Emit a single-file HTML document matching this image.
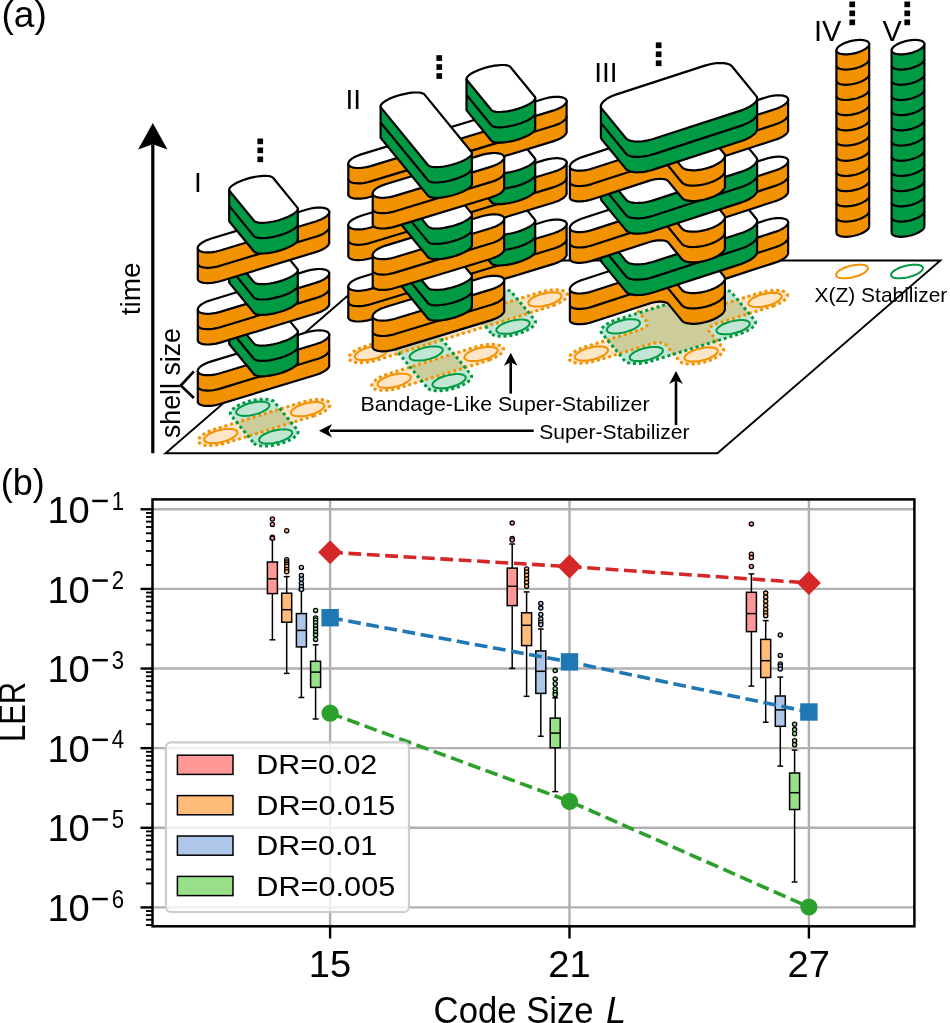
<!DOCTYPE html>
<html><head><meta charset="utf-8"><style>
html,body{margin:0;padding:0;background:#fff;overflow:hidden}
svg{display:block;will-change:transform}
</style></head><body>
<svg width="950" height="1023" viewBox="0 0 950 1023">
<rect width="950" height="1023" fill="#fff"/>
<path d="M165.5 453.3 L717.4 453.3 L940.4 260.5 L388.5 260.5Z" fill="#fff" stroke="#000" stroke-width="1.9" stroke-linejoin="miter"/><path d="M313.3 416.1 L315.7 415.3 L318.0 414.5 L320.2 413.5 L322.2 412.5 L324.0 411.5 L325.6 410.4 L327.0 409.4 L328.1 408.3 L329.0 407.2 L329.6 406.2 L330.0 405.2 L330.0 404.2 L329.8 403.3 L329.3 402.5 L328.5 401.8 L327.5 401.1 L326.2 400.6 L324.7 400.2 L322.9 399.8 L321.0 399.6 L318.9 399.6 L316.7 399.6 L314.3 399.8 L311.9 400.1 L309.4 400.5 L306.8 401.0 L304.3 401.6 L301.9 402.3 L215.1 429.1 L212.7 429.9 L210.4 430.7 L208.2 431.7 L206.2 432.7 L204.4 433.7 L202.8 434.8 L201.4 435.8 L200.3 436.9 L199.4 438.0 L198.8 439.0 L198.4 440.0 L198.4 441.0 L198.6 441.9 L199.1 442.7 L199.9 443.4 L200.9 444.1 L202.2 444.6 L203.7 445.0 L205.5 445.4 L207.4 445.6 L209.5 445.6 L211.7 445.6 L214.1 445.4 L216.5 445.1 L219.0 444.7 L221.6 444.2 L224.1 443.6 L226.5 442.9Z" fill="#fde5c8"/><path d="M253.9 443.2 L254.7 443.9 L255.8 444.5 L257.1 445.1 L258.6 445.5 L260.3 445.8 L262.3 446.0 L264.4 446.1 L266.6 446.0 L269.0 445.9 L271.4 445.6 L273.9 445.2 L276.4 444.7 L278.9 444.1 L281.4 443.4 L283.8 442.6 L286.1 441.7 L288.2 440.8 L290.2 439.8 L292.0 438.7 L293.7 437.7 L295.0 436.6 L296.2 435.5 L297.1 434.5 L297.7 433.4 L298.0 432.4 L298.1 431.5 L297.9 430.6 L297.3 429.8 L274.4 402.1 L273.7 401.3 L272.6 400.7 L271.3 400.1 L269.8 399.7 L268.1 399.4 L266.1 399.2 L264.0 399.1 L261.8 399.2 L259.4 399.3 L257.0 399.6 L254.5 400.0 L252.0 400.5 L249.5 401.1 L247.0 401.8 L244.6 402.6 L242.3 403.5 L240.2 404.4 L238.2 405.4 L236.4 406.5 L234.7 407.5 L233.4 408.6 L232.2 409.7 L231.3 410.7 L230.7 411.8 L230.4 412.8 L230.3 413.7 L230.5 414.6 L231.1 415.4Z" fill="#c2e6d4"/><path d="M236.8 422.4 L248.2 436.2 L291.6 422.8 L280.2 409.0Z" fill="#cdcd9c"/><path d="M313.3 416.1 L315.7 415.3 L318.0 414.5 L320.2 413.5 L322.2 412.5 L324.0 411.5 L325.6 410.4 L327.0 409.4 L328.1 408.3 L329.0 407.2 L329.6 406.2 L330.0 405.2 L330.0 404.2 L329.8 403.3 L329.3 402.5 L328.5 401.8 L327.5 401.1 L326.2 400.6 L324.7 400.2 L322.9 399.8 L321.0 399.6 L318.9 399.6 L316.7 399.6 L314.3 399.8 L311.9 400.1 L309.4 400.5 L306.8 401.0 L304.3 401.6 L301.9 402.3 L215.1 429.1 L212.7 429.9 L210.4 430.7 L208.2 431.7 L206.2 432.7 L204.4 433.7 L202.8 434.8 L201.4 435.8 L200.3 436.9 L199.4 438.0 L198.8 439.0 L198.4 440.0 L198.4 441.0 L198.6 441.9 L199.1 442.7 L199.9 443.4 L200.9 444.1 L202.2 444.6 L203.7 445.0 L205.5 445.4 L207.4 445.6 L209.5 445.6 L211.7 445.6 L214.1 445.4 L216.5 445.1 L219.0 444.7 L221.6 444.2 L224.1 443.6 L226.5 442.9Z" fill="none" stroke="#f39200" stroke-width="3" stroke-dasharray="3 2.9"/><path d="M253.9 443.2 L254.7 443.9 L255.8 444.5 L257.1 445.1 L258.6 445.5 L260.3 445.8 L262.3 446.0 L264.4 446.1 L266.6 446.0 L269.0 445.9 L271.4 445.6 L273.9 445.2 L276.4 444.7 L278.9 444.1 L281.4 443.4 L283.8 442.6 L286.1 441.7 L288.2 440.8 L290.2 439.8 L292.0 438.7 L293.7 437.7 L295.0 436.6 L296.2 435.5 L297.1 434.5 L297.7 433.4 L298.0 432.4 L298.1 431.5 L297.9 430.6 L297.3 429.8 L274.4 402.1 L273.7 401.3 L272.6 400.7 L271.3 400.1 L269.8 399.7 L268.1 399.4 L266.1 399.2 L264.0 399.1 L261.8 399.2 L259.4 399.3 L257.0 399.6 L254.5 400.0 L252.0 400.5 L249.5 401.1 L247.0 401.8 L244.6 402.6 L242.3 403.5 L240.2 404.4 L238.2 405.4 L236.4 406.5 L234.7 407.5 L233.4 408.6 L232.2 409.7 L231.3 410.7 L230.7 411.8 L230.4 412.8 L230.3 413.7 L230.5 414.6 L231.1 415.4Z" fill="none" stroke="#009a44" stroke-width="3" stroke-dasharray="3 2.9"/><path d="M236.9 431.0 L236.3 430.5 L235.5 430.0 L234.6 429.6 L233.4 429.3 L232.1 429.1 L230.7 428.9 L229.2 428.9 L227.5 428.9 L225.8 429.0 L224.0 429.2 L222.1 429.5 L220.2 429.9 L218.4 430.4 L216.6 430.9 L214.8 431.5 L213.1 432.1 L211.5 432.8 L210.0 433.5 L208.7 434.3 L207.5 435.1 L206.4 435.9 L205.6 436.7 L204.9 437.5 L204.5 438.2 L204.2 439.0 L204.2 439.7 L204.4 440.4 L204.7 441.0 L205.3 441.5 L206.1 442.0 L207.0 442.4 L208.2 442.7 L209.5 442.9 L210.9 443.1 L212.4 443.1 L214.1 443.1 L215.8 443.0 L217.6 442.8 L219.5 442.5 L221.4 442.1 L223.2 441.6 L225.0 441.1 L226.8 440.5 L228.5 439.9 L230.1 439.2 L231.6 438.5 L232.9 437.7 L234.1 436.9 L235.2 436.1 L236.0 435.3 L236.7 434.5 L237.1 433.8 L237.4 433.0 L237.4 432.3 L237.2 431.6Z" fill="#fde5c8" stroke="#f39200" stroke-width="2"/><path d="M323.7 404.2 L323.1 403.7 L322.3 403.2 L321.4 402.8 L320.2 402.5 L318.9 402.3 L317.5 402.1 L316.0 402.1 L314.3 402.1 L312.6 402.2 L310.8 402.4 L308.9 402.7 L307.0 403.1 L305.2 403.6 L303.4 404.1 L301.6 404.7 L299.9 405.3 L298.3 406.0 L296.8 406.7 L295.5 407.5 L294.3 408.3 L293.2 409.1 L292.4 409.9 L291.7 410.7 L291.3 411.4 L291.0 412.2 L291.0 412.9 L291.2 413.6 L291.5 414.2 L292.1 414.7 L292.9 415.2 L293.8 415.6 L295.0 415.9 L296.3 416.1 L297.7 416.3 L299.2 416.3 L300.9 416.3 L302.6 416.2 L304.4 416.0 L306.3 415.7 L308.2 415.3 L310.0 414.8 L311.8 414.3 L313.6 413.7 L315.3 413.1 L316.9 412.4 L318.4 411.7 L319.7 410.9 L320.9 410.1 L322.0 409.3 L322.8 408.5 L323.5 407.7 L323.9 407.0 L324.2 406.2 L324.2 405.5 L324.0 404.8Z" fill="#fde5c8" stroke="#f39200" stroke-width="2"/><path d="M268.8 403.8 L268.2 403.2 L267.5 402.8 L266.5 402.4 L265.4 402.1 L264.1 401.8 L262.7 401.7 L261.1 401.6 L259.4 401.7 L257.7 401.8 L255.9 402.0 L254.1 402.3 L252.2 402.7 L250.3 403.1 L248.5 403.6 L246.7 404.2 L245.0 404.9 L243.4 405.6 L242.0 406.3 L240.6 407.0 L239.4 407.8 L238.4 408.6 L237.6 409.4 L236.9 410.2 L236.4 411.0 L236.2 411.7 L236.2 412.4 L236.3 413.1 L236.7 413.7 L237.3 414.3 L238.0 414.7 L239.0 415.1 L240.1 415.4 L241.4 415.7 L242.8 415.8 L244.4 415.9 L246.1 415.8 L247.8 415.7 L249.6 415.5 L251.4 415.2 L253.3 414.8 L255.2 414.4 L257.0 413.9 L258.8 413.3 L260.5 412.6 L262.1 411.9 L263.5 411.2 L264.9 410.5 L266.1 409.7 L267.1 408.9 L267.9 408.1 L268.6 407.3 L269.1 406.5 L269.3 405.8 L269.3 405.1 L269.2 404.4Z" fill="#c2e6d4" stroke="#009a44" stroke-width="2"/><path d="M291.7 431.5 L291.1 430.9 L290.4 430.5 L289.4 430.1 L288.3 429.8 L287.0 429.5 L285.6 429.4 L284.0 429.3 L282.3 429.4 L280.6 429.5 L278.8 429.7 L277.0 430.0 L275.1 430.4 L273.2 430.8 L271.4 431.3 L269.6 431.9 L267.9 432.6 L266.3 433.3 L264.9 434.0 L263.5 434.7 L262.3 435.5 L261.3 436.3 L260.5 437.1 L259.8 437.9 L259.3 438.7 L259.1 439.4 L259.1 440.1 L259.2 440.8 L259.6 441.4 L260.2 442.0 L260.9 442.4 L261.9 442.8 L263.0 443.1 L264.3 443.4 L265.7 443.5 L267.3 443.6 L269.0 443.5 L270.7 443.4 L272.5 443.2 L274.3 442.9 L276.2 442.5 L278.1 442.1 L279.9 441.6 L281.7 441.0 L283.4 440.3 L285.0 439.6 L286.4 438.9 L287.8 438.2 L289.0 437.4 L290.0 436.6 L290.8 435.8 L291.5 435.0 L292.0 434.2 L292.2 433.5 L292.2 432.8 L292.1 432.1Z" fill="#c2e6d4" stroke="#009a44" stroke-width="2"/><path d="M553.1 305.6 L555.4 304.7 L557.5 303.8 L559.5 302.8 L561.3 301.7 L563.0 300.7 L564.3 299.6 L565.5 298.5 L566.4 297.5 L567.0 296.4 L567.3 295.4 L567.4 294.5 L567.2 293.6 L566.6 292.8 L565.9 292.0 L564.8 291.4 L563.5 290.8 L562.0 290.4 L560.3 290.1 L558.3 289.9 L556.2 289.8 L554.0 289.9 L551.6 290.0 L549.2 290.3 L546.7 290.7 L544.2 291.2 L541.7 291.8 L539.2 292.5 L365.6 346.1 L363.2 346.9 L360.9 347.8 L358.8 348.7 L356.8 349.7 L355.0 350.8 L353.3 351.8 L352.0 352.9 L350.8 354.0 L349.9 355.0 L349.3 356.1 L349.0 357.1 L348.9 358.0 L349.1 358.9 L349.7 359.8 L350.4 360.5 L351.5 361.1 L352.8 361.7 L354.3 362.1 L356.0 362.4 L358.0 362.6 L360.1 362.7 L362.3 362.6 L364.7 362.5 L367.1 362.2 L369.6 361.8 L372.1 361.3 L374.6 360.7 L377.1 360.0 L550.7 306.4Z" fill="#fde5c8"/><path d="M489.2 360.1 L491.5 359.2 L493.6 358.3 L495.6 357.3 L497.4 356.2 L499.1 355.2 L500.4 354.1 L501.6 353.0 L502.5 352.0 L503.1 350.9 L503.4 349.9 L503.5 349.0 L503.3 348.1 L502.7 347.2 L502.0 346.5 L500.9 345.9 L499.6 345.3 L498.1 344.9 L496.4 344.6 L494.4 344.4 L492.3 344.3 L490.1 344.4 L487.7 344.5 L485.3 344.8 L482.8 345.2 L480.3 345.7 L477.8 346.3 L475.3 347.0 L388.5 373.8 L386.1 374.6 L383.8 375.5 L381.7 376.4 L379.7 377.4 L377.9 378.5 L376.2 379.5 L374.9 380.6 L373.7 381.7 L372.8 382.7 L372.2 383.8 L371.9 384.8 L371.8 385.7 L372.0 386.6 L372.6 387.5 L373.3 388.2 L374.4 388.8 L375.7 389.4 L377.2 389.8 L378.9 390.1 L380.9 390.3 L383.0 390.4 L385.2 390.3 L387.6 390.2 L390.0 389.9 L392.5 389.5 L395.0 389.0 L397.5 388.4 L400.0 387.7 L486.8 360.9Z" fill="#fde5c8"/><path d="M492.1 334.1 L493.1 334.8 L494.4 335.3 L495.9 335.7 L497.7 336.1 L499.6 336.3 L501.7 336.3 L503.9 336.3 L506.3 336.1 L508.7 335.8 L511.2 335.4 L513.8 334.9 L516.3 334.3 L518.7 333.6 L521.1 332.8 L523.4 332.0 L525.6 331.0 L527.6 330.0 L529.4 329.0 L531.0 327.9 L532.4 326.9 L533.5 325.8 L534.4 324.7 L535.0 323.7 L535.4 322.7 L535.4 321.7 L535.2 320.8 L534.7 320.0 L511.8 292.3 L511.0 291.6 L510.0 290.9 L508.7 290.4 L507.2 290.0 L505.4 289.6 L503.5 289.4 L501.4 289.4 L499.2 289.4 L496.8 289.6 L494.4 289.9 L491.9 290.3 L489.3 290.8 L486.8 291.4 L484.4 292.1 L482.0 292.9 L479.7 293.7 L477.5 294.7 L475.5 295.7 L473.7 296.7 L472.1 297.8 L470.7 298.8 L469.6 299.9 L468.7 301.0 L468.1 302.0 L467.7 303.0 L467.7 304.0 L467.9 304.9 L468.4 305.7 L491.3 333.4Z" fill="#c2e6d4"/><path d="M428.2 388.6 L429.2 389.3 L430.5 389.8 L432.0 390.2 L433.8 390.6 L435.7 390.8 L437.8 390.8 L440.0 390.8 L442.4 390.6 L444.8 390.3 L447.3 389.9 L449.9 389.4 L452.4 388.8 L454.8 388.1 L457.2 387.3 L459.5 386.5 L461.7 385.5 L463.7 384.5 L465.5 383.5 L467.1 382.4 L468.5 381.4 L469.6 380.3 L470.5 379.2 L471.1 378.2 L471.5 377.2 L471.5 376.2 L471.3 375.3 L470.8 374.5 L425.0 319.1 L424.2 318.4 L423.2 317.7 L421.9 317.2 L420.4 316.8 L418.6 316.4 L416.7 316.2 L414.6 316.2 L412.4 316.2 L410.0 316.4 L407.6 316.7 L405.1 317.1 L402.5 317.6 L400.0 318.2 L397.6 318.9 L395.2 319.7 L392.9 320.5 L390.7 321.5 L388.7 322.5 L386.9 323.5 L385.3 324.6 L383.9 325.6 L382.8 326.7 L381.9 327.8 L381.3 328.8 L380.9 329.8 L380.9 330.8 L381.1 331.7 L381.6 332.5 L427.4 387.9Z" fill="#c2e6d4"/><path d="M474.1 312.6 L485.6 326.5 L529.0 313.1 L517.5 299.2Z" fill="#cdcd9c"/><path d="M387.3 339.4 L398.8 353.3 L442.2 339.9 L430.7 326.0Z" fill="#cdcd9c"/><path d="M410.2 367.1 L421.7 381.0 L465.1 367.6 L453.6 353.7Z" fill="#cdcd9c"/><path d="M553.1 305.6 L555.4 304.7 L557.5 303.8 L559.5 302.8 L561.3 301.7 L563.0 300.7 L564.3 299.6 L565.5 298.5 L566.4 297.5 L567.0 296.4 L567.3 295.4 L567.4 294.5 L567.2 293.6 L566.6 292.8 L565.9 292.0 L564.8 291.4 L563.5 290.8 L562.0 290.4 L560.3 290.1 L558.3 289.9 L556.2 289.8 L554.0 289.9 L551.6 290.0 L549.2 290.3 L546.7 290.7 L544.2 291.2 L541.7 291.8 L539.2 292.5 L365.6 346.1 L363.2 346.9 L360.9 347.8 L358.8 348.7 L356.8 349.7 L355.0 350.8 L353.3 351.8 L352.0 352.9 L350.8 354.0 L349.9 355.0 L349.3 356.1 L349.0 357.1 L348.9 358.0 L349.1 358.9 L349.7 359.8 L350.4 360.5 L351.5 361.1 L352.8 361.7 L354.3 362.1 L356.0 362.4 L358.0 362.6 L360.1 362.7 L362.3 362.6 L364.7 362.5 L367.1 362.2 L369.6 361.8 L372.1 361.3 L374.6 360.7 L377.1 360.0 L550.7 306.4Z" fill="none" stroke="#f39200" stroke-width="3" stroke-dasharray="3 2.9"/><path d="M489.2 360.1 L491.5 359.2 L493.6 358.3 L495.6 357.3 L497.4 356.2 L499.1 355.2 L500.4 354.1 L501.6 353.0 L502.5 352.0 L503.1 350.9 L503.4 349.9 L503.5 349.0 L503.3 348.1 L502.7 347.2 L502.0 346.5 L500.9 345.9 L499.6 345.3 L498.1 344.9 L496.4 344.6 L494.4 344.4 L492.3 344.3 L490.1 344.4 L487.7 344.5 L485.3 344.8 L482.8 345.2 L480.3 345.7 L477.8 346.3 L475.3 347.0 L388.5 373.8 L386.1 374.6 L383.8 375.5 L381.7 376.4 L379.7 377.4 L377.9 378.5 L376.2 379.5 L374.9 380.6 L373.7 381.7 L372.8 382.7 L372.2 383.8 L371.9 384.8 L371.8 385.7 L372.0 386.6 L372.6 387.5 L373.3 388.2 L374.4 388.8 L375.7 389.4 L377.2 389.8 L378.9 390.1 L380.9 390.3 L383.0 390.4 L385.2 390.3 L387.6 390.2 L390.0 389.9 L392.5 389.5 L395.0 389.0 L397.5 388.4 L400.0 387.7 L486.8 360.9Z" fill="none" stroke="#f39200" stroke-width="3" stroke-dasharray="3 2.9"/><path d="M492.1 334.1 L493.1 334.8 L494.4 335.3 L495.9 335.7 L497.7 336.1 L499.6 336.3 L501.7 336.3 L503.9 336.3 L506.3 336.1 L508.7 335.8 L511.2 335.4 L513.8 334.9 L516.3 334.3 L518.7 333.6 L521.1 332.8 L523.4 332.0 L525.6 331.0 L527.6 330.0 L529.4 329.0 L531.0 327.9 L532.4 326.9 L533.5 325.8 L534.4 324.7 L535.0 323.7 L535.4 322.7 L535.4 321.7 L535.2 320.8 L534.7 320.0 L511.8 292.3 L511.0 291.6 L510.0 290.9 L508.7 290.4 L507.2 290.0 L505.4 289.6 L503.5 289.4 L501.4 289.4 L499.2 289.4 L496.8 289.6 L494.4 289.9 L491.9 290.3 L489.3 290.8 L486.8 291.4 L484.4 292.1 L482.0 292.9 L479.7 293.7 L477.5 294.7 L475.5 295.7 L473.7 296.7 L472.1 297.8 L470.7 298.8 L469.6 299.9 L468.7 301.0 L468.1 302.0 L467.7 303.0 L467.7 304.0 L467.9 304.9 L468.4 305.7 L491.3 333.4Z" fill="none" stroke="#009a44" stroke-width="3" stroke-dasharray="3 2.9"/><path d="M428.2 388.6 L429.2 389.3 L430.5 389.8 L432.0 390.2 L433.8 390.6 L435.7 390.8 L437.8 390.8 L440.0 390.8 L442.4 390.6 L444.8 390.3 L447.3 389.9 L449.9 389.4 L452.4 388.8 L454.8 388.1 L457.2 387.3 L459.5 386.5 L461.7 385.5 L463.7 384.5 L465.5 383.5 L467.1 382.4 L468.5 381.4 L469.6 380.3 L470.5 379.2 L471.1 378.2 L471.5 377.2 L471.5 376.2 L471.3 375.3 L470.8 374.5 L425.0 319.1 L424.2 318.4 L423.2 317.7 L421.9 317.2 L420.4 316.8 L418.6 316.4 L416.7 316.2 L414.6 316.2 L412.4 316.2 L410.0 316.4 L407.6 316.7 L405.1 317.1 L402.5 317.6 L400.0 318.2 L397.6 318.9 L395.2 319.7 L392.9 320.5 L390.7 321.5 L388.7 322.5 L386.9 323.5 L385.3 324.6 L383.9 325.6 L382.8 326.7 L381.9 327.8 L381.3 328.8 L380.9 329.8 L380.9 330.8 L381.1 331.7 L381.6 332.5 L427.4 387.9Z" fill="none" stroke="#009a44" stroke-width="3" stroke-dasharray="3 2.9"/><path d="M410.3 375.8 L409.7 375.2 L409.0 374.8 L408.0 374.4 L406.9 374.1 L405.6 373.8 L404.2 373.7 L402.6 373.6 L400.9 373.7 L399.2 373.8 L397.4 374.0 L395.6 374.3 L393.7 374.7 L391.8 375.1 L390.0 375.6 L388.2 376.2 L386.5 376.9 L384.9 377.6 L383.5 378.3 L382.1 379.0 L380.9 379.8 L379.9 380.6 L379.1 381.4 L378.4 382.2 L377.9 383.0 L377.7 383.7 L377.7 384.4 L377.8 385.1 L378.2 385.7 L378.8 386.3 L379.5 386.7 L380.5 387.1 L381.6 387.4 L382.9 387.7 L384.3 387.8 L385.9 387.9 L387.6 387.8 L389.3 387.7 L391.1 387.5 L392.9 387.2 L394.8 386.8 L396.7 386.4 L398.5 385.9 L400.3 385.3 L402.0 384.6 L403.6 383.9 L405.0 383.2 L406.4 382.5 L407.6 381.7 L408.6 380.9 L409.4 380.1 L410.1 379.3 L410.6 378.5 L410.8 377.8 L410.8 377.1 L410.7 376.4Z" fill="#fde5c8" stroke="#f39200" stroke-width="2"/><path d="M497.1 349.0 L496.5 348.4 L495.8 348.0 L494.8 347.6 L493.7 347.3 L492.4 347.0 L491.0 346.9 L489.4 346.8 L487.7 346.9 L486.0 347.0 L484.2 347.2 L482.4 347.5 L480.5 347.9 L478.6 348.3 L476.8 348.8 L475.0 349.4 L473.3 350.1 L471.7 350.8 L470.3 351.5 L468.9 352.2 L467.7 353.0 L466.7 353.8 L465.9 354.6 L465.2 355.4 L464.7 356.2 L464.5 356.9 L464.5 357.6 L464.6 358.3 L465.0 358.9 L465.6 359.5 L466.3 359.9 L467.3 360.3 L468.4 360.6 L469.7 360.9 L471.1 361.0 L472.7 361.1 L474.4 361.0 L476.1 360.9 L477.9 360.7 L479.7 360.4 L481.6 360.0 L483.5 359.6 L485.3 359.1 L487.1 358.5 L488.8 357.8 L490.4 357.1 L491.8 356.4 L493.2 355.7 L494.4 354.9 L495.4 354.1 L496.2 353.3 L496.9 352.5 L497.4 351.7 L497.6 351.0 L497.6 350.3 L497.5 349.6Z" fill="#fde5c8" stroke="#f39200" stroke-width="2"/><path d="M387.4 348.1 L386.8 347.5 L386.1 347.1 L385.1 346.7 L384.0 346.4 L382.7 346.1 L381.3 346.0 L379.7 345.9 L378.0 346.0 L376.3 346.1 L374.5 346.3 L372.7 346.6 L370.8 347.0 L368.9 347.4 L367.1 347.9 L365.3 348.5 L363.6 349.2 L362.0 349.9 L360.6 350.6 L359.2 351.3 L358.0 352.1 L357.0 352.9 L356.2 353.7 L355.5 354.5 L355.0 355.3 L354.8 356.0 L354.8 356.7 L354.9 357.4 L355.3 358.0 L355.9 358.6 L356.6 359.0 L357.6 359.4 L358.7 359.7 L360.0 360.0 L361.4 360.1 L363.0 360.2 L364.7 360.1 L366.4 360.0 L368.2 359.8 L370.0 359.5 L371.9 359.1 L373.8 358.7 L375.6 358.2 L377.4 357.6 L379.1 356.9 L380.7 356.2 L382.1 355.5 L383.5 354.8 L384.7 354.0 L385.7 353.2 L386.5 352.4 L387.2 351.6 L387.7 350.8 L387.9 350.1 L387.9 349.4 L387.8 348.7Z" fill="#fde5c8" stroke="#f39200" stroke-width="2"/><path d="M561.0 294.5 L560.4 293.9 L559.7 293.5 L558.7 293.1 L557.6 292.8 L556.3 292.5 L554.9 292.4 L553.3 292.3 L551.6 292.4 L549.9 292.5 L548.1 292.7 L546.3 293.0 L544.4 293.4 L542.5 293.8 L540.7 294.3 L538.9 294.9 L537.2 295.6 L535.6 296.3 L534.2 297.0 L532.8 297.7 L531.6 298.5 L530.6 299.3 L529.8 300.1 L529.1 300.9 L528.6 301.7 L528.4 302.4 L528.4 303.1 L528.5 303.8 L528.9 304.4 L529.5 305.0 L530.2 305.4 L531.2 305.8 L532.3 306.1 L533.6 306.4 L535.0 306.5 L536.6 306.6 L538.3 306.5 L540.0 306.4 L541.8 306.2 L543.6 305.9 L545.5 305.5 L547.4 305.1 L549.2 304.6 L551.0 304.0 L552.7 303.3 L554.3 302.6 L555.7 301.9 L557.1 301.2 L558.3 300.4 L559.3 299.6 L560.1 298.8 L560.8 298.0 L561.3 297.2 L561.5 296.5 L561.5 295.8 L561.4 295.1Z" fill="#fde5c8" stroke="#f39200" stroke-width="2"/><path d="M442.3 348.5 L441.7 348.0 L440.9 347.5 L440.0 347.1 L438.8 346.8 L437.5 346.6 L436.1 346.4 L434.6 346.4 L432.9 346.4 L431.2 346.5 L429.4 346.7 L427.5 347.0 L425.6 347.4 L423.8 347.9 L422.0 348.4 L420.2 349.0 L418.5 349.6 L416.9 350.3 L415.4 351.0 L414.1 351.8 L412.9 352.6 L411.8 353.4 L411.0 354.2 L410.3 355.0 L409.9 355.7 L409.6 356.5 L409.6 357.2 L409.8 357.9 L410.1 358.5 L410.7 359.0 L411.5 359.5 L412.4 359.9 L413.6 360.2 L414.9 360.4 L416.3 360.6 L417.8 360.6 L419.5 360.6 L421.2 360.5 L423.0 360.3 L424.9 360.0 L426.8 359.6 L428.6 359.1 L430.4 358.6 L432.2 358.0 L433.9 357.4 L435.5 356.7 L437.0 356.0 L438.3 355.2 L439.5 354.4 L440.6 353.6 L441.4 352.8 L442.1 352.0 L442.5 351.3 L442.8 350.5 L442.8 349.8 L442.6 349.1Z" fill="#c2e6d4" stroke="#009a44" stroke-width="2"/><path d="M465.2 376.2 L464.6 375.7 L463.8 375.2 L462.9 374.8 L461.7 374.5 L460.4 374.3 L459.0 374.1 L457.5 374.1 L455.8 374.1 L454.1 374.2 L452.3 374.4 L450.4 374.7 L448.5 375.1 L446.7 375.6 L444.9 376.1 L443.1 376.7 L441.4 377.3 L439.8 378.0 L438.3 378.7 L437.0 379.5 L435.8 380.3 L434.7 381.1 L433.9 381.9 L433.2 382.7 L432.8 383.4 L432.5 384.2 L432.5 384.9 L432.7 385.6 L433.0 386.2 L433.6 386.7 L434.4 387.2 L435.3 387.6 L436.5 387.9 L437.8 388.1 L439.2 388.3 L440.7 388.3 L442.4 388.3 L444.1 388.2 L445.9 388.0 L447.8 387.7 L449.7 387.3 L451.5 386.8 L453.3 386.3 L455.1 385.7 L456.8 385.1 L458.4 384.4 L459.9 383.7 L461.2 382.9 L462.4 382.1 L463.5 381.3 L464.3 380.5 L465.0 379.7 L465.4 379.0 L465.7 378.2 L465.7 377.5 L465.5 376.8Z" fill="#c2e6d4" stroke="#009a44" stroke-width="2"/><path d="M529.1 321.7 L528.5 321.2 L527.7 320.7 L526.8 320.3 L525.6 320.0 L524.3 319.8 L522.9 319.6 L521.4 319.6 L519.7 319.6 L518.0 319.7 L516.2 319.9 L514.3 320.2 L512.4 320.6 L510.6 321.1 L508.8 321.6 L507.0 322.2 L505.3 322.8 L503.7 323.5 L502.2 324.2 L500.9 325.0 L499.7 325.8 L498.6 326.6 L497.8 327.4 L497.1 328.2 L496.7 328.9 L496.4 329.7 L496.4 330.4 L496.6 331.1 L496.9 331.7 L497.5 332.2 L498.3 332.7 L499.2 333.1 L500.4 333.4 L501.7 333.6 L503.1 333.8 L504.6 333.8 L506.3 333.8 L508.0 333.7 L509.8 333.5 L511.7 333.2 L513.6 332.8 L515.4 332.3 L517.2 331.8 L519.0 331.2 L520.7 330.6 L522.3 329.9 L523.8 329.2 L525.1 328.4 L526.3 327.6 L527.4 326.8 L528.2 326.0 L528.9 325.2 L529.3 324.5 L529.6 323.7 L529.6 323.0 L529.4 322.3Z" fill="#c2e6d4" stroke="#009a44" stroke-width="2"/><path d="M772.8 306.2 L773.5 306.0 L775.1 305.3 L775.8 305.1 L777.3 304.4 L777.9 304.1 L779.3 303.4 L779.9 303.1 L781.2 302.4 L781.7 302.1 L782.8 301.3 L783.3 301.0 L784.2 300.3 L784.6 299.9 L785.4 299.2 L785.7 298.9 L786.3 298.1 L786.6 297.8 L787.0 297.1 L787.1 296.8 L787.4 296.1 L787.4 295.8 L787.5 295.1 L787.4 294.8 L787.3 294.2 L787.2 293.9 L786.8 293.4 L786.6 293.1 L786.1 292.6 L785.8 292.4 L785.1 292.0 L784.7 291.8 L783.8 291.4 L783.4 291.3 L782.3 291.0 L781.9 290.9 L780.6 290.6 L780.1 290.6 L778.7 290.4 L778.1 290.4 L776.7 290.3 L776.0 290.3 L774.4 290.4 L773.8 290.4 L772.1 290.5 L771.4 290.6 L769.7 290.8 L768.9 290.9 L767.2 291.1 L766.4 291.3 L764.7 291.6 L763.9 291.8 L762.2 292.2 L761.4 292.4 L759.5 293.0 L759.1 293.1 L707.2 309.1 L705.8 309.5 L704.3 309.9 L702.8 310.2 L701.3 310.4 L699.8 310.6 L698.4 310.7 L697.0 310.7 L695.8 310.7 L694.6 310.6 L693.6 310.4 L692.7 310.1 L691.9 309.8 L691.3 309.4 L690.8 309.0 L677.1 292.4 L677.0 292.3 L676.4 291.7 L676.1 291.5 L675.4 291.1 L675.0 290.9 L674.1 290.5 L673.7 290.4 L672.6 290.1 L672.2 290.0 L670.9 289.7 L670.4 289.7 L669.0 289.5 L668.4 289.5 L667.0 289.4 L666.3 289.4 L664.7 289.5 L664.1 289.5 L662.4 289.6 L661.7 289.7 L660.0 289.9 L659.2 290.0 L657.5 290.2 L656.7 290.4 L655.0 290.7 L654.2 290.9 L652.5 291.3 L651.7 291.5 L650.0 292.0 L649.3 292.2 L647.6 292.8 L646.9 293.0 L645.3 293.7 L644.6 293.9 L643.1 294.6 L642.5 294.9 L641.1 295.6 L640.5 295.9 L639.2 296.6 L638.7 296.9 L637.6 297.7 L637.1 298.0 L636.2 298.7 L635.8 299.1 L635.0 299.8 L634.7 300.1 L634.1 300.9 L633.8 301.2 L633.4 301.9 L633.3 302.2 L633.0 302.9 L633.0 303.2 L632.9 303.9 L633.0 304.2 L633.1 304.8 L633.2 305.1 L633.6 305.7 L633.7 305.8 L647.4 322.4 L647.7 322.9 L647.8 323.4 L647.8 324.0 L647.6 324.6 L647.2 325.2 L646.7 325.8 L646.0 326.5 L645.2 327.1 L644.2 327.8 L643.1 328.4 L641.9 329.0 L640.6 329.5 L639.2 330.1 L637.8 330.5 L585.9 346.6 L585.5 346.7 L583.7 347.3 L583.0 347.5 L581.4 348.2 L580.7 348.4 L579.2 349.1 L578.6 349.4 L577.2 350.1 L576.6 350.4 L575.3 351.1 L574.8 351.4 L573.7 352.2 L573.2 352.5 L572.3 353.2 L571.9 353.6 L571.1 354.3 L570.8 354.6 L570.2 355.4 L569.9 355.7 L569.5 356.4 L569.4 356.7 L569.1 357.4 L569.1 357.7 L569.0 358.4 L569.1 358.7 L569.2 359.3 L569.3 359.6 L569.7 360.1 L569.9 360.4 L570.4 360.9 L570.7 361.1 L571.4 361.5 L571.8 361.7 L572.7 362.1 L573.1 362.2 L574.2 362.5 L574.6 362.6 L575.9 362.9 L576.4 362.9 L577.8 363.1 L578.4 363.1 L579.8 363.2 L580.5 363.2 L582.1 363.1 L582.7 363.1 L584.4 363.0 L585.1 362.9 L586.8 362.7 L587.6 362.6 L589.3 362.4 L590.1 362.2 L591.8 361.9 L592.6 361.7 L594.3 361.3 L595.1 361.1 L597.0 360.5 L597.4 360.4 L649.3 344.4 L650.7 344.0 L652.2 343.6 L653.7 343.3 L655.2 343.1 L656.7 342.9 L658.1 342.8 L659.5 342.8 L660.7 342.8 L661.9 342.9 L662.9 343.1 L663.8 343.4 L664.6 343.7 L665.2 344.1 L665.7 344.5 L679.4 361.1 L679.5 361.2 L680.1 361.8 L680.4 362.0 L681.1 362.4 L681.5 362.6 L682.4 363.0 L682.8 363.1 L683.9 363.4 L684.3 363.5 L685.6 363.8 L686.1 363.8 L687.5 364.0 L688.1 364.0 L689.5 364.1 L690.2 364.1 L691.8 364.0 L692.4 364.0 L694.1 363.9 L694.8 363.8 L696.5 363.6 L697.3 363.5 L699.0 363.3 L699.8 363.1 L701.5 362.8 L702.3 362.6 L704.0 362.2 L704.8 362.0 L706.5 361.5 L707.2 361.3 L708.9 360.7 L709.6 360.5 L711.2 359.8 L711.9 359.6 L713.4 358.9 L714.0 358.6 L715.4 357.9 L716.0 357.6 L717.3 356.9 L717.8 356.6 L718.9 355.8 L719.4 355.5 L720.3 354.8 L720.7 354.4 L721.5 353.7 L721.8 353.4 L722.4 352.6 L722.7 352.3 L723.1 351.6 L723.2 351.3 L723.5 350.6 L723.5 350.3 L723.6 349.6 L723.5 349.3 L723.4 348.7 L723.3 348.4 L722.9 347.8 L722.8 347.7 L709.1 331.1 L708.8 330.6 L708.7 330.1 L708.7 329.5 L708.9 328.9 L709.3 328.3 L709.8 327.7 L710.5 327.0 L711.3 326.4 L712.3 325.7 L713.4 325.1 L714.6 324.5 L715.9 324.0 L717.3 323.4 L718.7 323.0 L770.6 306.9 L771.0 306.8Z" fill="#fde5c8"/><path d="M704.5 292.6 L617.7 319.4 L615.3 320.2 L613.0 321.0 L610.8 322.0 L608.8 323.0 L607.0 324.0 L605.4 325.1 L604.0 326.1 L602.9 327.2 L602.0 328.3 L601.4 329.3 L601.0 330.3 L601.0 331.3 L601.2 332.2 L601.7 333.0 L624.6 360.7 L625.4 361.4 L626.4 362.1 L627.7 362.6 L629.2 363.0 L631.0 363.4 L632.9 363.6 L635.0 363.6 L637.2 363.6 L639.6 363.4 L642.0 363.1 L644.5 362.7 L647.1 362.2 L649.6 361.6 L652.0 360.9 L738.8 334.1 L741.2 333.3 L743.5 332.5 L745.7 331.5 L747.7 330.5 L749.5 329.5 L751.1 328.4 L752.5 327.4 L753.6 326.3 L754.5 325.2 L755.1 324.2 L755.5 323.2 L755.5 322.2 L755.3 321.3 L754.8 320.5 L731.9 292.8 L731.1 292.1 L730.1 291.4 L728.8 290.9 L727.3 290.5 L725.5 290.1 L723.6 289.9 L721.5 289.9 L719.3 289.9 L716.9 290.1 L714.5 290.4 L712.0 290.8 L709.4 291.3 L706.9 291.9Z" fill="#c2e6d4"/><path d="M707.2 309.1 L705.8 309.5 L704.3 309.9 L702.8 310.2 L701.3 310.4 L699.8 310.6 L698.4 310.7 L697.0 310.7 L695.8 310.7 L694.6 310.6 L693.6 310.4 L692.7 310.1 L691.9 309.8 L691.3 309.4 L690.8 309.0 L682.8 299.3 L639.4 312.7 L647.4 322.4 L647.7 322.9 L647.8 323.4 L647.8 324.0 L647.6 324.6 L647.2 325.2 L646.7 325.8 L646.0 326.5 L645.2 327.1 L644.2 327.8 L643.1 328.4 L641.9 329.0 L640.6 329.5 L639.2 330.1 L637.8 330.5 L607.4 339.9 L618.9 353.8 L649.3 344.4 L650.7 344.0 L652.2 343.6 L653.7 343.3 L655.2 343.1 L656.7 342.9 L658.1 342.8 L659.5 342.8 L660.7 342.8 L661.9 342.9 L662.9 343.1 L663.8 343.4 L664.6 343.7 L665.2 344.1 L665.7 344.5 L673.7 354.2 L717.1 340.8 L709.1 331.1 L708.8 330.6 L708.7 330.1 L708.7 329.5 L708.9 328.9 L709.3 328.3 L709.8 327.7 L710.5 327.0 L711.3 326.4 L712.3 325.7 L713.4 325.1 L714.6 324.5 L715.9 324.0 L717.3 323.4 L718.7 323.0 L749.1 313.6 L737.6 299.7Z" fill="#cdcd9c"/><path d="M772.8 306.2 L773.5 306.0 L775.1 305.3 L775.8 305.1 L777.3 304.4 L777.9 304.1 L779.3 303.4 L779.9 303.1 L781.2 302.4 L781.7 302.1 L782.8 301.3 L783.3 301.0 L784.2 300.3 L784.6 299.9 L785.4 299.2 L785.7 298.9 L786.3 298.1 L786.6 297.8 L787.0 297.1 L787.1 296.8 L787.4 296.1 L787.4 295.8 L787.5 295.1 L787.4 294.8 L787.3 294.2 L787.2 293.9 L786.8 293.4 L786.6 293.1 L786.1 292.6 L785.8 292.4 L785.1 292.0 L784.7 291.8 L783.8 291.4 L783.4 291.3 L782.3 291.0 L781.9 290.9 L780.6 290.6 L780.1 290.6 L778.7 290.4 L778.1 290.4 L776.7 290.3 L776.0 290.3 L774.4 290.4 L773.8 290.4 L772.1 290.5 L771.4 290.6 L769.7 290.8 L768.9 290.9 L767.2 291.1 L766.4 291.3 L764.7 291.6 L763.9 291.8 L762.2 292.2 L761.4 292.4 L759.5 293.0 L759.1 293.1 L707.2 309.1 L705.8 309.5 L704.3 309.9 L702.8 310.2 L701.3 310.4 L699.8 310.6 L698.4 310.7 L697.0 310.7 L695.8 310.7 L694.6 310.6 L693.6 310.4 L692.7 310.1 L691.9 309.8 L691.3 309.4 L690.8 309.0 L677.1 292.4 L677.0 292.3 L676.4 291.7 L676.1 291.5 L675.4 291.1 L675.0 290.9 L674.1 290.5 L673.7 290.4 L672.6 290.1 L672.2 290.0 L670.9 289.7 L670.4 289.7 L669.0 289.5 L668.4 289.5 L667.0 289.4 L666.3 289.4 L664.7 289.5 L664.1 289.5 L662.4 289.6 L661.7 289.7 L660.0 289.9 L659.2 290.0 L657.5 290.2 L656.7 290.4 L655.0 290.7 L654.2 290.9 L652.5 291.3 L651.7 291.5 L650.0 292.0 L649.3 292.2 L647.6 292.8 L646.9 293.0 L645.3 293.7 L644.6 293.9 L643.1 294.6 L642.5 294.9 L641.1 295.6 L640.5 295.9 L639.2 296.6 L638.7 296.9 L637.6 297.7 L637.1 298.0 L636.2 298.7 L635.8 299.1 L635.0 299.8 L634.7 300.1 L634.1 300.9 L633.8 301.2 L633.4 301.9 L633.3 302.2 L633.0 302.9 L633.0 303.2 L632.9 303.9 L633.0 304.2 L633.1 304.8 L633.2 305.1 L633.6 305.7 L633.7 305.8 L647.4 322.4 L647.7 322.9 L647.8 323.4 L647.8 324.0 L647.6 324.6 L647.2 325.2 L646.7 325.8 L646.0 326.5 L645.2 327.1 L644.2 327.8 L643.1 328.4 L641.9 329.0 L640.6 329.5 L639.2 330.1 L637.8 330.5 L585.9 346.6 L585.5 346.7 L583.7 347.3 L583.0 347.5 L581.4 348.2 L580.7 348.4 L579.2 349.1 L578.6 349.4 L577.2 350.1 L576.6 350.4 L575.3 351.1 L574.8 351.4 L573.7 352.2 L573.2 352.5 L572.3 353.2 L571.9 353.6 L571.1 354.3 L570.8 354.6 L570.2 355.4 L569.9 355.7 L569.5 356.4 L569.4 356.7 L569.1 357.4 L569.1 357.7 L569.0 358.4 L569.1 358.7 L569.2 359.3 L569.3 359.6 L569.7 360.1 L569.9 360.4 L570.4 360.9 L570.7 361.1 L571.4 361.5 L571.8 361.7 L572.7 362.1 L573.1 362.2 L574.2 362.5 L574.6 362.6 L575.9 362.9 L576.4 362.9 L577.8 363.1 L578.4 363.1 L579.8 363.2 L580.5 363.2 L582.1 363.1 L582.7 363.1 L584.4 363.0 L585.1 362.9 L586.8 362.7 L587.6 362.6 L589.3 362.4 L590.1 362.2 L591.8 361.9 L592.6 361.7 L594.3 361.3 L595.1 361.1 L597.0 360.5 L597.4 360.4 L649.3 344.4 L650.7 344.0 L652.2 343.6 L653.7 343.3 L655.2 343.1 L656.7 342.9 L658.1 342.8 L659.5 342.8 L660.7 342.8 L661.9 342.9 L662.9 343.1 L663.8 343.4 L664.6 343.7 L665.2 344.1 L665.7 344.5 L679.4 361.1 L679.5 361.2 L680.1 361.8 L680.4 362.0 L681.1 362.4 L681.5 362.6 L682.4 363.0 L682.8 363.1 L683.9 363.4 L684.3 363.5 L685.6 363.8 L686.1 363.8 L687.5 364.0 L688.1 364.0 L689.5 364.1 L690.2 364.1 L691.8 364.0 L692.4 364.0 L694.1 363.9 L694.8 363.8 L696.5 363.6 L697.3 363.5 L699.0 363.3 L699.8 363.1 L701.5 362.8 L702.3 362.6 L704.0 362.2 L704.8 362.0 L706.5 361.5 L707.2 361.3 L708.9 360.7 L709.6 360.5 L711.2 359.8 L711.9 359.6 L713.4 358.9 L714.0 358.6 L715.4 357.9 L716.0 357.6 L717.3 356.9 L717.8 356.6 L718.9 355.8 L719.4 355.5 L720.3 354.8 L720.7 354.4 L721.5 353.7 L721.8 353.4 L722.4 352.6 L722.7 352.3 L723.1 351.6 L723.2 351.3 L723.5 350.6 L723.5 350.3 L723.6 349.6 L723.5 349.3 L723.4 348.7 L723.3 348.4 L722.9 347.8 L722.8 347.7 L709.1 331.1 L708.8 330.6 L708.7 330.1 L708.7 329.5 L708.9 328.9 L709.3 328.3 L709.8 327.7 L710.5 327.0 L711.3 326.4 L712.3 325.7 L713.4 325.1 L714.6 324.5 L715.9 324.0 L717.3 323.4 L718.7 323.0 L770.6 306.9 L771.0 306.8Z" fill="none" stroke="#f39200" stroke-width="3" stroke-dasharray="3 2.9"/><path d="M704.5 292.6 L617.7 319.4 L615.3 320.2 L613.0 321.0 L610.8 322.0 L608.8 323.0 L607.0 324.0 L605.4 325.1 L604.0 326.1 L602.9 327.2 L602.0 328.3 L601.4 329.3 L601.0 330.3 L601.0 331.3 L601.2 332.2 L601.7 333.0 L624.6 360.7 L625.4 361.4 L626.4 362.1 L627.7 362.6 L629.2 363.0 L631.0 363.4 L632.9 363.6 L635.0 363.6 L637.2 363.6 L639.6 363.4 L642.0 363.1 L644.5 362.7 L647.1 362.2 L649.6 361.6 L652.0 360.9 L738.8 334.1 L741.2 333.3 L743.5 332.5 L745.7 331.5 L747.7 330.5 L749.5 329.5 L751.1 328.4 L752.5 327.4 L753.6 326.3 L754.5 325.2 L755.1 324.2 L755.5 323.2 L755.5 322.2 L755.3 321.3 L754.8 320.5 L731.9 292.8 L731.1 292.1 L730.1 291.4 L728.8 290.9 L727.3 290.5 L725.5 290.1 L723.6 289.9 L721.5 289.9 L719.3 289.9 L716.9 290.1 L714.5 290.4 L712.0 290.8 L709.4 291.3 L706.9 291.9Z" fill="none" stroke="#009a44" stroke-width="3" stroke-dasharray="3 2.9"/><path d="M607.5 348.6 L606.9 348.0 L606.2 347.6 L605.2 347.2 L604.1 346.9 L602.8 346.6 L601.4 346.5 L599.8 346.4 L598.1 346.5 L596.4 346.6 L594.6 346.8 L592.8 347.1 L590.9 347.5 L589.0 347.9 L587.2 348.4 L585.4 349.0 L583.7 349.7 L582.1 350.4 L580.7 351.1 L579.3 351.8 L578.1 352.6 L577.1 353.4 L576.3 354.2 L575.6 355.0 L575.1 355.8 L574.9 356.5 L574.9 357.2 L575.0 357.9 L575.4 358.5 L576.0 359.1 L576.7 359.5 L577.7 359.9 L578.8 360.2 L580.1 360.5 L581.5 360.6 L583.1 360.7 L584.8 360.6 L586.5 360.5 L588.3 360.3 L590.1 360.0 L592.0 359.6 L593.9 359.2 L595.7 358.7 L597.5 358.1 L599.2 357.4 L600.8 356.7 L602.2 356.0 L603.6 355.3 L604.8 354.5 L605.8 353.7 L606.6 352.9 L607.3 352.1 L607.8 351.3 L608.0 350.6 L608.0 349.9 L607.9 349.2Z" fill="#fde5c8" stroke="#f39200" stroke-width="2"/><path d="M717.2 349.5 L716.6 348.9 L715.9 348.5 L714.9 348.1 L713.8 347.8 L712.5 347.5 L711.1 347.4 L709.5 347.3 L707.8 347.4 L706.1 347.5 L704.3 347.7 L702.5 348.0 L700.6 348.4 L698.7 348.8 L696.9 349.3 L695.1 349.9 L693.4 350.6 L691.8 351.3 L690.4 352.0 L689.0 352.7 L687.8 353.5 L686.8 354.3 L686.0 355.1 L685.3 355.9 L684.8 356.7 L684.6 357.4 L684.6 358.1 L684.7 358.8 L685.1 359.4 L685.7 360.0 L686.4 360.4 L687.4 360.8 L688.5 361.1 L689.8 361.4 L691.2 361.5 L692.8 361.6 L694.5 361.5 L696.2 361.4 L698.0 361.2 L699.8 360.9 L701.7 360.5 L703.6 360.1 L705.4 359.6 L707.2 359.0 L708.9 358.3 L710.5 357.6 L711.9 356.9 L713.3 356.2 L714.5 355.4 L715.5 354.6 L716.3 353.8 L717.0 353.0 L717.5 352.2 L717.7 351.5 L717.7 350.8 L717.6 350.1Z" fill="#fde5c8" stroke="#f39200" stroke-width="2"/><path d="M781.1 295.0 L780.5 294.4 L779.8 294.0 L778.8 293.6 L777.7 293.3 L776.4 293.0 L775.0 292.9 L773.4 292.8 L771.7 292.9 L770.0 293.0 L768.2 293.2 L766.4 293.5 L764.5 293.9 L762.6 294.3 L760.8 294.8 L759.0 295.4 L757.3 296.1 L755.7 296.8 L754.3 297.5 L752.9 298.2 L751.7 299.0 L750.7 299.8 L749.9 300.6 L749.2 301.4 L748.7 302.2 L748.5 302.9 L748.5 303.6 L748.6 304.3 L749.0 304.9 L749.6 305.5 L750.3 305.9 L751.3 306.3 L752.4 306.6 L753.7 306.9 L755.1 307.0 L756.7 307.1 L758.4 307.0 L760.1 306.9 L761.9 306.7 L763.7 306.4 L765.6 306.0 L767.5 305.6 L769.3 305.1 L771.1 304.5 L772.8 303.8 L774.4 303.1 L775.8 302.4 L777.2 301.7 L778.4 300.9 L779.4 300.1 L780.2 299.3 L780.9 298.5 L781.4 297.7 L781.6 297.0 L781.6 296.3 L781.5 295.6Z" fill="#fde5c8" stroke="#f39200" stroke-width="2"/><path d="M639.5 321.3 L638.9 320.8 L638.1 320.3 L637.2 319.9 L636.0 319.6 L634.7 319.4 L633.3 319.2 L631.8 319.2 L630.1 319.2 L628.4 319.3 L626.6 319.5 L624.7 319.8 L622.8 320.2 L621.0 320.7 L619.2 321.2 L617.4 321.8 L615.7 322.4 L614.1 323.1 L612.6 323.8 L611.3 324.6 L610.1 325.4 L609.0 326.2 L608.2 327.0 L607.5 327.8 L607.1 328.5 L606.8 329.3 L606.8 330.0 L607.0 330.7 L607.3 331.3 L607.9 331.8 L608.7 332.3 L609.6 332.7 L610.8 333.0 L612.1 333.2 L613.5 333.4 L615.0 333.4 L616.7 333.4 L618.4 333.3 L620.2 333.1 L622.1 332.8 L624.0 332.4 L625.8 331.9 L627.6 331.4 L629.4 330.8 L631.1 330.2 L632.7 329.5 L634.2 328.8 L635.5 328.0 L636.7 327.2 L637.8 326.4 L638.6 325.6 L639.3 324.8 L639.7 324.1 L640.0 323.3 L640.0 322.6 L639.8 321.9Z" fill="#c2e6d4" stroke="#009a44" stroke-width="2"/><path d="M662.4 349.0 L661.8 348.5 L661.0 348.0 L660.1 347.6 L658.9 347.3 L657.6 347.1 L656.2 346.9 L654.7 346.9 L653.0 346.9 L651.3 347.0 L649.5 347.2 L647.6 347.5 L645.7 347.9 L643.9 348.4 L642.1 348.9 L640.3 349.5 L638.6 350.1 L637.0 350.8 L635.5 351.5 L634.2 352.3 L633.0 353.1 L631.9 353.9 L631.1 354.7 L630.4 355.5 L630.0 356.2 L629.7 357.0 L629.7 357.7 L629.9 358.4 L630.2 359.0 L630.8 359.5 L631.6 360.0 L632.5 360.4 L633.7 360.7 L635.0 360.9 L636.4 361.1 L637.9 361.1 L639.6 361.1 L641.3 361.0 L643.1 360.8 L645.0 360.5 L646.9 360.1 L648.7 359.6 L650.5 359.1 L652.3 358.5 L654.0 357.9 L655.6 357.2 L657.1 356.5 L658.4 355.7 L659.6 354.9 L660.7 354.1 L661.5 353.3 L662.2 352.5 L662.6 351.8 L662.9 351.0 L662.9 350.3 L662.7 349.6Z" fill="#c2e6d4" stroke="#009a44" stroke-width="2"/><path d="M749.2 322.2 L748.6 321.7 L747.8 321.2 L746.9 320.8 L745.7 320.5 L744.4 320.3 L743.0 320.1 L741.5 320.1 L739.8 320.1 L738.1 320.2 L736.3 320.4 L734.4 320.7 L732.5 321.1 L730.7 321.6 L728.9 322.1 L727.1 322.7 L725.4 323.3 L723.8 324.0 L722.3 324.7 L721.0 325.5 L719.8 326.3 L718.7 327.1 L717.9 327.9 L717.2 328.7 L716.8 329.4 L716.5 330.2 L716.5 330.9 L716.7 331.6 L717.0 332.2 L717.6 332.7 L718.4 333.2 L719.3 333.6 L720.5 333.9 L721.8 334.1 L723.2 334.3 L724.7 334.3 L726.4 334.3 L728.1 334.2 L729.9 334.0 L731.8 333.7 L733.7 333.3 L735.5 332.8 L737.3 332.3 L739.1 331.7 L740.8 331.1 L742.4 330.4 L743.9 329.7 L745.2 328.9 L746.4 328.1 L747.5 327.3 L748.3 326.5 L749.0 325.7 L749.4 325.0 L749.7 324.2 L749.7 323.5 L749.5 322.8Z" fill="#c2e6d4" stroke="#009a44" stroke-width="2"/><path d="M633.9 230.2 L633.9 230.6 L634.1 231.2 L634.2 231.5 L634.6 232.1 L634.7 232.3 L650.2 251.2 L650.6 251.8 L650.8 252.5 L650.8 283.2 L650.6 282.5 L650.2 281.9 L634.7 263.0 L634.6 262.8 L634.2 262.2 L634.1 261.9 L633.9 261.3 L633.9 260.9Z" fill="#f39200" stroke="none"/><path d="M633.9 245.6 L633.9 245.9 L634.1 246.5 L634.2 246.8 L634.6 247.5 L634.7 247.6 L650.2 266.5 L650.6 267.2 L650.8 267.8" fill="none" stroke="#000" stroke-width="2.2" stroke-linejoin="round"/><path d="M633.9 260.9 L633.9 261.3 L634.1 261.9 L634.2 262.2 L634.6 262.8 L634.7 263.0 L650.2 281.9 L650.6 282.5 L650.8 283.2" fill="none" stroke="#000" stroke-width="2.2" stroke-linejoin="round"/><line x1="633.9" y1="230.2" x2="633.9" y2="260.9" stroke="#000" stroke-width="2.2" stroke-linecap="round"/><line x1="650.8" y1="252.5" x2="650.8" y2="283.2" stroke="#000" stroke-width="2.2" stroke-linecap="round"/><path d="M709.8 258.3 L709.8 257.6 L710.0 256.8 L710.4 256.0 L711.0 255.2 L711.8 254.4 L712.8 253.6 L713.9 252.8 L715.1 252.1 L716.5 251.3 L718.0 250.6 L719.6 250.0 L721.3 249.4 L775.1 231.9 L775.5 231.8 L776.8 231.4 L777.6 231.0 L778.6 230.7 L779.4 230.3 L780.3 229.9 L781.0 229.5 L781.9 229.1 L782.5 228.7 L783.3 228.2 L783.9 227.8 L784.6 227.4 L785.1 227.0 L785.7 226.5 L786.1 226.1 L786.6 225.6 L786.9 225.2 L787.3 224.7 L787.5 224.3 L787.8 223.8 L787.9 223.4 L788.1 223.0 L788.1 222.6 L788.1 222.2 L788.1 252.9 L788.1 253.3 L788.1 253.7 L787.9 254.1 L787.8 254.5 L787.5 255.0 L787.3 255.4 L786.9 255.9 L786.6 256.3 L786.1 256.8 L785.7 257.2 L785.1 257.7 L784.6 258.1 L783.9 258.5 L783.3 258.9 L782.5 259.4 L781.9 259.8 L781.0 260.2 L780.3 260.6 L779.4 261.0 L778.6 261.4 L777.6 261.7 L776.8 262.1 L775.5 262.5 L775.1 262.6 L721.3 280.1 L719.6 280.7 L718.0 281.3 L716.5 282.0 L715.1 282.8 L713.9 283.5 L712.8 284.3 L711.8 285.1 L711.0 285.9 L710.4 286.7 L710.0 287.5 L709.8 288.3 L709.8 289.0Z" fill="#f39200" stroke="none"/><path d="M709.8 273.6 L709.8 272.9 L710.0 272.2 L710.4 271.4 L711.0 270.6 L711.8 269.8 L712.8 269.0 L713.9 268.2 L715.1 267.4 L716.5 266.7 L718.0 266.0 L719.6 265.3 L721.3 264.8 L775.1 247.3 L775.5 247.1 L776.8 246.7 L777.6 246.4 L778.6 246.0 L779.4 245.7 L780.3 245.2 L781.0 244.9 L781.9 244.4 L782.5 244.1 L783.3 243.6 L783.9 243.2 L784.6 242.7 L785.1 242.3 L785.7 241.8 L786.1 241.4 L786.6 240.9 L786.9 240.5 L787.3 240.0 L787.5 239.6 L787.8 239.2 L787.9 238.8 L788.1 238.3 L788.1 237.9 L788.1 237.5" fill="none" stroke="#000" stroke-width="2.2" stroke-linejoin="round"/><path d="M709.8 289.0 L709.8 288.3 L710.0 287.5 L710.4 286.7 L711.0 285.9 L711.8 285.1 L712.8 284.3 L713.9 283.5 L715.1 282.8 L716.5 282.0 L718.0 281.3 L719.6 280.7 L721.3 280.1 L775.1 262.6 L775.5 262.5 L776.8 262.1 L777.6 261.7 L778.6 261.4 L779.4 261.0 L780.3 260.6 L781.0 260.2 L781.9 259.8 L782.5 259.4 L783.3 258.9 L783.9 258.5 L784.6 258.1 L785.1 257.7 L785.7 257.2 L786.1 256.8 L786.6 256.3 L786.9 255.9 L787.3 255.4 L787.5 255.0 L787.8 254.5 L787.9 254.1 L788.1 253.7 L788.1 253.3 L788.1 252.9" fill="none" stroke="#000" stroke-width="2.2" stroke-linejoin="round"/><line x1="709.8" y1="258.3" x2="709.8" y2="289.0" stroke="#000" stroke-width="2.2" stroke-linecap="round"/><line x1="788.1" y1="222.2" x2="788.1" y2="252.9" stroke="#000" stroke-width="2.2" stroke-linecap="round"/><path d="M569.9 289.4 L569.9 289.8 L570.0 290.2 L570.2 290.5 L570.4 290.9 L570.6 291.2 L571.0 291.5 L571.3 291.8 L571.8 292.1 L572.2 292.3 L572.8 292.6 L573.3 292.7 L574.0 292.9 L574.6 293.1 L575.3 293.2 L576.0 293.3 L576.8 293.4 L577.5 293.5 L578.4 293.5 L579.2 293.5 L580.2 293.5 L581.0 293.5 L582.0 293.4 L582.9 293.3 L583.9 293.2 L584.8 293.1 L585.9 292.9 L586.8 292.8 L587.9 292.5 L588.7 292.3 L589.8 292.1 L590.7 291.8 L592.0 291.4 L592.4 291.3 L648.8 273.0 L650.5 272.4 L652.3 272.0 L654.1 271.6 L655.8 271.3 L657.6 271.1 L659.2 271.0 L660.8 271.0 L662.3 271.1 L663.7 271.2 L664.9 271.5 L666.0 271.8 L666.9 272.2 L667.7 272.7 L668.3 273.2 L681.9 289.9 L682.1 290.1 L682.7 290.6 L683.0 290.9 L683.7 291.3 L684.1 291.5 L684.9 291.9 L685.4 292.1 L686.4 292.4 L687.0 292.5 L688.1 292.7 L688.7 292.8 L689.9 293.0 L690.7 293.0 L692.0 293.1 L692.8 293.1 L694.2 293.1 L695.0 293.1 L696.4 293.0 L697.3 292.9 L698.8 292.7 L699.7 292.6 L701.2 292.3 L702.1 292.2 L703.7 291.8 L704.6 291.6 L706.1 291.2 L707.0 291.0 L708.5 290.5 L709.4 290.2 L710.9 289.7 L711.7 289.4 L713.1 288.9 L713.9 288.5 L715.2 287.9 L715.9 287.5 L717.2 286.9 L717.8 286.5 L718.9 285.8 L719.5 285.4 L720.5 284.7 L721.0 284.4 L721.9 283.6 L722.3 283.2 L723.0 282.5 L723.3 282.1 L723.9 281.4 L724.1 281.0 L724.5 280.3 L724.6 280.0 L724.8 279.3 L724.9 278.9 L724.9 278.3 L724.9 309.0 L724.9 309.6 L724.8 310.0 L724.6 310.7 L724.5 311.0 L724.1 311.7 L723.9 312.1 L723.3 312.8 L723.0 313.2 L722.3 313.9 L721.9 314.3 L721.0 315.1 L720.5 315.4 L719.5 316.1 L718.9 316.5 L717.8 317.2 L717.2 317.6 L715.9 318.2 L715.2 318.6 L713.9 319.2 L713.1 319.6 L711.7 320.1 L710.9 320.4 L709.4 320.9 L708.5 321.2 L707.0 321.7 L706.1 321.9 L704.6 322.3 L703.7 322.5 L702.1 322.9 L701.2 323.0 L699.7 323.3 L698.8 323.4 L697.3 323.6 L696.4 323.7 L695.0 323.8 L694.2 323.8 L692.8 323.8 L692.0 323.8 L690.7 323.7 L689.9 323.7 L688.7 323.5 L688.1 323.4 L687.0 323.2 L686.4 323.1 L685.4 322.8 L684.9 322.6 L684.1 322.2 L683.7 322.0 L683.0 321.6 L682.7 321.3 L682.1 320.8 L681.9 320.6 L668.3 303.9 L667.7 303.4 L666.9 302.9 L666.0 302.5 L664.9 302.2 L663.7 301.9 L662.3 301.8 L660.8 301.7 L659.2 301.7 L657.6 301.8 L655.8 302.0 L654.1 302.3 L652.3 302.7 L650.5 303.1 L648.8 303.7 L592.4 322.0 L592.0 322.1 L590.7 322.5 L589.8 322.8 L588.7 323.0 L587.9 323.2 L586.8 323.5 L585.9 323.6 L584.8 323.8 L583.9 323.9 L582.9 324.0 L582.0 324.1 L581.0 324.2 L580.2 324.2 L579.2 324.2 L578.4 324.2 L577.5 324.2 L576.8 324.1 L576.0 324.0 L575.3 323.9 L574.6 323.8 L574.0 323.6 L573.3 323.4 L572.8 323.3 L572.2 323.0 L571.8 322.8 L571.3 322.5 L571.0 322.2 L570.6 321.9 L570.4 321.6 L570.2 321.2 L570.0 320.9 L569.9 320.5 L569.9 320.1Z" fill="#f39200" stroke="none"/><path d="M569.9 304.8 L569.9 305.1 L570.0 305.5 L570.2 305.9 L570.4 306.2 L570.6 306.5 L571.0 306.9 L571.3 307.1 L571.8 307.4 L572.2 307.7 L572.8 307.9 L573.3 308.1 L574.0 308.3 L574.6 308.4 L575.3 308.6 L576.0 308.7 L576.8 308.8 L577.5 308.8 L578.4 308.9 L579.2 308.9 L580.2 308.9 L581.0 308.8 L582.0 308.8 L582.9 308.7 L583.9 308.6 L584.8 308.5 L585.9 308.3 L586.8 308.1 L587.9 307.9 L588.7 307.7 L589.8 307.4 L590.7 307.2 L592.0 306.8 L592.4 306.6 L648.8 288.3 L650.5 287.8 L652.3 287.3 L654.1 287.0 L655.8 286.7 L657.6 286.5 L659.2 286.4 L660.8 286.3 L662.3 286.4 L663.7 286.6 L664.9 286.8 L666.0 287.1 L666.9 287.6 L667.7 288.0 L668.3 288.6 L681.9 305.3 L682.1 305.4 L682.7 306.0 L683.0 306.2 L683.7 306.7 L684.1 306.9 L684.9 307.3 L685.4 307.4 L686.4 307.7 L687.0 307.9 L688.1 308.1 L688.7 308.2 L689.9 308.3 L690.7 308.4 L692.0 308.4 L692.8 308.5 L694.2 308.4 L695.0 308.4 L696.4 308.3 L697.3 308.2 L698.8 308.0 L699.7 307.9 L701.2 307.7 L702.1 307.5 L703.7 307.2 L704.6 307.0 L706.1 306.6 L707.0 306.3 L708.5 305.9 L709.4 305.6 L710.9 305.1 L711.7 304.8 L713.1 304.2 L713.9 303.9 L715.2 303.3 L715.9 302.9 L717.2 302.2 L717.8 301.9 L718.9 301.2 L719.5 300.8 L720.5 300.1 L721.0 299.7 L721.9 299.0 L722.3 298.6 L723.0 297.9 L723.3 297.5 L723.9 296.8 L724.1 296.4 L724.5 295.7 L724.6 295.3 L724.8 294.6 L724.9 294.3 L724.9 293.6" fill="none" stroke="#000" stroke-width="2.2" stroke-linejoin="round"/><path d="M569.9 320.1 L569.9 320.5 L570.0 320.9 L570.2 321.2 L570.4 321.6 L570.6 321.9 L571.0 322.2 L571.3 322.5 L571.8 322.8 L572.2 323.0 L572.8 323.3 L573.3 323.4 L574.0 323.6 L574.6 323.8 L575.3 323.9 L576.0 324.0 L576.8 324.1 L577.5 324.2 L578.4 324.2 L579.2 324.2 L580.2 324.2 L581.0 324.2 L582.0 324.1 L582.9 324.0 L583.9 323.9 L584.8 323.8 L585.9 323.6 L586.8 323.5 L587.9 323.2 L588.7 323.0 L589.8 322.8 L590.7 322.5 L592.0 322.1 L592.4 322.0 L648.8 303.7 L650.5 303.1 L652.3 302.7 L654.1 302.3 L655.8 302.0 L657.6 301.8 L659.2 301.7 L660.8 301.7 L662.3 301.8 L663.7 301.9 L664.9 302.2 L666.0 302.5 L666.9 302.9 L667.7 303.4 L668.3 303.9 L681.9 320.6 L682.1 320.8 L682.7 321.3 L683.0 321.6 L683.7 322.0 L684.1 322.2 L684.9 322.6 L685.4 322.8 L686.4 323.1 L687.0 323.2 L688.1 323.4 L688.7 323.5 L689.9 323.7 L690.7 323.7 L692.0 323.8 L692.8 323.8 L694.2 323.8 L695.0 323.8 L696.4 323.7 L697.3 323.6 L698.8 323.4 L699.7 323.3 L701.2 323.0 L702.1 322.9 L703.7 322.5 L704.6 322.3 L706.1 321.9 L707.0 321.7 L708.5 321.2 L709.4 320.9 L710.9 320.4 L711.7 320.1 L713.1 319.6 L713.9 319.2 L715.2 318.6 L715.9 318.2 L717.2 317.6 L717.8 317.2 L718.9 316.5 L719.5 316.1 L720.5 315.4 L721.0 315.1 L721.9 314.3 L722.3 313.9 L723.0 313.2 L723.3 312.8 L723.9 312.1 L724.1 311.7 L724.5 311.0 L724.6 310.7 L724.8 310.0 L724.9 309.6 L724.9 309.0" fill="none" stroke="#000" stroke-width="2.2" stroke-linejoin="round"/><line x1="569.9" y1="289.4" x2="569.9" y2="320.1" stroke="#000" stroke-width="2.2" stroke-linecap="round"/><line x1="724.9" y1="278.3" x2="724.9" y2="309.0" stroke="#000" stroke-width="2.2" stroke-linecap="round"/><path d="M682.7 290.6 L683.0 290.9 L683.7 291.3 L684.1 291.5 L684.9 291.9 L685.4 292.1 L686.4 292.4 L687.0 292.5 L688.1 292.7 L688.7 292.8 L689.9 293.0 L690.7 293.0 L692.0 293.1 L692.8 293.1 L694.2 293.1 L695.0 293.1 L696.4 293.0 L697.3 292.9 L698.8 292.7 L699.7 292.6 L701.2 292.3 L702.1 292.2 L703.7 291.8 L704.6 291.6 L706.1 291.2 L707.0 291.0 L708.5 290.5 L709.4 290.2 L710.9 289.7 L711.7 289.4 L713.1 288.9 L713.9 288.5 L715.2 287.9 L715.9 287.5 L717.2 286.9 L717.8 286.5 L718.9 285.8 L719.5 285.4 L720.5 284.7 L721.0 284.4 L721.9 283.6 L722.3 283.2 L723.0 282.5 L723.3 282.1 L723.9 281.4 L724.1 281.0 L724.5 280.3 L724.6 280.0 L724.8 279.3 L724.9 278.9 L724.9 278.3 L724.8 277.9 L724.7 277.3 L724.5 277.0 L724.2 276.4 L724.0 276.3 L710.4 259.6 L710.0 258.9 L709.8 258.3 L709.8 257.6 L710.0 256.8 L710.4 256.0 L711.0 255.2 L711.8 254.4 L712.8 253.6 L713.9 252.8 L715.1 252.1 L716.5 251.3 L718.0 250.6 L719.6 250.0 L721.3 249.4 L775.1 231.9 L775.5 231.8 L776.8 231.4 L777.6 231.0 L778.6 230.7 L779.4 230.3 L780.3 229.9 L781.0 229.5 L781.9 229.1 L782.5 228.7 L783.3 228.2 L783.9 227.8 L784.6 227.4 L785.1 227.0 L785.7 226.5 L786.1 226.1 L786.6 225.6 L786.9 225.2 L787.3 224.7 L787.5 224.3 L787.8 223.8 L787.9 223.4 L788.1 223.0 L788.1 222.6 L788.1 222.2 L788.1 221.8 L788.0 221.4 L787.8 221.1 L787.6 220.7 L787.4 220.4 L787.0 220.1 L786.7 219.8 L786.2 219.5 L785.8 219.3 L785.2 219.0 L784.7 218.9 L784.0 218.7 L783.4 218.5 L782.7 218.4 L782.0 218.3 L781.2 218.2 L780.5 218.1 L779.6 218.1 L778.8 218.1 L777.8 218.1 L777.0 218.1 L776.0 218.2 L775.1 218.3 L774.1 218.4 L773.2 218.5 L772.1 218.7 L771.2 218.8 L770.1 219.1 L769.3 219.3 L768.2 219.5 L767.3 219.8 L766.0 220.2 L765.6 220.3 L711.8 237.8 L710.1 238.3 L708.3 238.8 L706.5 239.1 L704.8 239.4 L703.0 239.6 L701.4 239.7 L699.8 239.8 L698.3 239.7 L696.9 239.5 L695.7 239.3 L694.6 239.0 L693.7 238.5 L692.9 238.1 L692.3 237.5 L676.8 218.6 L676.7 218.4 L676.1 217.9 L675.8 217.6 L675.1 217.2 L674.7 217.0 L673.9 216.6 L673.4 216.4 L672.4 216.1 L671.8 216.0 L670.7 215.8 L670.0 215.7 L668.8 215.5 L668.1 215.5 L666.8 215.4 L666.0 215.4 L664.6 215.4 L663.8 215.5 L662.3 215.6 L661.5 215.6 L660.0 215.8 L659.1 215.9 L657.5 216.2 L656.6 216.4 L655.1 216.7 L654.2 216.9 L652.6 217.3 L651.8 217.5 L650.2 218.0 L649.4 218.3 L647.9 218.8 L647.1 219.1 L645.7 219.7 L644.9 220.0 L643.6 220.6 L642.8 221.0 L641.6 221.6 L640.9 222.0 L639.8 222.7 L639.2 223.1 L638.2 223.8 L637.7 224.2 L636.9 224.9 L636.5 225.3 L635.8 226.0 L635.4 226.4 L634.9 227.1 L634.6 227.5 L634.3 228.2 L634.1 228.6 L633.9 229.2 L633.9 229.6 L633.9 230.2 L633.9 230.6 L634.1 231.2 L634.2 231.5 L634.6 232.1 L634.7 232.3 L650.2 251.2 L650.6 251.8 L650.8 252.5 L650.8 253.2 L650.6 253.9 L650.2 254.7 L649.6 255.5 L648.8 256.3 L647.8 257.1 L646.7 257.9 L645.5 258.7 L644.1 259.4 L642.6 260.1 L641.0 260.8 L639.3 261.3 L582.9 279.7 L582.5 279.8 L581.2 280.2 L580.4 280.6 L579.4 280.9 L578.6 281.3 L577.7 281.7 L577.0 282.1 L576.1 282.5 L575.5 282.9 L574.7 283.4 L574.1 283.8 L573.4 284.2 L572.9 284.6 L572.3 285.1 L571.9 285.5 L571.4 286.0 L571.1 286.4 L570.7 286.9 L570.5 287.3 L570.2 287.8 L570.1 288.2 L569.9 288.6 L569.9 289.0 L569.9 289.4 L569.9 289.8 L570.0 290.2 L570.2 290.5 L570.4 290.9 L570.6 291.2 L571.0 291.5 L571.3 291.8 L571.8 292.1 L572.2 292.3 L572.8 292.6 L573.3 292.7 L574.0 292.9 L574.6 293.1 L575.3 293.2 L576.0 293.3 L576.8 293.4 L577.5 293.5 L578.4 293.5 L579.2 293.5 L580.2 293.5 L581.0 293.5 L582.0 293.4 L582.9 293.3 L583.9 293.2 L584.8 293.1 L585.9 292.9 L586.8 292.8 L587.9 292.5 L588.7 292.3 L589.8 292.1 L590.7 291.8 L592.0 291.4 L592.4 291.3 L648.8 273.0 L650.5 272.4 L652.3 272.0 L654.1 271.6 L655.8 271.3 L657.6 271.1 L659.2 271.0 L660.8 271.0 L662.3 271.1 L663.7 271.2 L664.9 271.5 L666.0 271.8 L666.9 272.2 L667.7 272.7 L668.3 273.2 L681.9 289.9 L682.1 290.1Z" fill="#fff" stroke="#000" stroke-width="2.2" stroke-linejoin="round"/>
<path d="M348.3 286.8 L348.5 287.5 L348.9 288.2 L349.6 288.8 L350.4 289.4 L351.5 289.8 L352.7 290.2 L354.1 290.5 L355.6 290.7 L357.3 290.8 L359.0 290.8 L360.9 290.7 L362.8 290.5 L364.8 290.2 L366.7 289.9 L368.7 289.4 L370.6 288.9 L553.8 233.2 L555.6 232.5 L557.4 231.9 L559.1 231.1 L560.7 230.3 L562.1 229.5 L563.3 228.7 L564.4 227.8 L565.2 226.9 L565.9 226.1 L566.3 225.2 L566.6 224.4 L566.6 223.6 L566.6 254.3 L566.6 255.1 L566.3 255.9 L565.9 256.8 L565.2 257.6 L564.4 258.5 L563.3 259.4 L562.1 260.2 L560.7 261.0 L559.1 261.8 L557.4 262.6 L555.6 263.2 L553.8 263.9 L370.6 319.6 L368.7 320.1 L366.7 320.6 L364.8 320.9 L362.8 321.2 L360.9 321.4 L359.0 321.5 L357.3 321.5 L355.6 321.4 L354.1 321.2 L352.7 320.9 L351.5 320.5 L350.4 320.1 L349.6 319.5 L348.9 318.9 L348.5 318.2 L348.3 317.5Z" fill="#f39200" stroke="none"/><path d="M348.3 302.1 L348.5 302.9 L348.9 303.6 L349.6 304.2 L350.4 304.7 L351.5 305.2 L352.7 305.6 L354.1 305.9 L355.6 306.0 L357.3 306.2 L359.0 306.2 L360.9 306.1 L362.8 305.9 L364.8 305.6 L366.7 305.2 L368.7 304.8 L370.6 304.2 L553.8 248.5 L555.6 247.9 L557.4 247.2 L559.1 246.5 L560.7 245.7 L562.1 244.9 L563.3 244.0 L564.4 243.2 L565.2 242.3 L565.9 241.4 L566.3 240.6 L566.6 239.8 L566.6 239.0" fill="none" stroke="#000" stroke-width="2.2" stroke-linejoin="round"/><path d="M348.3 317.5 L348.5 318.2 L348.9 318.9 L349.6 319.5 L350.4 320.1 L351.5 320.5 L352.7 320.9 L354.1 321.2 L355.6 321.4 L357.3 321.5 L359.0 321.5 L360.9 321.4 L362.8 321.2 L364.8 320.9 L366.7 320.6 L368.7 320.1 L370.6 319.6 L553.8 263.9 L555.6 263.2 L557.4 262.6 L559.1 261.8 L560.7 261.0 L562.1 260.2 L563.3 259.4 L564.4 258.5 L565.2 257.6 L565.9 256.8 L566.3 255.9 L566.6 255.1 L566.6 254.3" fill="none" stroke="#000" stroke-width="2.2" stroke-linejoin="round"/><line x1="348.3" y1="286.8" x2="348.3" y2="317.5" stroke="#000" stroke-width="2.2" stroke-linecap="round"/><line x1="566.6" y1="223.6" x2="566.6" y2="254.3" stroke="#000" stroke-width="2.2" stroke-linecap="round"/><path d="M553.8 233.2 L555.6 232.5 L557.4 231.9 L559.1 231.1 L560.7 230.3 L562.1 229.5 L563.3 228.7 L564.4 227.8 L565.2 226.9 L565.9 226.1 L566.3 225.2 L566.6 224.4 L566.6 223.6 L566.4 222.9 L565.9 222.2 L565.3 221.6 L564.5 221.0 L563.4 220.6 L562.2 220.2 L560.8 219.9 L559.3 219.7 L557.6 219.6 L555.9 219.6 L554.0 219.7 L552.1 219.9 L550.1 220.2 L548.2 220.5 L546.2 221.0 L544.3 221.5 L361.1 277.2 L359.3 277.9 L357.5 278.5 L355.8 279.3 L354.2 280.1 L352.8 280.9 L351.6 281.7 L350.5 282.6 L349.7 283.5 L349.0 284.3 L348.6 285.2 L348.3 286.0 L348.3 286.8 L348.5 287.5 L348.9 288.2 L349.6 288.8 L350.4 289.4 L351.5 289.8 L352.7 290.2 L354.1 290.5 L355.6 290.7 L357.3 290.8 L359.0 290.8 L360.9 290.7 L362.8 290.5 L364.8 290.2 L366.7 289.9 L368.7 289.4 L370.6 288.9Z" fill="#fff" stroke="#000" stroke-width="2.2" stroke-linejoin="round"/>
<path d="M372.7 316.6 L372.9 317.3 L373.3 318.0 L374.0 318.6 L374.8 319.2 L375.9 319.6 L377.1 320.0 L378.5 320.3 L380.0 320.5 L381.7 320.6 L383.4 320.6 L385.3 320.5 L387.2 320.3 L389.2 320.0 L391.1 319.7 L393.1 319.2 L395.0 318.7 L491.4 289.4 L493.2 288.7 L495.0 288.1 L496.7 287.3 L498.3 286.5 L499.7 285.7 L500.9 284.9 L502.0 284.0 L502.8 283.1 L503.5 282.3 L503.9 281.4 L504.2 280.6 L504.2 279.8 L504.2 310.5 L504.2 311.3 L503.9 312.1 L503.5 313.0 L502.8 313.8 L502.0 314.7 L500.9 315.6 L499.7 316.4 L498.3 317.2 L496.7 318.0 L495.0 318.8 L493.2 319.4 L491.4 320.1 L395.0 349.4 L393.1 349.9 L391.1 350.4 L389.2 350.7 L387.2 351.0 L385.3 351.2 L383.4 351.3 L381.7 351.3 L380.0 351.2 L378.5 351.0 L377.1 350.7 L375.9 350.3 L374.8 349.9 L374.0 349.3 L373.3 348.7 L372.9 348.0 L372.7 347.3Z" fill="#f39200" stroke="none"/><path d="M372.7 331.9 L372.9 332.7 L373.3 333.4 L374.0 334.0 L374.8 334.5 L375.9 335.0 L377.1 335.4 L378.5 335.7 L380.0 335.8 L381.7 336.0 L383.4 336.0 L385.3 335.9 L387.2 335.7 L389.2 335.4 L391.1 335.0 L393.1 334.6 L395.0 334.0 L491.4 304.7 L493.2 304.1 L495.0 303.4 L496.7 302.7 L498.3 301.9 L499.7 301.1 L500.9 300.2 L502.0 299.4 L502.8 298.5 L503.5 297.6 L503.9 296.8 L504.2 296.0 L504.2 295.2" fill="none" stroke="#000" stroke-width="2.2" stroke-linejoin="round"/><path d="M372.7 347.3 L372.9 348.0 L373.3 348.7 L374.0 349.3 L374.8 349.9 L375.9 350.3 L377.1 350.7 L378.5 351.0 L380.0 351.2 L381.7 351.3 L383.4 351.3 L385.3 351.2 L387.2 351.0 L389.2 350.7 L391.1 350.4 L393.1 349.9 L395.0 349.4 L491.4 320.1 L493.2 319.4 L495.0 318.8 L496.7 318.0 L498.3 317.2 L499.7 316.4 L500.9 315.6 L502.0 314.7 L502.8 313.8 L503.5 313.0 L503.9 312.1 L504.2 311.3 L504.2 310.5" fill="none" stroke="#000" stroke-width="2.2" stroke-linejoin="round"/><line x1="372.7" y1="316.6" x2="372.7" y2="347.3" stroke="#000" stroke-width="2.2" stroke-linecap="round"/><line x1="504.2" y1="279.8" x2="504.2" y2="310.5" stroke="#000" stroke-width="2.2" stroke-linecap="round"/><path d="M491.4 289.4 L493.2 288.7 L495.0 288.1 L496.7 287.3 L498.3 286.5 L499.7 285.7 L500.9 284.9 L502.0 284.0 L502.8 283.1 L503.5 282.3 L503.9 281.4 L504.2 280.6 L504.2 279.8 L504.0 279.1 L503.6 278.4 L502.9 277.8 L502.1 277.2 L501.0 276.8 L499.8 276.4 L498.4 276.1 L496.9 275.9 L495.2 275.8 L493.5 275.8 L491.6 275.9 L489.7 276.1 L487.7 276.4 L485.8 276.7 L483.8 277.2 L481.9 277.7 L385.5 307.0 L383.7 307.7 L381.9 308.3 L380.2 309.1 L378.6 309.9 L377.2 310.7 L376.0 311.5 L374.9 312.4 L374.1 313.3 L373.4 314.1 L373.0 315.0 L372.7 315.8 L372.7 316.6 L372.9 317.3 L373.3 318.0 L374.0 318.6 L374.8 319.2 L375.9 319.6 L377.1 320.0 L378.5 320.3 L380.0 320.5 L381.7 320.6 L383.4 320.6 L385.3 320.5 L387.2 320.3 L389.2 320.0 L391.1 319.7 L393.1 319.2 L395.0 318.7Z" fill="#fff" stroke="#000" stroke-width="2.2" stroke-linejoin="round"/>
<path d="M197.8 371.2 L198.0 371.9 L198.4 372.6 L199.0 373.2 L199.9 373.8 L200.9 374.2 L202.1 374.6 L203.5 374.9 L205.1 375.1 L206.7 375.2 L208.5 375.2 L210.3 375.1 L212.3 374.9 L214.2 374.6 L216.2 374.3 L218.2 373.8 L220.1 373.3 L316.4 344.0 L318.3 343.3 L320.1 342.7 L321.8 341.9 L323.3 341.1 L324.7 340.3 L325.9 339.5 L327.0 338.6 L327.9 337.7 L328.5 336.9 L329.0 336.0 L329.2 335.2 L329.2 334.4 L329.2 365.1 L329.2 365.9 L329.0 366.7 L328.5 367.6 L327.9 368.4 L327.0 369.3 L325.9 370.2 L324.7 371.0 L323.3 371.8 L321.8 372.6 L320.1 373.4 L318.3 374.0 L316.4 374.7 L220.1 404.0 L218.2 404.5 L216.2 405.0 L214.2 405.3 L212.3 405.6 L210.3 405.8 L208.5 405.9 L206.7 405.9 L205.1 405.8 L203.5 405.6 L202.1 405.3 L200.9 404.9 L199.9 404.5 L199.0 403.9 L198.4 403.3 L198.0 402.6 L197.8 401.9Z" fill="#f39200" stroke="none"/><path d="M197.8 386.5 L198.0 387.3 L198.4 388.0 L199.0 388.6 L199.9 389.1 L200.9 389.6 L202.1 390.0 L203.5 390.3 L205.1 390.4 L206.7 390.6 L208.5 390.6 L210.3 390.5 L212.3 390.3 L214.2 390.0 L216.2 389.6 L218.2 389.2 L220.1 388.6 L316.4 359.3 L318.3 358.7 L320.1 358.0 L321.8 357.3 L323.3 356.5 L324.7 355.7 L325.9 354.8 L327.0 354.0 L327.9 353.1 L328.5 352.2 L329.0 351.4 L329.2 350.6 L329.2 349.8" fill="none" stroke="#000" stroke-width="2.2" stroke-linejoin="round"/><path d="M197.8 401.9 L198.0 402.6 L198.4 403.3 L199.0 403.9 L199.9 404.5 L200.9 404.9 L202.1 405.3 L203.5 405.6 L205.1 405.8 L206.7 405.9 L208.5 405.9 L210.3 405.8 L212.3 405.6 L214.2 405.3 L216.2 405.0 L218.2 404.5 L220.1 404.0 L316.4 374.7 L318.3 374.0 L320.1 373.4 L321.8 372.6 L323.3 371.8 L324.7 371.0 L325.9 370.2 L327.0 369.3 L327.9 368.4 L328.5 367.6 L329.0 366.7 L329.2 365.9 L329.2 365.1" fill="none" stroke="#000" stroke-width="2.2" stroke-linejoin="round"/><line x1="197.8" y1="371.2" x2="197.8" y2="401.9" stroke="#000" stroke-width="2.2" stroke-linecap="round"/><line x1="329.2" y1="334.4" x2="329.2" y2="365.1" stroke="#000" stroke-width="2.2" stroke-linecap="round"/><path d="M316.4 344.0 L318.3 343.3 L320.1 342.7 L321.8 341.9 L323.3 341.1 L324.7 340.3 L325.9 339.5 L327.0 338.6 L327.9 337.7 L328.5 336.9 L329.0 336.0 L329.2 335.2 L329.2 334.4 L329.0 333.7 L328.6 333.0 L328.0 332.4 L327.1 331.8 L326.1 331.4 L324.9 331.0 L323.5 330.7 L321.9 330.5 L320.3 330.4 L318.5 330.4 L316.7 330.5 L314.7 330.7 L312.8 331.0 L310.8 331.3 L308.8 331.8 L306.9 332.3 L210.6 361.6 L208.7 362.3 L206.9 362.9 L205.2 363.7 L203.7 364.5 L202.3 365.3 L201.1 366.1 L200.0 367.0 L199.1 367.9 L198.5 368.7 L198.0 369.6 L197.8 370.4 L197.8 371.2 L198.0 371.9 L198.4 372.6 L199.0 373.2 L199.9 373.8 L200.9 374.2 L202.1 374.6 L203.5 374.9 L205.1 375.1 L206.7 375.2 L208.5 375.2 L210.3 375.1 L212.3 374.9 L214.2 374.6 L216.2 374.3 L218.2 373.8 L220.1 373.3Z" fill="#fff" stroke="#000" stroke-width="2.2" stroke-linejoin="round"/>
<path d="M466.5 202.1 L467.0 203.0 L491.4 232.8 L492.3 233.6 L493.8 234.2 L495.8 234.6 L498.1 234.8 L500.9 234.8 L503.9 234.5 L507.2 234.1 L510.6 233.5 L514.1 232.7 L517.6 231.7 L520.9 230.6 L524.0 229.4 L526.9 228.1 L529.5 226.8 L531.6 225.4 L533.3 224.1 L534.4 222.8 L535.1 221.6 L535.2 220.5 L535.2 251.2 L535.1 252.3 L534.4 253.5 L533.3 254.8 L531.6 256.1 L529.5 257.5 L526.9 258.8 L524.0 260.1 L520.9 261.3 L517.6 262.4 L514.1 263.4 L510.6 264.2 L507.2 264.8 L503.9 265.2 L500.9 265.5 L498.1 265.5 L495.8 265.3 L493.8 264.9 L492.3 264.3 L491.4 263.5 L467.0 233.7 L466.5 232.8Z" fill="#009a44" stroke="none"/><path d="M466.5 217.4 L467.0 218.3 L491.4 248.1 L492.3 248.9 L493.8 249.5 L495.8 249.9 L498.1 250.1 L500.9 250.1 L503.9 249.9 L507.2 249.5 L510.6 248.8 L514.1 248.0 L517.6 247.1 L520.9 246.0 L524.0 244.8 L526.9 243.5 L529.5 242.1 L531.6 240.8 L533.3 239.5 L534.4 238.2 L535.1 237.0 L535.2 235.9" fill="none" stroke="#000" stroke-width="2.2" stroke-linejoin="round"/><path d="M466.5 232.8 L467.0 233.7 L491.4 263.5 L492.3 264.3 L493.8 264.9 L495.8 265.3 L498.1 265.5 L500.9 265.5 L503.9 265.2 L507.2 264.8 L510.6 264.2 L514.1 263.4 L517.6 262.4 L520.9 261.3 L524.0 260.1 L526.9 258.8 L529.5 257.5 L531.6 256.1 L533.3 254.8 L534.4 253.5 L535.1 252.3 L535.2 251.2" fill="none" stroke="#000" stroke-width="2.2" stroke-linejoin="round"/><line x1="466.5" y1="202.1" x2="466.5" y2="232.8" stroke="#000" stroke-width="2.2" stroke-linecap="round"/><line x1="535.2" y1="220.5" x2="535.2" y2="251.2" stroke="#000" stroke-width="2.2" stroke-linecap="round"/><path d="M491.4 232.8 L492.3 233.6 L493.8 234.2 L495.8 234.6 L498.1 234.8 L500.9 234.8 L503.9 234.5 L507.2 234.1 L510.6 233.5 L514.1 232.7 L517.6 231.7 L520.9 230.6 L524.0 229.4 L526.9 228.1 L529.5 226.8 L531.6 225.4 L533.3 224.1 L534.4 222.8 L535.1 221.6 L535.2 220.5 L534.8 219.6 L510.4 189.8 L509.4 189.0 L507.9 188.4 L505.9 188.0 L503.6 187.8 L500.8 187.8 L497.8 188.1 L494.5 188.5 L491.1 189.1 L487.6 189.9 L484.1 190.9 L480.8 192.0 L477.7 193.2 L474.8 194.5 L472.2 195.8 L470.1 197.2 L468.4 198.5 L467.3 199.8 L466.6 201.0 L466.5 202.1 L467.0 203.0Z" fill="#fff" stroke="#000" stroke-width="2.2" stroke-linejoin="round"/>
<path d="M600.9 229.5 L601.2 230.5 L601.7 231.3 L626.1 261.2 L626.9 261.9 L628.0 262.6 L629.3 263.2 L630.9 263.7 L632.7 264.0 L634.6 264.3 L636.8 264.4 L639.0 264.3 L641.4 264.2 L643.9 263.9 L646.4 263.5 L648.9 262.9 L651.4 262.3 L653.9 261.6 L740.7 233.3 L743.1 232.5 L745.4 231.6 L747.5 230.6 L749.5 229.6 L751.3 228.5 L752.9 227.3 L754.3 226.2 L755.4 225.0 L756.2 223.9 L756.8 222.8 L757.1 221.7 L757.1 220.7 L757.1 251.4 L757.1 252.4 L756.8 253.5 L756.2 254.6 L755.4 255.7 L754.3 256.9 L752.9 258.0 L751.3 259.2 L749.5 260.3 L747.5 261.3 L745.4 262.3 L743.1 263.2 L740.7 264.1 L653.9 292.2 L651.4 293.0 L648.9 293.6 L646.4 294.2 L643.9 294.6 L641.4 294.9 L639.0 295.0 L636.8 295.1 L634.6 295.0 L632.7 294.7 L630.9 294.4 L629.3 293.9 L628.0 293.3 L626.9 292.6 L626.1 291.9 L601.7 262.1 L601.2 261.2 L600.9 260.2Z" fill="#009a44" stroke="none"/><path d="M600.9 244.9 L601.2 245.8 L601.7 246.7 L626.1 276.5 L626.9 277.3 L628.0 278.0 L629.3 278.6 L630.9 279.0 L632.7 279.4 L634.6 279.6 L636.8 279.7 L639.0 279.7 L641.4 279.5 L643.9 279.2 L646.4 278.8 L648.9 278.3 L651.4 277.6 L653.9 276.9 L740.7 248.7 L743.1 247.9 L745.4 246.9 L747.5 246.0 L749.5 244.9 L751.3 243.8 L752.9 242.7 L754.3 241.5 L755.4 240.4 L756.2 239.2 L756.8 238.1 L757.1 237.1 L757.1 236.0" fill="none" stroke="#000" stroke-width="2.2" stroke-linejoin="round"/><path d="M600.9 260.2 L601.2 261.2 L601.7 262.1 L626.1 291.9 L626.9 292.6 L628.0 293.3 L629.3 293.9 L630.9 294.4 L632.7 294.7 L634.6 295.0 L636.8 295.1 L639.0 295.0 L641.4 294.9 L643.9 294.6 L646.4 294.2 L648.9 293.6 L651.4 293.0 L653.9 292.2 L740.7 264.1 L743.1 263.2 L745.4 262.3 L747.5 261.3 L749.5 260.3 L751.3 259.2 L752.9 258.0 L754.3 256.9 L755.4 255.7 L756.2 254.6 L756.8 253.5 L757.1 252.4 L757.1 251.4" fill="none" stroke="#000" stroke-width="2.2" stroke-linejoin="round"/><line x1="600.9" y1="229.5" x2="600.9" y2="260.2" stroke="#000" stroke-width="2.2" stroke-linecap="round"/><line x1="757.1" y1="220.7" x2="757.1" y2="251.4" stroke="#000" stroke-width="2.2" stroke-linecap="round"/><path d="M704.1 188.7 L617.3 216.8 L614.9 217.7 L612.6 218.6 L610.5 219.6 L608.5 220.6 L606.7 221.7 L605.1 222.9 L603.7 224.0 L602.6 225.2 L601.8 226.3 L601.2 227.4 L600.9 228.5 L600.9 229.5 L601.2 230.5 L601.7 231.3 L626.1 261.2 L626.9 261.9 L628.0 262.6 L629.3 263.2 L630.9 263.7 L632.7 264.0 L634.6 264.3 L636.8 264.4 L639.0 264.3 L641.4 264.2 L643.9 263.9 L646.4 263.5 L648.9 262.9 L651.4 262.3 L653.9 261.6 L740.7 233.3 L743.1 232.5 L745.4 231.6 L747.5 230.6 L749.5 229.6 L751.3 228.5 L752.9 227.3 L754.3 226.2 L755.4 225.0 L756.2 223.9 L756.8 222.8 L757.1 221.7 L757.1 220.7 L756.8 219.7 L756.3 218.8 L731.9 189.0 L731.1 188.3 L730.0 187.6 L728.7 187.0 L727.1 186.5 L725.3 186.2 L723.4 185.9 L721.2 185.8 L719.0 185.9 L716.6 186.0 L714.1 186.3 L711.6 186.7 L709.1 187.3 L706.6 187.9Z" fill="#fff" stroke="#000" stroke-width="2.2" stroke-linejoin="round"/>
<path d="M380.6 229.5 L381.0 230.4 L428.1 288.0 L429.1 288.7 L430.6 289.3 L432.5 289.7 L434.9 289.9 L437.6 289.9 L440.7 289.7 L444.0 289.3 L447.4 288.6 L450.9 287.8 L454.3 286.9 L457.6 285.8 L460.8 284.6 L463.7 283.3 L466.2 281.9 L468.3 280.6 L470.0 279.3 L471.2 278.0 L471.8 276.8 L471.9 275.7 L471.9 306.4 L471.8 307.5 L471.2 308.7 L470.0 310.0 L468.3 311.3 L466.2 312.6 L463.7 314.0 L460.8 315.3 L457.6 316.5 L454.3 317.6 L450.9 318.5 L447.4 319.3 L444.0 320.0 L440.7 320.4 L437.6 320.6 L434.9 320.6 L432.5 320.4 L430.6 320.0 L429.1 319.4 L428.1 318.7 L381.0 261.1 L380.6 260.2Z" fill="#009a44" stroke="none"/><path d="M380.6 244.8 L381.0 245.8 L428.1 303.3 L429.1 304.1 L430.6 304.7 L432.5 305.1 L434.9 305.3 L437.6 305.3 L440.7 305.0 L444.0 304.6 L447.4 304.0 L450.9 303.2 L454.3 302.2 L457.6 301.1 L460.8 299.9 L463.7 298.6 L466.2 297.3 L468.3 295.9 L470.0 294.6 L471.2 293.3 L471.8 292.1 L471.9 291.1" fill="none" stroke="#000" stroke-width="2.2" stroke-linejoin="round"/><path d="M380.6 260.2 L381.0 261.1 L428.1 318.7 L429.1 319.4 L430.6 320.0 L432.5 320.4 L434.9 320.6 L437.6 320.6 L440.7 320.4 L444.0 320.0 L447.4 319.3 L450.9 318.5 L454.3 317.6 L457.6 316.5 L460.8 315.3 L463.7 314.0 L466.2 312.6 L468.3 311.3 L470.0 310.0 L471.2 308.7 L471.8 307.5 L471.9 306.4" fill="none" stroke="#000" stroke-width="2.2" stroke-linejoin="round"/><line x1="380.6" y1="229.5" x2="380.6" y2="260.2" stroke="#000" stroke-width="2.2" stroke-linecap="round"/><line x1="471.9" y1="275.7" x2="471.9" y2="306.4" stroke="#000" stroke-width="2.2" stroke-linecap="round"/><path d="M428.1 288.0 L429.1 288.7 L430.6 289.3 L432.5 289.7 L434.9 289.9 L437.6 289.9 L440.7 289.7 L444.0 289.3 L447.4 288.6 L450.9 287.8 L454.3 286.9 L457.6 285.8 L460.8 284.6 L463.7 283.3 L466.2 281.9 L468.3 280.6 L470.0 279.3 L471.2 278.0 L471.8 276.8 L471.9 275.7 L471.5 274.8 L424.4 217.2 L423.4 216.5 L421.9 215.9 L420.0 215.5 L417.6 215.3 L414.9 215.3 L411.8 215.5 L408.5 215.9 L405.1 216.6 L401.6 217.4 L398.2 218.3 L394.9 219.4 L391.7 220.6 L388.8 221.9 L386.3 223.3 L384.2 224.6 L382.5 225.9 L381.3 227.2 L380.7 228.4 L380.6 229.5 L381.0 230.4Z" fill="#fff" stroke="#000" stroke-width="2.2" stroke-linejoin="round"/>
<path d="M229.2 312.9 L229.6 313.8 L254.0 343.6 L255.0 344.4 L256.5 345.0 L258.4 345.4 L260.8 345.6 L263.5 345.6 L266.6 345.3 L269.9 344.9 L273.3 344.3 L276.8 343.5 L280.2 342.5 L283.6 341.4 L286.7 340.2 L289.6 338.9 L292.1 337.6 L294.2 336.2 L295.9 334.9 L297.1 333.6 L297.7 332.4 L297.8 331.3 L297.8 362.0 L297.7 363.1 L297.1 364.3 L295.9 365.6 L294.2 366.9 L292.1 368.3 L289.6 369.6 L286.7 370.9 L283.6 372.1 L280.2 373.2 L276.8 374.2 L273.3 375.0 L269.9 375.6 L266.6 376.0 L263.5 376.3 L260.8 376.3 L258.4 376.1 L256.5 375.7 L255.0 375.1 L254.0 374.3 L229.6 344.5 L229.2 343.6Z" fill="#009a44" stroke="none"/><path d="M229.2 328.2 L229.6 329.2 L254.0 359.0 L255.0 359.7 L256.5 360.3 L258.4 360.7 L260.8 360.9 L263.5 360.9 L266.6 360.7 L269.9 360.3 L273.3 359.6 L276.8 358.8 L280.2 357.9 L283.6 356.8 L286.7 355.6 L289.6 354.3 L292.1 352.9 L294.2 351.6 L295.9 350.3 L297.1 349.0 L297.7 347.8 L297.8 346.7" fill="none" stroke="#000" stroke-width="2.2" stroke-linejoin="round"/><path d="M229.2 343.6 L229.6 344.5 L254.0 374.3 L255.0 375.1 L256.5 375.7 L258.4 376.1 L260.8 376.3 L263.5 376.3 L266.6 376.0 L269.9 375.6 L273.3 375.0 L276.8 374.2 L280.2 373.2 L283.6 372.1 L286.7 370.9 L289.6 369.6 L292.1 368.3 L294.2 366.9 L295.9 365.6 L297.1 364.3 L297.7 363.1 L297.8 362.0" fill="none" stroke="#000" stroke-width="2.2" stroke-linejoin="round"/><line x1="229.2" y1="312.9" x2="229.2" y2="343.6" stroke="#000" stroke-width="2.2" stroke-linecap="round"/><line x1="297.8" y1="331.3" x2="297.8" y2="362.0" stroke="#000" stroke-width="2.2" stroke-linecap="round"/><path d="M254.0 343.6 L255.0 344.4 L256.5 345.0 L258.4 345.4 L260.8 345.6 L263.5 345.6 L266.6 345.3 L269.9 344.9 L273.3 344.3 L276.8 343.5 L280.2 342.5 L283.6 341.4 L286.7 340.2 L289.6 338.9 L292.1 337.6 L294.2 336.2 L295.9 334.9 L297.1 333.6 L297.7 332.4 L297.8 331.3 L297.4 330.4 L273.0 300.6 L272.0 299.8 L270.5 299.2 L268.6 298.8 L266.2 298.6 L263.5 298.6 L260.4 298.9 L257.1 299.3 L253.7 299.9 L250.2 300.7 L246.8 301.7 L243.4 302.8 L240.3 304.0 L237.4 305.3 L234.9 306.6 L232.8 308.0 L231.1 309.3 L229.9 310.6 L229.3 311.8 L229.2 312.9 L229.6 313.8Z" fill="#fff" stroke="#000" stroke-width="2.2" stroke-linejoin="round"/>
<path d="M633.9 168.8 L633.9 169.2 L634.1 169.8 L634.2 170.1 L634.6 170.7 L634.7 170.9 L650.2 189.8 L650.6 190.4 L650.8 191.1 L650.8 221.8 L650.6 221.1 L650.2 220.5 L634.7 201.6 L634.6 201.4 L634.2 200.8 L634.1 200.5 L633.9 199.9 L633.9 199.5Z" fill="#f39200" stroke="none"/><path d="M633.9 184.2 L633.9 184.5 L634.1 185.1 L634.2 185.4 L634.6 186.1 L634.7 186.2 L650.2 205.1 L650.6 205.8 L650.8 206.4" fill="none" stroke="#000" stroke-width="2.2" stroke-linejoin="round"/><path d="M633.9 199.5 L633.9 199.9 L634.1 200.5 L634.2 200.8 L634.6 201.4 L634.7 201.6 L650.2 220.5 L650.6 221.1 L650.8 221.8" fill="none" stroke="#000" stroke-width="2.2" stroke-linejoin="round"/><line x1="633.9" y1="168.8" x2="633.9" y2="199.5" stroke="#000" stroke-width="2.2" stroke-linecap="round"/><line x1="650.8" y1="191.1" x2="650.8" y2="221.8" stroke="#000" stroke-width="2.2" stroke-linecap="round"/><path d="M709.8 196.9 L709.8 196.2 L710.0 195.4 L710.4 194.6 L711.0 193.8 L711.8 193.0 L712.8 192.2 L713.9 191.4 L715.1 190.7 L716.5 189.9 L718.0 189.2 L719.6 188.6 L721.3 188.0 L775.1 170.5 L775.5 170.4 L776.8 170.0 L777.6 169.6 L778.6 169.3 L779.4 168.9 L780.3 168.5 L781.0 168.1 L781.9 167.7 L782.5 167.3 L783.3 166.8 L783.9 166.4 L784.6 166.0 L785.1 165.6 L785.7 165.1 L786.1 164.7 L786.6 164.2 L786.9 163.8 L787.3 163.3 L787.5 162.9 L787.8 162.4 L787.9 162.0 L788.1 161.6 L788.1 161.2 L788.1 160.8 L788.1 191.5 L788.1 191.9 L788.1 192.3 L787.9 192.7 L787.8 193.1 L787.5 193.6 L787.3 194.0 L786.9 194.5 L786.6 194.9 L786.1 195.4 L785.7 195.8 L785.1 196.3 L784.6 196.7 L783.9 197.1 L783.3 197.5 L782.5 198.0 L781.9 198.4 L781.0 198.8 L780.3 199.2 L779.4 199.6 L778.6 200.0 L777.6 200.3 L776.8 200.7 L775.5 201.1 L775.1 201.2 L721.3 218.7 L719.6 219.3 L718.0 219.9 L716.5 220.6 L715.1 221.4 L713.9 222.1 L712.8 222.9 L711.8 223.7 L711.0 224.5 L710.4 225.3 L710.0 226.1 L709.8 226.9 L709.8 227.6Z" fill="#f39200" stroke="none"/><path d="M709.8 212.2 L709.8 211.5 L710.0 210.8 L710.4 210.0 L711.0 209.2 L711.8 208.4 L712.8 207.6 L713.9 206.8 L715.1 206.0 L716.5 205.3 L718.0 204.6 L719.6 203.9 L721.3 203.4 L775.1 185.9 L775.5 185.7 L776.8 185.3 L777.6 185.0 L778.6 184.6 L779.4 184.3 L780.3 183.8 L781.0 183.5 L781.9 183.0 L782.5 182.7 L783.3 182.2 L783.9 181.8 L784.6 181.3 L785.1 180.9 L785.7 180.4 L786.1 180.0 L786.6 179.5 L786.9 179.1 L787.3 178.6 L787.5 178.2 L787.8 177.8 L787.9 177.4 L788.1 176.9 L788.1 176.5 L788.1 176.1" fill="none" stroke="#000" stroke-width="2.2" stroke-linejoin="round"/><path d="M709.8 227.6 L709.8 226.9 L710.0 226.1 L710.4 225.3 L711.0 224.5 L711.8 223.7 L712.8 222.9 L713.9 222.1 L715.1 221.4 L716.5 220.6 L718.0 219.9 L719.6 219.3 L721.3 218.7 L775.1 201.2 L775.5 201.1 L776.8 200.7 L777.6 200.3 L778.6 200.0 L779.4 199.6 L780.3 199.2 L781.0 198.8 L781.9 198.4 L782.5 198.0 L783.3 197.5 L783.9 197.1 L784.6 196.7 L785.1 196.3 L785.7 195.8 L786.1 195.4 L786.6 194.9 L786.9 194.5 L787.3 194.0 L787.5 193.6 L787.8 193.1 L787.9 192.7 L788.1 192.3 L788.1 191.9 L788.1 191.5" fill="none" stroke="#000" stroke-width="2.2" stroke-linejoin="round"/><line x1="709.8" y1="196.9" x2="709.8" y2="227.6" stroke="#000" stroke-width="2.2" stroke-linecap="round"/><line x1="788.1" y1="160.8" x2="788.1" y2="191.5" stroke="#000" stroke-width="2.2" stroke-linecap="round"/><path d="M569.9 228.0 L569.9 228.4 L570.0 228.8 L570.2 229.1 L570.4 229.5 L570.6 229.8 L571.0 230.1 L571.3 230.4 L571.8 230.7 L572.2 230.9 L572.8 231.2 L573.3 231.3 L574.0 231.5 L574.6 231.7 L575.3 231.8 L576.0 231.9 L576.8 232.0 L577.5 232.1 L578.4 232.1 L579.2 232.1 L580.2 232.1 L581.0 232.1 L582.0 232.0 L582.9 231.9 L583.9 231.8 L584.8 231.7 L585.9 231.5 L586.8 231.4 L587.9 231.1 L588.7 230.9 L589.8 230.7 L590.7 230.4 L592.0 230.0 L592.4 229.9 L648.8 211.6 L650.5 211.0 L652.3 210.6 L654.1 210.2 L655.8 209.9 L657.6 209.7 L659.2 209.6 L660.8 209.6 L662.3 209.7 L663.7 209.8 L664.9 210.1 L666.0 210.4 L666.9 210.8 L667.7 211.3 L668.3 211.8 L681.9 228.5 L682.1 228.7 L682.7 229.2 L683.0 229.5 L683.7 229.9 L684.1 230.1 L684.9 230.5 L685.4 230.7 L686.4 231.0 L687.0 231.1 L688.1 231.3 L688.7 231.4 L689.9 231.6 L690.7 231.6 L692.0 231.7 L692.8 231.7 L694.2 231.7 L695.0 231.7 L696.4 231.6 L697.3 231.5 L698.8 231.3 L699.7 231.2 L701.2 230.9 L702.1 230.8 L703.7 230.4 L704.6 230.2 L706.1 229.8 L707.0 229.6 L708.5 229.1 L709.4 228.8 L710.9 228.3 L711.7 228.0 L713.1 227.5 L713.9 227.1 L715.2 226.5 L715.9 226.1 L717.2 225.5 L717.8 225.1 L718.9 224.4 L719.5 224.0 L720.5 223.3 L721.0 223.0 L721.9 222.2 L722.3 221.8 L723.0 221.1 L723.3 220.7 L723.9 220.0 L724.1 219.6 L724.5 218.9 L724.6 218.6 L724.8 217.9 L724.9 217.5 L724.9 216.9 L724.9 247.6 L724.9 248.2 L724.8 248.6 L724.6 249.3 L724.5 249.6 L724.1 250.3 L723.9 250.7 L723.3 251.4 L723.0 251.8 L722.3 252.5 L721.9 252.9 L721.0 253.7 L720.5 254.0 L719.5 254.7 L718.9 255.1 L717.8 255.8 L717.2 256.2 L715.9 256.8 L715.2 257.2 L713.9 257.8 L713.1 258.2 L711.7 258.7 L710.9 259.0 L709.4 259.5 L708.5 259.8 L707.0 260.3 L706.1 260.5 L704.6 260.9 L703.7 261.1 L702.1 261.5 L701.2 261.6 L699.7 261.9 L698.8 262.0 L697.3 262.2 L696.4 262.3 L695.0 262.4 L694.2 262.4 L692.8 262.4 L692.0 262.4 L690.7 262.3 L689.9 262.3 L688.7 262.1 L688.1 262.0 L687.0 261.8 L686.4 261.7 L685.4 261.4 L684.9 261.2 L684.1 260.8 L683.7 260.6 L683.0 260.2 L682.7 259.9 L682.1 259.4 L681.9 259.2 L668.3 242.5 L667.7 242.0 L666.9 241.5 L666.0 241.1 L664.9 240.8 L663.7 240.5 L662.3 240.4 L660.8 240.3 L659.2 240.3 L657.6 240.4 L655.8 240.6 L654.1 240.9 L652.3 241.3 L650.5 241.7 L648.8 242.3 L592.4 260.6 L592.0 260.7 L590.7 261.1 L589.8 261.4 L588.7 261.6 L587.9 261.8 L586.8 262.1 L585.9 262.2 L584.8 262.4 L583.9 262.5 L582.9 262.6 L582.0 262.7 L581.0 262.8 L580.2 262.8 L579.2 262.8 L578.4 262.8 L577.5 262.8 L576.8 262.7 L576.0 262.6 L575.3 262.5 L574.6 262.4 L574.0 262.2 L573.3 262.0 L572.8 261.9 L572.2 261.6 L571.8 261.4 L571.3 261.1 L571.0 260.8 L570.6 260.5 L570.4 260.2 L570.2 259.8 L570.0 259.5 L569.9 259.1 L569.9 258.7Z" fill="#f39200" stroke="none"/><path d="M569.9 243.4 L569.9 243.7 L570.0 244.1 L570.2 244.5 L570.4 244.8 L570.6 245.1 L571.0 245.5 L571.3 245.7 L571.8 246.0 L572.2 246.3 L572.8 246.5 L573.3 246.7 L574.0 246.9 L574.6 247.0 L575.3 247.2 L576.0 247.3 L576.8 247.4 L577.5 247.4 L578.4 247.5 L579.2 247.5 L580.2 247.5 L581.0 247.4 L582.0 247.4 L582.9 247.3 L583.9 247.2 L584.8 247.1 L585.9 246.9 L586.8 246.7 L587.9 246.5 L588.7 246.3 L589.8 246.0 L590.7 245.8 L592.0 245.4 L592.4 245.2 L648.8 226.9 L650.5 226.4 L652.3 225.9 L654.1 225.6 L655.8 225.3 L657.6 225.1 L659.2 225.0 L660.8 224.9 L662.3 225.0 L663.7 225.2 L664.9 225.4 L666.0 225.7 L666.9 226.2 L667.7 226.6 L668.3 227.2 L681.9 243.9 L682.1 244.0 L682.7 244.6 L683.0 244.8 L683.7 245.3 L684.1 245.5 L684.9 245.9 L685.4 246.0 L686.4 246.3 L687.0 246.5 L688.1 246.7 L688.7 246.8 L689.9 246.9 L690.7 247.0 L692.0 247.0 L692.8 247.1 L694.2 247.0 L695.0 247.0 L696.4 246.9 L697.3 246.8 L698.8 246.6 L699.7 246.5 L701.2 246.3 L702.1 246.1 L703.7 245.8 L704.6 245.6 L706.1 245.2 L707.0 244.9 L708.5 244.5 L709.4 244.2 L710.9 243.7 L711.7 243.4 L713.1 242.8 L713.9 242.5 L715.2 241.9 L715.9 241.5 L717.2 240.8 L717.8 240.5 L718.9 239.8 L719.5 239.4 L720.5 238.7 L721.0 238.3 L721.9 237.6 L722.3 237.2 L723.0 236.5 L723.3 236.1 L723.9 235.4 L724.1 235.0 L724.5 234.3 L724.6 233.9 L724.8 233.2 L724.9 232.9 L724.9 232.2" fill="none" stroke="#000" stroke-width="2.2" stroke-linejoin="round"/><path d="M569.9 258.7 L569.9 259.1 L570.0 259.5 L570.2 259.8 L570.4 260.2 L570.6 260.5 L571.0 260.8 L571.3 261.1 L571.8 261.4 L572.2 261.6 L572.8 261.9 L573.3 262.0 L574.0 262.2 L574.6 262.4 L575.3 262.5 L576.0 262.6 L576.8 262.7 L577.5 262.8 L578.4 262.8 L579.2 262.8 L580.2 262.8 L581.0 262.8 L582.0 262.7 L582.9 262.6 L583.9 262.5 L584.8 262.4 L585.9 262.2 L586.8 262.1 L587.9 261.8 L588.7 261.6 L589.8 261.4 L590.7 261.1 L592.0 260.7 L592.4 260.6 L648.8 242.3 L650.5 241.7 L652.3 241.3 L654.1 240.9 L655.8 240.6 L657.6 240.4 L659.2 240.3 L660.8 240.3 L662.3 240.4 L663.7 240.5 L664.9 240.8 L666.0 241.1 L666.9 241.5 L667.7 242.0 L668.3 242.5 L681.9 259.2 L682.1 259.4 L682.7 259.9 L683.0 260.2 L683.7 260.6 L684.1 260.8 L684.9 261.2 L685.4 261.4 L686.4 261.7 L687.0 261.8 L688.1 262.0 L688.7 262.1 L689.9 262.3 L690.7 262.3 L692.0 262.4 L692.8 262.4 L694.2 262.4 L695.0 262.4 L696.4 262.3 L697.3 262.2 L698.8 262.0 L699.7 261.9 L701.2 261.6 L702.1 261.5 L703.7 261.1 L704.6 260.9 L706.1 260.5 L707.0 260.3 L708.5 259.8 L709.4 259.5 L710.9 259.0 L711.7 258.7 L713.1 258.2 L713.9 257.8 L715.2 257.2 L715.9 256.8 L717.2 256.2 L717.8 255.8 L718.9 255.1 L719.5 254.7 L720.5 254.0 L721.0 253.7 L721.9 252.9 L722.3 252.5 L723.0 251.8 L723.3 251.4 L723.9 250.7 L724.1 250.3 L724.5 249.6 L724.6 249.3 L724.8 248.6 L724.9 248.2 L724.9 247.6" fill="none" stroke="#000" stroke-width="2.2" stroke-linejoin="round"/><line x1="569.9" y1="228.0" x2="569.9" y2="258.7" stroke="#000" stroke-width="2.2" stroke-linecap="round"/><line x1="724.9" y1="216.9" x2="724.9" y2="247.6" stroke="#000" stroke-width="2.2" stroke-linecap="round"/><path d="M682.7 229.2 L683.0 229.5 L683.7 229.9 L684.1 230.1 L684.9 230.5 L685.4 230.7 L686.4 231.0 L687.0 231.1 L688.1 231.3 L688.7 231.4 L689.9 231.6 L690.7 231.6 L692.0 231.7 L692.8 231.7 L694.2 231.7 L695.0 231.7 L696.4 231.6 L697.3 231.5 L698.8 231.3 L699.7 231.2 L701.2 230.9 L702.1 230.8 L703.7 230.4 L704.6 230.2 L706.1 229.8 L707.0 229.6 L708.5 229.1 L709.4 228.8 L710.9 228.3 L711.7 228.0 L713.1 227.5 L713.9 227.1 L715.2 226.5 L715.9 226.1 L717.2 225.5 L717.8 225.1 L718.9 224.4 L719.5 224.0 L720.5 223.3 L721.0 223.0 L721.9 222.2 L722.3 221.8 L723.0 221.1 L723.3 220.7 L723.9 220.0 L724.1 219.6 L724.5 218.9 L724.6 218.6 L724.8 217.9 L724.9 217.5 L724.9 216.9 L724.8 216.5 L724.7 215.9 L724.5 215.6 L724.2 215.0 L724.0 214.9 L710.4 198.2 L710.0 197.5 L709.8 196.9 L709.8 196.2 L710.0 195.4 L710.4 194.6 L711.0 193.8 L711.8 193.0 L712.8 192.2 L713.9 191.4 L715.1 190.7 L716.5 189.9 L718.0 189.2 L719.6 188.6 L721.3 188.0 L775.1 170.5 L775.5 170.4 L776.8 170.0 L777.6 169.6 L778.6 169.3 L779.4 168.9 L780.3 168.5 L781.0 168.1 L781.9 167.7 L782.5 167.3 L783.3 166.8 L783.9 166.4 L784.6 166.0 L785.1 165.6 L785.7 165.1 L786.1 164.7 L786.6 164.2 L786.9 163.8 L787.3 163.3 L787.5 162.9 L787.8 162.4 L787.9 162.0 L788.1 161.6 L788.1 161.2 L788.1 160.8 L788.1 160.4 L788.0 160.0 L787.8 159.7 L787.6 159.3 L787.4 159.0 L787.0 158.7 L786.7 158.4 L786.2 158.1 L785.8 157.9 L785.2 157.6 L784.7 157.5 L784.0 157.3 L783.4 157.1 L782.7 157.0 L782.0 156.9 L781.2 156.8 L780.5 156.7 L779.6 156.7 L778.8 156.7 L777.8 156.7 L777.0 156.7 L776.0 156.8 L775.1 156.9 L774.1 157.0 L773.2 157.1 L772.1 157.3 L771.2 157.4 L770.1 157.7 L769.3 157.9 L768.2 158.1 L767.3 158.4 L766.0 158.8 L765.6 158.9 L711.8 176.4 L710.1 176.9 L708.3 177.4 L706.5 177.7 L704.8 178.0 L703.0 178.2 L701.4 178.3 L699.8 178.4 L698.3 178.3 L696.9 178.1 L695.7 177.9 L694.6 177.6 L693.7 177.1 L692.9 176.7 L692.3 176.1 L676.8 157.2 L676.7 157.0 L676.1 156.5 L675.8 156.2 L675.1 155.8 L674.7 155.6 L673.9 155.2 L673.4 155.0 L672.4 154.7 L671.8 154.6 L670.7 154.4 L670.0 154.3 L668.8 154.1 L668.1 154.1 L666.8 154.0 L666.0 154.0 L664.6 154.0 L663.8 154.1 L662.3 154.2 L661.5 154.2 L660.0 154.4 L659.1 154.5 L657.5 154.8 L656.6 155.0 L655.1 155.3 L654.2 155.5 L652.6 155.9 L651.8 156.1 L650.2 156.6 L649.4 156.9 L647.9 157.4 L647.1 157.7 L645.7 158.3 L644.9 158.6 L643.6 159.2 L642.8 159.6 L641.6 160.2 L640.9 160.6 L639.8 161.3 L639.2 161.7 L638.2 162.4 L637.7 162.8 L636.9 163.5 L636.5 163.9 L635.8 164.6 L635.4 165.0 L634.9 165.7 L634.6 166.1 L634.3 166.8 L634.1 167.2 L633.9 167.8 L633.9 168.2 L633.9 168.8 L633.9 169.2 L634.1 169.8 L634.2 170.1 L634.6 170.7 L634.7 170.9 L650.2 189.8 L650.6 190.4 L650.8 191.1 L650.8 191.8 L650.6 192.5 L650.2 193.3 L649.6 194.1 L648.8 194.9 L647.8 195.7 L646.7 196.5 L645.5 197.3 L644.1 198.0 L642.6 198.7 L641.0 199.4 L639.3 199.9 L582.9 218.3 L582.5 218.4 L581.2 218.8 L580.4 219.2 L579.4 219.5 L578.6 219.9 L577.7 220.3 L577.0 220.7 L576.1 221.1 L575.5 221.5 L574.7 222.0 L574.1 222.4 L573.4 222.8 L572.9 223.2 L572.3 223.7 L571.9 224.1 L571.4 224.6 L571.1 225.0 L570.7 225.5 L570.5 225.9 L570.2 226.4 L570.1 226.8 L569.9 227.2 L569.9 227.6 L569.9 228.0 L569.9 228.4 L570.0 228.8 L570.2 229.1 L570.4 229.5 L570.6 229.8 L571.0 230.1 L571.3 230.4 L571.8 230.7 L572.2 230.9 L572.8 231.2 L573.3 231.3 L574.0 231.5 L574.6 231.7 L575.3 231.8 L576.0 231.9 L576.8 232.0 L577.5 232.1 L578.4 232.1 L579.2 232.1 L580.2 232.1 L581.0 232.1 L582.0 232.0 L582.9 231.9 L583.9 231.8 L584.8 231.7 L585.9 231.5 L586.8 231.4 L587.9 231.1 L588.7 230.9 L589.8 230.7 L590.7 230.4 L592.0 230.0 L592.4 229.9 L648.8 211.6 L650.5 211.0 L652.3 210.6 L654.1 210.2 L655.8 209.9 L657.6 209.7 L659.2 209.6 L660.8 209.6 L662.3 209.7 L663.7 209.8 L664.9 210.1 L666.0 210.4 L666.9 210.8 L667.7 211.3 L668.3 211.8 L681.9 228.5 L682.1 228.7Z" fill="#fff" stroke="#000" stroke-width="2.2" stroke-linejoin="round"/>
<path d="M348.3 225.4 L348.5 226.1 L348.9 226.8 L349.6 227.4 L350.4 228.0 L351.5 228.4 L352.7 228.8 L354.1 229.1 L355.6 229.3 L357.3 229.4 L359.0 229.4 L360.9 229.3 L362.8 229.1 L364.8 228.8 L366.7 228.5 L368.7 228.0 L370.6 227.5 L553.8 171.8 L555.6 171.1 L557.4 170.5 L559.1 169.7 L560.7 168.9 L562.1 168.1 L563.3 167.3 L564.4 166.4 L565.2 165.5 L565.9 164.7 L566.3 163.8 L566.6 163.0 L566.6 162.2 L566.6 192.9 L566.6 193.7 L566.3 194.5 L565.9 195.4 L565.2 196.2 L564.4 197.1 L563.3 198.0 L562.1 198.8 L560.7 199.6 L559.1 200.4 L557.4 201.2 L555.6 201.8 L553.8 202.5 L370.6 258.2 L368.7 258.7 L366.7 259.2 L364.8 259.5 L362.8 259.8 L360.9 260.0 L359.0 260.1 L357.3 260.1 L355.6 260.0 L354.1 259.8 L352.7 259.5 L351.5 259.1 L350.4 258.7 L349.6 258.1 L348.9 257.5 L348.5 256.8 L348.3 256.1Z" fill="#f39200" stroke="none"/><path d="M348.3 240.7 L348.5 241.5 L348.9 242.2 L349.6 242.8 L350.4 243.3 L351.5 243.8 L352.7 244.2 L354.1 244.5 L355.6 244.6 L357.3 244.8 L359.0 244.8 L360.9 244.7 L362.8 244.5 L364.8 244.2 L366.7 243.8 L368.7 243.4 L370.6 242.8 L553.8 187.1 L555.6 186.5 L557.4 185.8 L559.1 185.1 L560.7 184.3 L562.1 183.5 L563.3 182.6 L564.4 181.8 L565.2 180.9 L565.9 180.0 L566.3 179.2 L566.6 178.4 L566.6 177.6" fill="none" stroke="#000" stroke-width="2.2" stroke-linejoin="round"/><path d="M348.3 256.1 L348.5 256.8 L348.9 257.5 L349.6 258.1 L350.4 258.7 L351.5 259.1 L352.7 259.5 L354.1 259.8 L355.6 260.0 L357.3 260.1 L359.0 260.1 L360.9 260.0 L362.8 259.8 L364.8 259.5 L366.7 259.2 L368.7 258.7 L370.6 258.2 L553.8 202.5 L555.6 201.8 L557.4 201.2 L559.1 200.4 L560.7 199.6 L562.1 198.8 L563.3 198.0 L564.4 197.1 L565.2 196.2 L565.9 195.4 L566.3 194.5 L566.6 193.7 L566.6 192.9" fill="none" stroke="#000" stroke-width="2.2" stroke-linejoin="round"/><line x1="348.3" y1="225.4" x2="348.3" y2="256.1" stroke="#000" stroke-width="2.2" stroke-linecap="round"/><line x1="566.6" y1="162.2" x2="566.6" y2="192.9" stroke="#000" stroke-width="2.2" stroke-linecap="round"/><path d="M553.8 171.8 L555.6 171.1 L557.4 170.5 L559.1 169.7 L560.7 168.9 L562.1 168.1 L563.3 167.3 L564.4 166.4 L565.2 165.5 L565.9 164.7 L566.3 163.8 L566.6 163.0 L566.6 162.2 L566.4 161.5 L565.9 160.8 L565.3 160.2 L564.5 159.6 L563.4 159.2 L562.2 158.8 L560.8 158.5 L559.3 158.3 L557.6 158.2 L555.9 158.2 L554.0 158.3 L552.1 158.5 L550.1 158.8 L548.2 159.1 L546.2 159.6 L544.3 160.1 L361.1 215.8 L359.3 216.5 L357.5 217.1 L355.8 217.9 L354.2 218.7 L352.8 219.5 L351.6 220.3 L350.5 221.2 L349.7 222.1 L349.0 222.9 L348.6 223.8 L348.3 224.6 L348.3 225.4 L348.5 226.1 L348.9 226.8 L349.6 227.4 L350.4 228.0 L351.5 228.4 L352.7 228.8 L354.1 229.1 L355.6 229.3 L357.3 229.4 L359.0 229.4 L360.9 229.3 L362.8 229.1 L364.8 228.8 L366.7 228.5 L368.7 228.0 L370.6 227.5Z" fill="#fff" stroke="#000" stroke-width="2.2" stroke-linejoin="round"/>
<path d="M372.7 255.2 L372.9 255.9 L373.3 256.6 L374.0 257.2 L374.8 257.8 L375.9 258.2 L377.1 258.6 L378.5 258.9 L380.0 259.1 L381.7 259.2 L383.4 259.2 L385.3 259.1 L387.2 258.9 L389.2 258.6 L391.1 258.3 L393.1 257.8 L395.0 257.3 L491.4 228.0 L493.2 227.3 L495.0 226.7 L496.7 225.9 L498.3 225.1 L499.7 224.3 L500.9 223.5 L502.0 222.6 L502.8 221.7 L503.5 220.9 L503.9 220.0 L504.2 219.2 L504.2 218.4 L504.2 249.1 L504.2 249.9 L503.9 250.7 L503.5 251.6 L502.8 252.4 L502.0 253.3 L500.9 254.2 L499.7 255.0 L498.3 255.8 L496.7 256.6 L495.0 257.4 L493.2 258.0 L491.4 258.7 L395.0 288.0 L393.1 288.5 L391.1 289.0 L389.2 289.3 L387.2 289.6 L385.3 289.8 L383.4 289.9 L381.7 289.9 L380.0 289.8 L378.5 289.6 L377.1 289.3 L375.9 288.9 L374.8 288.5 L374.0 287.9 L373.3 287.3 L372.9 286.6 L372.7 285.9Z" fill="#f39200" stroke="none"/><path d="M372.7 270.5 L372.9 271.3 L373.3 272.0 L374.0 272.6 L374.8 273.1 L375.9 273.6 L377.1 274.0 L378.5 274.3 L380.0 274.4 L381.7 274.6 L383.4 274.6 L385.3 274.5 L387.2 274.3 L389.2 274.0 L391.1 273.6 L393.1 273.2 L395.0 272.6 L491.4 243.3 L493.2 242.7 L495.0 242.0 L496.7 241.3 L498.3 240.5 L499.7 239.7 L500.9 238.8 L502.0 238.0 L502.8 237.1 L503.5 236.2 L503.9 235.4 L504.2 234.6 L504.2 233.8" fill="none" stroke="#000" stroke-width="2.2" stroke-linejoin="round"/><path d="M372.7 285.9 L372.9 286.6 L373.3 287.3 L374.0 287.9 L374.8 288.5 L375.9 288.9 L377.1 289.3 L378.5 289.6 L380.0 289.8 L381.7 289.9 L383.4 289.9 L385.3 289.8 L387.2 289.6 L389.2 289.3 L391.1 289.0 L393.1 288.5 L395.0 288.0 L491.4 258.7 L493.2 258.0 L495.0 257.4 L496.7 256.6 L498.3 255.8 L499.7 255.0 L500.9 254.2 L502.0 253.3 L502.8 252.4 L503.5 251.6 L503.9 250.7 L504.2 249.9 L504.2 249.1" fill="none" stroke="#000" stroke-width="2.2" stroke-linejoin="round"/><line x1="372.7" y1="255.2" x2="372.7" y2="285.9" stroke="#000" stroke-width="2.2" stroke-linecap="round"/><line x1="504.2" y1="218.4" x2="504.2" y2="249.1" stroke="#000" stroke-width="2.2" stroke-linecap="round"/><path d="M491.4 228.0 L493.2 227.3 L495.0 226.7 L496.7 225.9 L498.3 225.1 L499.7 224.3 L500.9 223.5 L502.0 222.6 L502.8 221.7 L503.5 220.9 L503.9 220.0 L504.2 219.2 L504.2 218.4 L504.0 217.7 L503.6 217.0 L502.9 216.4 L502.1 215.8 L501.0 215.4 L499.8 215.0 L498.4 214.7 L496.9 214.5 L495.2 214.4 L493.5 214.4 L491.6 214.5 L489.7 214.7 L487.7 215.0 L485.8 215.3 L483.8 215.8 L481.9 216.3 L385.5 245.6 L383.7 246.3 L381.9 246.9 L380.2 247.7 L378.6 248.5 L377.2 249.3 L376.0 250.1 L374.9 251.0 L374.1 251.9 L373.4 252.7 L373.0 253.6 L372.7 254.4 L372.7 255.2 L372.9 255.9 L373.3 256.6 L374.0 257.2 L374.8 257.8 L375.9 258.2 L377.1 258.6 L378.5 258.9 L380.0 259.1 L381.7 259.2 L383.4 259.2 L385.3 259.1 L387.2 258.9 L389.2 258.6 L391.1 258.3 L393.1 257.8 L395.0 257.3Z" fill="#fff" stroke="#000" stroke-width="2.2" stroke-linejoin="round"/>
<path d="M197.8 309.8 L198.0 310.5 L198.4 311.2 L199.0 311.8 L199.9 312.4 L200.9 312.8 L202.1 313.2 L203.5 313.5 L205.1 313.7 L206.7 313.8 L208.5 313.8 L210.3 313.7 L212.3 313.5 L214.2 313.2 L216.2 312.9 L218.2 312.4 L220.1 311.9 L316.4 282.6 L318.3 281.9 L320.1 281.3 L321.8 280.5 L323.3 279.7 L324.7 278.9 L325.9 278.1 L327.0 277.2 L327.9 276.3 L328.5 275.5 L329.0 274.6 L329.2 273.8 L329.2 273.0 L329.2 303.7 L329.2 304.5 L329.0 305.3 L328.5 306.2 L327.9 307.0 L327.0 307.9 L325.9 308.8 L324.7 309.6 L323.3 310.4 L321.8 311.2 L320.1 312.0 L318.3 312.6 L316.4 313.3 L220.1 342.6 L218.2 343.1 L216.2 343.6 L214.2 343.9 L212.3 344.2 L210.3 344.4 L208.5 344.5 L206.7 344.5 L205.1 344.4 L203.5 344.2 L202.1 343.9 L200.9 343.5 L199.9 343.1 L199.0 342.5 L198.4 341.9 L198.0 341.2 L197.8 340.5Z" fill="#f39200" stroke="none"/><path d="M197.8 325.1 L198.0 325.9 L198.4 326.6 L199.0 327.2 L199.9 327.7 L200.9 328.2 L202.1 328.6 L203.5 328.9 L205.1 329.0 L206.7 329.2 L208.5 329.2 L210.3 329.1 L212.3 328.9 L214.2 328.6 L216.2 328.2 L218.2 327.8 L220.1 327.2 L316.4 297.9 L318.3 297.3 L320.1 296.6 L321.8 295.9 L323.3 295.1 L324.7 294.3 L325.9 293.4 L327.0 292.6 L327.9 291.7 L328.5 290.8 L329.0 290.0 L329.2 289.2 L329.2 288.4" fill="none" stroke="#000" stroke-width="2.2" stroke-linejoin="round"/><path d="M197.8 340.5 L198.0 341.2 L198.4 341.9 L199.0 342.5 L199.9 343.1 L200.9 343.5 L202.1 343.9 L203.5 344.2 L205.1 344.4 L206.7 344.5 L208.5 344.5 L210.3 344.4 L212.3 344.2 L214.2 343.9 L216.2 343.6 L218.2 343.1 L220.1 342.6 L316.4 313.3 L318.3 312.6 L320.1 312.0 L321.8 311.2 L323.3 310.4 L324.7 309.6 L325.9 308.8 L327.0 307.9 L327.9 307.0 L328.5 306.2 L329.0 305.3 L329.2 304.5 L329.2 303.7" fill="none" stroke="#000" stroke-width="2.2" stroke-linejoin="round"/><line x1="197.8" y1="309.8" x2="197.8" y2="340.5" stroke="#000" stroke-width="2.2" stroke-linecap="round"/><line x1="329.2" y1="273.0" x2="329.2" y2="303.7" stroke="#000" stroke-width="2.2" stroke-linecap="round"/><path d="M316.4 282.6 L318.3 281.9 L320.1 281.3 L321.8 280.5 L323.3 279.7 L324.7 278.9 L325.9 278.1 L327.0 277.2 L327.9 276.3 L328.5 275.5 L329.0 274.6 L329.2 273.8 L329.2 273.0 L329.0 272.3 L328.6 271.6 L328.0 271.0 L327.1 270.4 L326.1 270.0 L324.9 269.6 L323.5 269.3 L321.9 269.1 L320.3 269.0 L318.5 269.0 L316.7 269.1 L314.7 269.3 L312.8 269.6 L310.8 269.9 L308.8 270.4 L306.9 270.9 L210.6 300.2 L208.7 300.9 L206.9 301.5 L205.2 302.3 L203.7 303.1 L202.3 303.9 L201.1 304.7 L200.0 305.6 L199.1 306.5 L198.5 307.3 L198.0 308.2 L197.8 309.0 L197.8 309.8 L198.0 310.5 L198.4 311.2 L199.0 311.8 L199.9 312.4 L200.9 312.8 L202.1 313.2 L203.5 313.5 L205.1 313.7 L206.7 313.8 L208.5 313.8 L210.3 313.7 L212.3 313.5 L214.2 313.2 L216.2 312.9 L218.2 312.4 L220.1 311.9Z" fill="#fff" stroke="#000" stroke-width="2.2" stroke-linejoin="round"/>
<path d="M466.5 140.7 L467.0 141.6 L491.4 171.4 L492.3 172.2 L493.8 172.8 L495.8 173.2 L498.1 173.4 L500.9 173.4 L503.9 173.1 L507.2 172.7 L510.6 172.1 L514.1 171.3 L517.6 170.3 L520.9 169.2 L524.0 168.0 L526.9 166.7 L529.5 165.4 L531.6 164.0 L533.3 162.7 L534.4 161.4 L535.1 160.2 L535.2 159.1 L535.2 189.8 L535.1 190.9 L534.4 192.1 L533.3 193.4 L531.6 194.7 L529.5 196.1 L526.9 197.4 L524.0 198.7 L520.9 199.9 L517.6 201.0 L514.1 202.0 L510.6 202.8 L507.2 203.4 L503.9 203.8 L500.9 204.1 L498.1 204.1 L495.8 203.9 L493.8 203.5 L492.3 202.9 L491.4 202.1 L467.0 172.3 L466.5 171.4Z" fill="#009a44" stroke="none"/><path d="M466.5 156.0 L467.0 156.9 L491.4 186.7 L492.3 187.5 L493.8 188.1 L495.8 188.5 L498.1 188.7 L500.9 188.7 L503.9 188.5 L507.2 188.1 L510.6 187.4 L514.1 186.6 L517.6 185.7 L520.9 184.6 L524.0 183.4 L526.9 182.1 L529.5 180.7 L531.6 179.4 L533.3 178.1 L534.4 176.8 L535.1 175.6 L535.2 174.5" fill="none" stroke="#000" stroke-width="2.2" stroke-linejoin="round"/><path d="M466.5 171.4 L467.0 172.3 L491.4 202.1 L492.3 202.9 L493.8 203.5 L495.8 203.9 L498.1 204.1 L500.9 204.1 L503.9 203.8 L507.2 203.4 L510.6 202.8 L514.1 202.0 L517.6 201.0 L520.9 199.9 L524.0 198.7 L526.9 197.4 L529.5 196.1 L531.6 194.7 L533.3 193.4 L534.4 192.1 L535.1 190.9 L535.2 189.8" fill="none" stroke="#000" stroke-width="2.2" stroke-linejoin="round"/><line x1="466.5" y1="140.7" x2="466.5" y2="171.4" stroke="#000" stroke-width="2.2" stroke-linecap="round"/><line x1="535.2" y1="159.1" x2="535.2" y2="189.8" stroke="#000" stroke-width="2.2" stroke-linecap="round"/><path d="M491.4 171.4 L492.3 172.2 L493.8 172.8 L495.8 173.2 L498.1 173.4 L500.9 173.4 L503.9 173.1 L507.2 172.7 L510.6 172.1 L514.1 171.3 L517.6 170.3 L520.9 169.2 L524.0 168.0 L526.9 166.7 L529.5 165.4 L531.6 164.0 L533.3 162.7 L534.4 161.4 L535.1 160.2 L535.2 159.1 L534.8 158.2 L510.4 128.4 L509.4 127.6 L507.9 127.0 L505.9 126.6 L503.6 126.4 L500.8 126.4 L497.8 126.7 L494.5 127.1 L491.1 127.7 L487.6 128.5 L484.1 129.5 L480.8 130.6 L477.7 131.8 L474.8 133.1 L472.2 134.4 L470.1 135.8 L468.4 137.1 L467.3 138.4 L466.6 139.6 L466.5 140.7 L467.0 141.6Z" fill="#fff" stroke="#000" stroke-width="2.2" stroke-linejoin="round"/>
<path d="M600.9 168.1 L601.2 169.1 L601.7 169.9 L626.1 199.8 L626.9 200.5 L628.0 201.2 L629.3 201.8 L630.9 202.3 L632.7 202.6 L634.6 202.9 L636.8 203.0 L639.0 202.9 L641.4 202.8 L643.9 202.5 L646.4 202.1 L648.9 201.5 L651.4 200.9 L653.9 200.1 L740.7 171.9 L743.1 171.1 L745.4 170.2 L747.5 169.2 L749.5 168.2 L751.3 167.1 L752.9 165.9 L754.3 164.8 L755.4 163.6 L756.2 162.5 L756.8 161.4 L757.1 160.3 L757.1 159.3 L757.1 190.0 L757.1 191.0 L756.8 192.1 L756.2 193.2 L755.4 194.3 L754.3 195.5 L752.9 196.6 L751.3 197.8 L749.5 198.9 L747.5 199.9 L745.4 200.9 L743.1 201.8 L740.7 202.6 L653.9 230.8 L651.4 231.6 L648.9 232.2 L646.4 232.8 L643.9 233.2 L641.4 233.5 L639.0 233.6 L636.8 233.7 L634.6 233.6 L632.7 233.3 L630.9 233.0 L629.3 232.5 L628.0 231.9 L626.9 231.2 L626.1 230.4 L601.7 200.6 L601.2 199.8 L600.9 198.8Z" fill="#009a44" stroke="none"/><path d="M600.9 183.5 L601.2 184.4 L601.7 185.3 L626.1 215.1 L626.9 215.9 L628.0 216.6 L629.3 217.2 L630.9 217.6 L632.7 218.0 L634.6 218.2 L636.8 218.3 L639.0 218.3 L641.4 218.1 L643.9 217.8 L646.4 217.4 L648.9 216.9 L651.4 216.2 L653.9 215.5 L740.7 187.3 L743.1 186.5 L745.4 185.5 L747.5 184.6 L749.5 183.5 L751.3 182.4 L752.9 181.3 L754.3 180.1 L755.4 179.0 L756.2 177.8 L756.8 176.7 L757.1 175.7 L757.1 174.6" fill="none" stroke="#000" stroke-width="2.2" stroke-linejoin="round"/><path d="M600.9 198.8 L601.2 199.8 L601.7 200.6 L626.1 230.4 L626.9 231.2 L628.0 231.9 L629.3 232.5 L630.9 233.0 L632.7 233.3 L634.6 233.6 L636.8 233.7 L639.0 233.6 L641.4 233.5 L643.9 233.2 L646.4 232.8 L648.9 232.2 L651.4 231.6 L653.9 230.8 L740.7 202.6 L743.1 201.8 L745.4 200.9 L747.5 199.9 L749.5 198.9 L751.3 197.8 L752.9 196.6 L754.3 195.5 L755.4 194.3 L756.2 193.2 L756.8 192.1 L757.1 191.0 L757.1 190.0" fill="none" stroke="#000" stroke-width="2.2" stroke-linejoin="round"/><line x1="600.9" y1="168.1" x2="600.9" y2="198.8" stroke="#000" stroke-width="2.2" stroke-linecap="round"/><line x1="757.1" y1="159.3" x2="757.1" y2="190.0" stroke="#000" stroke-width="2.2" stroke-linecap="round"/><path d="M704.1 127.3 L617.3 155.4 L614.9 156.3 L612.6 157.2 L610.5 158.2 L608.5 159.2 L606.7 160.3 L605.1 161.5 L603.7 162.6 L602.6 163.8 L601.8 164.9 L601.2 166.0 L600.9 167.1 L600.9 168.1 L601.2 169.1 L601.7 169.9 L626.1 199.8 L626.9 200.5 L628.0 201.2 L629.3 201.8 L630.9 202.3 L632.7 202.6 L634.6 202.9 L636.8 203.0 L639.0 202.9 L641.4 202.8 L643.9 202.5 L646.4 202.1 L648.9 201.5 L651.4 200.9 L653.9 200.1 L740.7 171.9 L743.1 171.1 L745.4 170.2 L747.5 169.2 L749.5 168.2 L751.3 167.1 L752.9 165.9 L754.3 164.8 L755.4 163.6 L756.2 162.5 L756.8 161.4 L757.1 160.3 L757.1 159.3 L756.8 158.3 L756.3 157.4 L731.9 127.6 L731.1 126.9 L730.0 126.2 L728.7 125.6 L727.1 125.1 L725.3 124.8 L723.4 124.5 L721.2 124.4 L719.0 124.5 L716.6 124.6 L714.1 124.9 L711.6 125.3 L709.1 125.9 L706.6 126.5Z" fill="#fff" stroke="#000" stroke-width="2.2" stroke-linejoin="round"/>
<path d="M380.6 168.1 L381.0 169.0 L428.1 226.6 L429.1 227.3 L430.6 227.9 L432.5 228.3 L434.9 228.5 L437.6 228.5 L440.7 228.3 L444.0 227.9 L447.4 227.2 L450.9 226.4 L454.3 225.5 L457.6 224.4 L460.8 223.2 L463.7 221.9 L466.2 220.5 L468.3 219.2 L470.0 217.9 L471.2 216.6 L471.8 215.4 L471.9 214.3 L471.9 245.0 L471.8 246.1 L471.2 247.3 L470.0 248.6 L468.3 249.9 L466.2 251.2 L463.7 252.6 L460.8 253.9 L457.6 255.1 L454.3 256.2 L450.9 257.1 L447.4 257.9 L444.0 258.6 L440.7 259.0 L437.6 259.2 L434.9 259.2 L432.5 259.0 L430.6 258.6 L429.1 258.0 L428.1 257.3 L381.0 199.7 L380.6 198.8Z" fill="#009a44" stroke="none"/><path d="M380.6 183.4 L381.0 184.4 L428.1 241.9 L429.1 242.7 L430.6 243.3 L432.5 243.7 L434.9 243.9 L437.6 243.9 L440.7 243.6 L444.0 243.2 L447.4 242.6 L450.9 241.8 L454.3 240.8 L457.6 239.7 L460.8 238.5 L463.7 237.2 L466.2 235.9 L468.3 234.5 L470.0 233.2 L471.2 231.9 L471.8 230.7 L471.9 229.7" fill="none" stroke="#000" stroke-width="2.2" stroke-linejoin="round"/><path d="M380.6 198.8 L381.0 199.7 L428.1 257.3 L429.1 258.0 L430.6 258.6 L432.5 259.0 L434.9 259.2 L437.6 259.2 L440.7 259.0 L444.0 258.6 L447.4 257.9 L450.9 257.1 L454.3 256.2 L457.6 255.1 L460.8 253.9 L463.7 252.6 L466.2 251.2 L468.3 249.9 L470.0 248.6 L471.2 247.3 L471.8 246.1 L471.9 245.0" fill="none" stroke="#000" stroke-width="2.2" stroke-linejoin="round"/><line x1="380.6" y1="168.1" x2="380.6" y2="198.8" stroke="#000" stroke-width="2.2" stroke-linecap="round"/><line x1="471.9" y1="214.3" x2="471.9" y2="245.0" stroke="#000" stroke-width="2.2" stroke-linecap="round"/><path d="M428.1 226.6 L429.1 227.3 L430.6 227.9 L432.5 228.3 L434.9 228.5 L437.6 228.5 L440.7 228.3 L444.0 227.9 L447.4 227.2 L450.9 226.4 L454.3 225.5 L457.6 224.4 L460.8 223.2 L463.7 221.9 L466.2 220.5 L468.3 219.2 L470.0 217.9 L471.2 216.6 L471.8 215.4 L471.9 214.3 L471.5 213.4 L424.4 155.8 L423.4 155.1 L421.9 154.5 L420.0 154.1 L417.6 153.9 L414.9 153.9 L411.8 154.1 L408.5 154.5 L405.1 155.2 L401.6 156.0 L398.2 156.9 L394.9 158.0 L391.7 159.2 L388.8 160.5 L386.3 161.9 L384.2 163.2 L382.5 164.5 L381.3 165.8 L380.7 167.0 L380.6 168.1 L381.0 169.0Z" fill="#fff" stroke="#000" stroke-width="2.2" stroke-linejoin="round"/>
<path d="M229.2 251.5 L229.6 252.4 L254.0 282.2 L255.0 283.0 L256.5 283.6 L258.4 284.0 L260.8 284.2 L263.5 284.2 L266.6 283.9 L269.9 283.5 L273.3 282.9 L276.8 282.1 L280.2 281.1 L283.6 280.0 L286.7 278.8 L289.6 277.5 L292.1 276.2 L294.2 274.8 L295.9 273.5 L297.1 272.2 L297.7 271.0 L297.8 269.9 L297.8 300.6 L297.7 301.7 L297.1 302.9 L295.9 304.2 L294.2 305.5 L292.1 306.9 L289.6 308.2 L286.7 309.5 L283.6 310.7 L280.2 311.8 L276.8 312.8 L273.3 313.6 L269.9 314.2 L266.6 314.6 L263.5 314.9 L260.8 314.9 L258.4 314.7 L256.5 314.3 L255.0 313.7 L254.0 312.9 L229.6 283.1 L229.2 282.2Z" fill="#009a44" stroke="none"/><path d="M229.2 266.8 L229.6 267.8 L254.0 297.6 L255.0 298.3 L256.5 298.9 L258.4 299.3 L260.8 299.5 L263.5 299.5 L266.6 299.3 L269.9 298.9 L273.3 298.2 L276.8 297.4 L280.2 296.5 L283.6 295.4 L286.7 294.2 L289.6 292.9 L292.1 291.5 L294.2 290.2 L295.9 288.9 L297.1 287.6 L297.7 286.4 L297.8 285.3" fill="none" stroke="#000" stroke-width="2.2" stroke-linejoin="round"/><path d="M229.2 282.2 L229.6 283.1 L254.0 312.9 L255.0 313.7 L256.5 314.3 L258.4 314.7 L260.8 314.9 L263.5 314.9 L266.6 314.6 L269.9 314.2 L273.3 313.6 L276.8 312.8 L280.2 311.8 L283.6 310.7 L286.7 309.5 L289.6 308.2 L292.1 306.9 L294.2 305.5 L295.9 304.2 L297.1 302.9 L297.7 301.7 L297.8 300.6" fill="none" stroke="#000" stroke-width="2.2" stroke-linejoin="round"/><line x1="229.2" y1="251.5" x2="229.2" y2="282.2" stroke="#000" stroke-width="2.2" stroke-linecap="round"/><line x1="297.8" y1="269.9" x2="297.8" y2="300.6" stroke="#000" stroke-width="2.2" stroke-linecap="round"/><path d="M254.0 282.2 L255.0 283.0 L256.5 283.6 L258.4 284.0 L260.8 284.2 L263.5 284.2 L266.6 283.9 L269.9 283.5 L273.3 282.9 L276.8 282.1 L280.2 281.1 L283.6 280.0 L286.7 278.8 L289.6 277.5 L292.1 276.2 L294.2 274.8 L295.9 273.5 L297.1 272.2 L297.7 271.0 L297.8 269.9 L297.4 269.0 L273.0 239.2 L272.0 238.4 L270.5 237.8 L268.6 237.4 L266.2 237.2 L263.5 237.2 L260.4 237.5 L257.1 237.9 L253.7 238.5 L250.2 239.3 L246.8 240.3 L243.4 241.4 L240.3 242.6 L237.4 243.9 L234.9 245.2 L232.8 246.6 L231.1 247.9 L229.9 249.2 L229.3 250.4 L229.2 251.5 L229.6 252.4Z" fill="#fff" stroke="#000" stroke-width="2.2" stroke-linejoin="round"/>
<path d="M633.9 107.4 L633.9 107.8 L634.1 108.4 L634.2 108.7 L634.6 109.3 L634.7 109.5 L650.2 128.4 L650.6 129.0 L650.8 129.7 L650.8 160.4 L650.6 159.7 L650.2 159.1 L634.7 140.2 L634.6 140.0 L634.2 139.4 L634.1 139.1 L633.9 138.5 L633.9 138.1Z" fill="#f39200" stroke="none"/><path d="M633.9 122.8 L633.9 123.1 L634.1 123.7 L634.2 124.0 L634.6 124.7 L634.7 124.8 L650.2 143.7 L650.6 144.4 L650.8 145.0" fill="none" stroke="#000" stroke-width="2.2" stroke-linejoin="round"/><path d="M633.9 138.1 L633.9 138.5 L634.1 139.1 L634.2 139.4 L634.6 140.0 L634.7 140.2 L650.2 159.1 L650.6 159.7 L650.8 160.4" fill="none" stroke="#000" stroke-width="2.2" stroke-linejoin="round"/><line x1="633.9" y1="107.4" x2="633.9" y2="138.1" stroke="#000" stroke-width="2.2" stroke-linecap="round"/><line x1="650.8" y1="129.7" x2="650.8" y2="160.4" stroke="#000" stroke-width="2.2" stroke-linecap="round"/><path d="M709.8 135.5 L709.8 134.8 L710.0 134.0 L710.4 133.2 L711.0 132.4 L711.8 131.6 L712.8 130.8 L713.9 130.0 L715.1 129.3 L716.5 128.5 L718.0 127.8 L719.6 127.2 L721.3 126.6 L775.1 109.1 L775.5 109.0 L776.8 108.6 L777.6 108.2 L778.6 107.9 L779.4 107.5 L780.3 107.1 L781.0 106.7 L781.9 106.3 L782.5 105.9 L783.3 105.4 L783.9 105.0 L784.6 104.6 L785.1 104.2 L785.7 103.7 L786.1 103.3 L786.6 102.8 L786.9 102.4 L787.3 101.9 L787.5 101.5 L787.8 101.0 L787.9 100.6 L788.1 100.2 L788.1 99.8 L788.1 99.4 L788.1 130.1 L788.1 130.5 L788.1 130.9 L787.9 131.3 L787.8 131.7 L787.5 132.2 L787.3 132.6 L786.9 133.1 L786.6 133.5 L786.1 134.0 L785.7 134.4 L785.1 134.9 L784.6 135.3 L783.9 135.7 L783.3 136.1 L782.5 136.6 L781.9 137.0 L781.0 137.4 L780.3 137.8 L779.4 138.2 L778.6 138.6 L777.6 138.9 L776.8 139.3 L775.5 139.7 L775.1 139.8 L721.3 157.3 L719.6 157.9 L718.0 158.5 L716.5 159.2 L715.1 160.0 L713.9 160.7 L712.8 161.5 L711.8 162.3 L711.0 163.1 L710.4 163.9 L710.0 164.7 L709.8 165.5 L709.8 166.2Z" fill="#f39200" stroke="none"/><path d="M709.8 150.8 L709.8 150.1 L710.0 149.4 L710.4 148.6 L711.0 147.8 L711.8 147.0 L712.8 146.2 L713.9 145.4 L715.1 144.6 L716.5 143.9 L718.0 143.2 L719.6 142.5 L721.3 142.0 L775.1 124.5 L775.5 124.3 L776.8 123.9 L777.6 123.6 L778.6 123.2 L779.4 122.9 L780.3 122.4 L781.0 122.1 L781.9 121.6 L782.5 121.3 L783.3 120.8 L783.9 120.4 L784.6 119.9 L785.1 119.5 L785.7 119.0 L786.1 118.6 L786.6 118.1 L786.9 117.7 L787.3 117.2 L787.5 116.8 L787.8 116.4 L787.9 116.0 L788.1 115.5 L788.1 115.1 L788.1 114.7" fill="none" stroke="#000" stroke-width="2.2" stroke-linejoin="round"/><path d="M709.8 166.2 L709.8 165.5 L710.0 164.7 L710.4 163.9 L711.0 163.1 L711.8 162.3 L712.8 161.5 L713.9 160.7 L715.1 160.0 L716.5 159.2 L718.0 158.5 L719.6 157.9 L721.3 157.3 L775.1 139.8 L775.5 139.7 L776.8 139.3 L777.6 138.9 L778.6 138.6 L779.4 138.2 L780.3 137.8 L781.0 137.4 L781.9 137.0 L782.5 136.6 L783.3 136.1 L783.9 135.7 L784.6 135.3 L785.1 134.9 L785.7 134.4 L786.1 134.0 L786.6 133.5 L786.9 133.1 L787.3 132.6 L787.5 132.2 L787.8 131.7 L787.9 131.3 L788.1 130.9 L788.1 130.5 L788.1 130.1" fill="none" stroke="#000" stroke-width="2.2" stroke-linejoin="round"/><line x1="709.8" y1="135.5" x2="709.8" y2="166.2" stroke="#000" stroke-width="2.2" stroke-linecap="round"/><line x1="788.1" y1="99.4" x2="788.1" y2="130.1" stroke="#000" stroke-width="2.2" stroke-linecap="round"/><path d="M569.9 166.6 L569.9 167.0 L570.0 167.4 L570.2 167.7 L570.4 168.1 L570.6 168.4 L571.0 168.7 L571.3 169.0 L571.8 169.3 L572.2 169.5 L572.8 169.8 L573.3 169.9 L574.0 170.1 L574.6 170.3 L575.3 170.4 L576.0 170.5 L576.8 170.6 L577.5 170.7 L578.4 170.7 L579.2 170.7 L580.2 170.7 L581.0 170.7 L582.0 170.6 L582.9 170.5 L583.9 170.4 L584.8 170.3 L585.9 170.1 L586.8 170.0 L587.9 169.7 L588.7 169.5 L589.8 169.3 L590.7 169.0 L592.0 168.6 L592.4 168.5 L648.8 150.2 L650.5 149.6 L652.3 149.2 L654.1 148.8 L655.8 148.5 L657.6 148.3 L659.2 148.2 L660.8 148.2 L662.3 148.3 L663.7 148.4 L664.9 148.7 L666.0 149.0 L666.9 149.4 L667.7 149.9 L668.3 150.4 L681.9 167.1 L682.1 167.3 L682.7 167.8 L683.0 168.1 L683.7 168.5 L684.1 168.7 L684.9 169.1 L685.4 169.3 L686.4 169.6 L687.0 169.7 L688.1 169.9 L688.7 170.0 L689.9 170.2 L690.7 170.2 L692.0 170.3 L692.8 170.3 L694.2 170.3 L695.0 170.3 L696.4 170.2 L697.3 170.1 L698.8 169.9 L699.7 169.8 L701.2 169.5 L702.1 169.4 L703.7 169.0 L704.6 168.8 L706.1 168.4 L707.0 168.2 L708.5 167.7 L709.4 167.4 L710.9 166.9 L711.7 166.6 L713.1 166.1 L713.9 165.7 L715.2 165.1 L715.9 164.7 L717.2 164.1 L717.8 163.7 L718.9 163.0 L719.5 162.6 L720.5 161.9 L721.0 161.6 L721.9 160.8 L722.3 160.4 L723.0 159.7 L723.3 159.3 L723.9 158.6 L724.1 158.2 L724.5 157.5 L724.6 157.2 L724.8 156.5 L724.9 156.1 L724.9 155.5 L724.9 186.2 L724.9 186.8 L724.8 187.2 L724.6 187.9 L724.5 188.2 L724.1 188.9 L723.9 189.3 L723.3 190.0 L723.0 190.4 L722.3 191.1 L721.9 191.5 L721.0 192.3 L720.5 192.6 L719.5 193.3 L718.9 193.7 L717.8 194.4 L717.2 194.8 L715.9 195.4 L715.2 195.8 L713.9 196.4 L713.1 196.8 L711.7 197.3 L710.9 197.6 L709.4 198.1 L708.5 198.4 L707.0 198.9 L706.1 199.1 L704.6 199.5 L703.7 199.7 L702.1 200.1 L701.2 200.2 L699.7 200.5 L698.8 200.6 L697.3 200.8 L696.4 200.9 L695.0 201.0 L694.2 201.0 L692.8 201.0 L692.0 201.0 L690.7 200.9 L689.9 200.9 L688.7 200.7 L688.1 200.6 L687.0 200.4 L686.4 200.3 L685.4 200.0 L684.9 199.8 L684.1 199.4 L683.7 199.2 L683.0 198.8 L682.7 198.5 L682.1 198.0 L681.9 197.8 L668.3 181.1 L667.7 180.6 L666.9 180.1 L666.0 179.7 L664.9 179.4 L663.7 179.1 L662.3 179.0 L660.8 178.9 L659.2 178.9 L657.6 179.0 L655.8 179.2 L654.1 179.5 L652.3 179.9 L650.5 180.3 L648.8 180.9 L592.4 199.2 L592.0 199.3 L590.7 199.7 L589.8 200.0 L588.7 200.2 L587.9 200.4 L586.8 200.7 L585.9 200.8 L584.8 201.0 L583.9 201.1 L582.9 201.2 L582.0 201.3 L581.0 201.4 L580.2 201.4 L579.2 201.4 L578.4 201.4 L577.5 201.4 L576.8 201.3 L576.0 201.2 L575.3 201.1 L574.6 201.0 L574.0 200.8 L573.3 200.6 L572.8 200.5 L572.2 200.2 L571.8 200.0 L571.3 199.7 L571.0 199.4 L570.6 199.1 L570.4 198.8 L570.2 198.4 L570.0 198.1 L569.9 197.7 L569.9 197.3Z" fill="#f39200" stroke="none"/><path d="M569.9 182.0 L569.9 182.3 L570.0 182.7 L570.2 183.1 L570.4 183.4 L570.6 183.7 L571.0 184.1 L571.3 184.3 L571.8 184.6 L572.2 184.9 L572.8 185.1 L573.3 185.3 L574.0 185.5 L574.6 185.6 L575.3 185.8 L576.0 185.9 L576.8 186.0 L577.5 186.0 L578.4 186.1 L579.2 186.1 L580.2 186.1 L581.0 186.0 L582.0 186.0 L582.9 185.9 L583.9 185.8 L584.8 185.7 L585.9 185.5 L586.8 185.3 L587.9 185.1 L588.7 184.9 L589.8 184.6 L590.7 184.4 L592.0 184.0 L592.4 183.8 L648.8 165.5 L650.5 165.0 L652.3 164.5 L654.1 164.2 L655.8 163.9 L657.6 163.7 L659.2 163.6 L660.8 163.5 L662.3 163.6 L663.7 163.8 L664.9 164.0 L666.0 164.3 L666.9 164.8 L667.7 165.2 L668.3 165.8 L681.9 182.5 L682.1 182.6 L682.7 183.2 L683.0 183.4 L683.7 183.9 L684.1 184.1 L684.9 184.5 L685.4 184.6 L686.4 184.9 L687.0 185.1 L688.1 185.3 L688.7 185.4 L689.9 185.5 L690.7 185.6 L692.0 185.6 L692.8 185.7 L694.2 185.6 L695.0 185.6 L696.4 185.5 L697.3 185.4 L698.8 185.2 L699.7 185.1 L701.2 184.9 L702.1 184.7 L703.7 184.4 L704.6 184.2 L706.1 183.8 L707.0 183.5 L708.5 183.1 L709.4 182.8 L710.9 182.3 L711.7 182.0 L713.1 181.4 L713.9 181.1 L715.2 180.5 L715.9 180.1 L717.2 179.4 L717.8 179.1 L718.9 178.4 L719.5 178.0 L720.5 177.3 L721.0 176.9 L721.9 176.2 L722.3 175.8 L723.0 175.1 L723.3 174.7 L723.9 174.0 L724.1 173.6 L724.5 172.9 L724.6 172.5 L724.8 171.8 L724.9 171.5 L724.9 170.8" fill="none" stroke="#000" stroke-width="2.2" stroke-linejoin="round"/><path d="M569.9 197.3 L569.9 197.7 L570.0 198.1 L570.2 198.4 L570.4 198.8 L570.6 199.1 L571.0 199.4 L571.3 199.7 L571.8 200.0 L572.2 200.2 L572.8 200.5 L573.3 200.6 L574.0 200.8 L574.6 201.0 L575.3 201.1 L576.0 201.2 L576.8 201.3 L577.5 201.4 L578.4 201.4 L579.2 201.4 L580.2 201.4 L581.0 201.4 L582.0 201.3 L582.9 201.2 L583.9 201.1 L584.8 201.0 L585.9 200.8 L586.8 200.7 L587.9 200.4 L588.7 200.2 L589.8 200.0 L590.7 199.7 L592.0 199.3 L592.4 199.2 L648.8 180.9 L650.5 180.3 L652.3 179.9 L654.1 179.5 L655.8 179.2 L657.6 179.0 L659.2 178.9 L660.8 178.9 L662.3 179.0 L663.7 179.1 L664.9 179.4 L666.0 179.7 L666.9 180.1 L667.7 180.6 L668.3 181.1 L681.9 197.8 L682.1 198.0 L682.7 198.5 L683.0 198.8 L683.7 199.2 L684.1 199.4 L684.9 199.8 L685.4 200.0 L686.4 200.3 L687.0 200.4 L688.1 200.6 L688.7 200.7 L689.9 200.9 L690.7 200.9 L692.0 201.0 L692.8 201.0 L694.2 201.0 L695.0 201.0 L696.4 200.9 L697.3 200.8 L698.8 200.6 L699.7 200.5 L701.2 200.2 L702.1 200.1 L703.7 199.7 L704.6 199.5 L706.1 199.1 L707.0 198.9 L708.5 198.4 L709.4 198.1 L710.9 197.6 L711.7 197.3 L713.1 196.8 L713.9 196.4 L715.2 195.8 L715.9 195.4 L717.2 194.8 L717.8 194.4 L718.9 193.7 L719.5 193.3 L720.5 192.6 L721.0 192.3 L721.9 191.5 L722.3 191.1 L723.0 190.4 L723.3 190.0 L723.9 189.3 L724.1 188.9 L724.5 188.2 L724.6 187.9 L724.8 187.2 L724.9 186.8 L724.9 186.2" fill="none" stroke="#000" stroke-width="2.2" stroke-linejoin="round"/><line x1="569.9" y1="166.6" x2="569.9" y2="197.3" stroke="#000" stroke-width="2.2" stroke-linecap="round"/><line x1="724.9" y1="155.5" x2="724.9" y2="186.2" stroke="#000" stroke-width="2.2" stroke-linecap="round"/><path d="M682.7 167.8 L683.0 168.1 L683.7 168.5 L684.1 168.7 L684.9 169.1 L685.4 169.3 L686.4 169.6 L687.0 169.7 L688.1 169.9 L688.7 170.0 L689.9 170.2 L690.7 170.2 L692.0 170.3 L692.8 170.3 L694.2 170.3 L695.0 170.3 L696.4 170.2 L697.3 170.1 L698.8 169.9 L699.7 169.8 L701.2 169.5 L702.1 169.4 L703.7 169.0 L704.6 168.8 L706.1 168.4 L707.0 168.2 L708.5 167.7 L709.4 167.4 L710.9 166.9 L711.7 166.6 L713.1 166.1 L713.9 165.7 L715.2 165.1 L715.9 164.7 L717.2 164.1 L717.8 163.7 L718.9 163.0 L719.5 162.6 L720.5 161.9 L721.0 161.6 L721.9 160.8 L722.3 160.4 L723.0 159.7 L723.3 159.3 L723.9 158.6 L724.1 158.2 L724.5 157.5 L724.6 157.2 L724.8 156.5 L724.9 156.1 L724.9 155.5 L724.8 155.1 L724.7 154.5 L724.5 154.2 L724.2 153.6 L724.0 153.5 L710.4 136.8 L710.0 136.1 L709.8 135.5 L709.8 134.8 L710.0 134.0 L710.4 133.2 L711.0 132.4 L711.8 131.6 L712.8 130.8 L713.9 130.0 L715.1 129.3 L716.5 128.5 L718.0 127.8 L719.6 127.2 L721.3 126.6 L775.1 109.1 L775.5 109.0 L776.8 108.6 L777.6 108.2 L778.6 107.9 L779.4 107.5 L780.3 107.1 L781.0 106.7 L781.9 106.3 L782.5 105.9 L783.3 105.4 L783.9 105.0 L784.6 104.6 L785.1 104.2 L785.7 103.7 L786.1 103.3 L786.6 102.8 L786.9 102.4 L787.3 101.9 L787.5 101.5 L787.8 101.0 L787.9 100.6 L788.1 100.2 L788.1 99.8 L788.1 99.4 L788.1 99.0 L788.0 98.6 L787.8 98.3 L787.6 97.9 L787.4 97.6 L787.0 97.3 L786.7 97.0 L786.2 96.7 L785.8 96.5 L785.2 96.2 L784.7 96.1 L784.0 95.9 L783.4 95.7 L782.7 95.6 L782.0 95.5 L781.2 95.4 L780.5 95.3 L779.6 95.3 L778.8 95.3 L777.8 95.3 L777.0 95.3 L776.0 95.4 L775.1 95.5 L774.1 95.6 L773.2 95.7 L772.1 95.9 L771.2 96.0 L770.1 96.3 L769.3 96.5 L768.2 96.7 L767.3 97.0 L766.0 97.4 L765.6 97.5 L711.8 115.0 L710.1 115.5 L708.3 116.0 L706.5 116.3 L704.8 116.6 L703.0 116.8 L701.4 116.9 L699.8 117.0 L698.3 116.9 L696.9 116.7 L695.7 116.5 L694.6 116.2 L693.7 115.7 L692.9 115.3 L692.3 114.7 L676.8 95.8 L676.7 95.6 L676.1 95.1 L675.8 94.8 L675.1 94.4 L674.7 94.2 L673.9 93.8 L673.4 93.6 L672.4 93.3 L671.8 93.2 L670.7 93.0 L670.0 92.9 L668.8 92.7 L668.1 92.7 L666.8 92.6 L666.0 92.6 L664.6 92.6 L663.8 92.7 L662.3 92.8 L661.5 92.8 L660.0 93.0 L659.1 93.1 L657.5 93.4 L656.6 93.6 L655.1 93.9 L654.2 94.1 L652.6 94.5 L651.8 94.7 L650.2 95.2 L649.4 95.5 L647.9 96.0 L647.1 96.3 L645.7 96.9 L644.9 97.2 L643.6 97.8 L642.8 98.2 L641.6 98.8 L640.9 99.2 L639.8 99.9 L639.2 100.3 L638.2 101.0 L637.7 101.4 L636.9 102.1 L636.5 102.5 L635.8 103.2 L635.4 103.6 L634.9 104.3 L634.6 104.7 L634.3 105.4 L634.1 105.8 L633.9 106.4 L633.9 106.8 L633.9 107.4 L633.9 107.8 L634.1 108.4 L634.2 108.7 L634.6 109.3 L634.7 109.5 L650.2 128.4 L650.6 129.0 L650.8 129.7 L650.8 130.4 L650.6 131.1 L650.2 131.9 L649.6 132.7 L648.8 133.5 L647.8 134.3 L646.7 135.1 L645.5 135.9 L644.1 136.6 L642.6 137.3 L641.0 138.0 L639.3 138.5 L582.9 156.9 L582.5 157.0 L581.2 157.4 L580.4 157.8 L579.4 158.1 L578.6 158.5 L577.7 158.9 L577.0 159.3 L576.1 159.7 L575.5 160.1 L574.7 160.6 L574.1 161.0 L573.4 161.4 L572.9 161.8 L572.3 162.3 L571.9 162.7 L571.4 163.2 L571.1 163.6 L570.7 164.1 L570.5 164.5 L570.2 165.0 L570.1 165.4 L569.9 165.8 L569.9 166.2 L569.9 166.6 L569.9 167.0 L570.0 167.4 L570.2 167.7 L570.4 168.1 L570.6 168.4 L571.0 168.7 L571.3 169.0 L571.8 169.3 L572.2 169.5 L572.8 169.8 L573.3 169.9 L574.0 170.1 L574.6 170.3 L575.3 170.4 L576.0 170.5 L576.8 170.6 L577.5 170.7 L578.4 170.7 L579.2 170.7 L580.2 170.7 L581.0 170.7 L582.0 170.6 L582.9 170.5 L583.9 170.4 L584.8 170.3 L585.9 170.1 L586.8 170.0 L587.9 169.7 L588.7 169.5 L589.8 169.3 L590.7 169.0 L592.0 168.6 L592.4 168.5 L648.8 150.2 L650.5 149.6 L652.3 149.2 L654.1 148.8 L655.8 148.5 L657.6 148.3 L659.2 148.2 L660.8 148.2 L662.3 148.3 L663.7 148.4 L664.9 148.7 L666.0 149.0 L666.9 149.4 L667.7 149.9 L668.3 150.4 L681.9 167.1 L682.1 167.3Z" fill="#fff" stroke="#000" stroke-width="2.2" stroke-linejoin="round"/>
<path d="M348.3 164.0 L348.5 164.7 L348.9 165.4 L349.6 166.0 L350.4 166.6 L351.5 167.0 L352.7 167.4 L354.1 167.7 L355.6 167.9 L357.3 168.0 L359.0 168.0 L360.9 167.9 L362.8 167.7 L364.8 167.4 L366.7 167.1 L368.7 166.6 L370.6 166.1 L553.8 110.4 L555.6 109.7 L557.4 109.1 L559.1 108.3 L560.7 107.5 L562.1 106.7 L563.3 105.9 L564.4 105.0 L565.2 104.1 L565.9 103.3 L566.3 102.4 L566.6 101.6 L566.6 100.8 L566.6 131.5 L566.6 132.3 L566.3 133.1 L565.9 134.0 L565.2 134.8 L564.4 135.7 L563.3 136.6 L562.1 137.4 L560.7 138.2 L559.1 139.0 L557.4 139.8 L555.6 140.4 L553.8 141.1 L370.6 196.8 L368.7 197.3 L366.7 197.8 L364.8 198.1 L362.8 198.4 L360.9 198.6 L359.0 198.7 L357.3 198.7 L355.6 198.6 L354.1 198.4 L352.7 198.1 L351.5 197.7 L350.4 197.3 L349.6 196.7 L348.9 196.1 L348.5 195.4 L348.3 194.7Z" fill="#f39200" stroke="none"/><path d="M348.3 179.3 L348.5 180.1 L348.9 180.8 L349.6 181.4 L350.4 181.9 L351.5 182.4 L352.7 182.8 L354.1 183.1 L355.6 183.2 L357.3 183.4 L359.0 183.4 L360.9 183.3 L362.8 183.1 L364.8 182.8 L366.7 182.4 L368.7 182.0 L370.6 181.4 L553.8 125.7 L555.6 125.1 L557.4 124.4 L559.1 123.7 L560.7 122.9 L562.1 122.1 L563.3 121.2 L564.4 120.4 L565.2 119.5 L565.9 118.6 L566.3 117.8 L566.6 117.0 L566.6 116.2" fill="none" stroke="#000" stroke-width="2.2" stroke-linejoin="round"/><path d="M348.3 194.7 L348.5 195.4 L348.9 196.1 L349.6 196.7 L350.4 197.3 L351.5 197.7 L352.7 198.1 L354.1 198.4 L355.6 198.6 L357.3 198.7 L359.0 198.7 L360.9 198.6 L362.8 198.4 L364.8 198.1 L366.7 197.8 L368.7 197.3 L370.6 196.8 L553.8 141.1 L555.6 140.4 L557.4 139.8 L559.1 139.0 L560.7 138.2 L562.1 137.4 L563.3 136.6 L564.4 135.7 L565.2 134.8 L565.9 134.0 L566.3 133.1 L566.6 132.3 L566.6 131.5" fill="none" stroke="#000" stroke-width="2.2" stroke-linejoin="round"/><line x1="348.3" y1="164.0" x2="348.3" y2="194.7" stroke="#000" stroke-width="2.2" stroke-linecap="round"/><line x1="566.6" y1="100.8" x2="566.6" y2="131.5" stroke="#000" stroke-width="2.2" stroke-linecap="round"/><path d="M553.8 110.4 L555.6 109.7 L557.4 109.1 L559.1 108.3 L560.7 107.5 L562.1 106.7 L563.3 105.9 L564.4 105.0 L565.2 104.1 L565.9 103.3 L566.3 102.4 L566.6 101.6 L566.6 100.8 L566.4 100.1 L565.9 99.4 L565.3 98.8 L564.5 98.2 L563.4 97.8 L562.2 97.4 L560.8 97.1 L559.3 96.9 L557.6 96.8 L555.9 96.8 L554.0 96.9 L552.1 97.1 L550.1 97.4 L548.2 97.7 L546.2 98.2 L544.3 98.7 L361.1 154.4 L359.3 155.1 L357.5 155.7 L355.8 156.5 L354.2 157.3 L352.8 158.1 L351.6 158.9 L350.5 159.8 L349.7 160.7 L349.0 161.5 L348.6 162.4 L348.3 163.2 L348.3 164.0 L348.5 164.7 L348.9 165.4 L349.6 166.0 L350.4 166.6 L351.5 167.0 L352.7 167.4 L354.1 167.7 L355.6 167.9 L357.3 168.0 L359.0 168.0 L360.9 167.9 L362.8 167.7 L364.8 167.4 L366.7 167.1 L368.7 166.6 L370.6 166.1Z" fill="#fff" stroke="#000" stroke-width="2.2" stroke-linejoin="round"/>
<path d="M372.7 193.8 L372.9 194.5 L373.3 195.2 L374.0 195.8 L374.8 196.4 L375.9 196.8 L377.1 197.2 L378.5 197.5 L380.0 197.7 L381.7 197.8 L383.4 197.8 L385.3 197.7 L387.2 197.5 L389.2 197.2 L391.1 196.9 L393.1 196.4 L395.0 195.9 L491.4 166.6 L493.2 165.9 L495.0 165.3 L496.7 164.5 L498.3 163.7 L499.7 162.9 L500.9 162.1 L502.0 161.2 L502.8 160.3 L503.5 159.5 L503.9 158.6 L504.2 157.8 L504.2 157.0 L504.2 187.7 L504.2 188.5 L503.9 189.3 L503.5 190.2 L502.8 191.0 L502.0 191.9 L500.9 192.8 L499.7 193.6 L498.3 194.4 L496.7 195.2 L495.0 196.0 L493.2 196.6 L491.4 197.3 L395.0 226.6 L393.1 227.1 L391.1 227.6 L389.2 227.9 L387.2 228.2 L385.3 228.4 L383.4 228.5 L381.7 228.5 L380.0 228.4 L378.5 228.2 L377.1 227.9 L375.9 227.5 L374.8 227.1 L374.0 226.5 L373.3 225.9 L372.9 225.2 L372.7 224.5Z" fill="#f39200" stroke="none"/><path d="M372.7 209.1 L372.9 209.9 L373.3 210.5 L374.0 211.2 L374.8 211.7 L375.9 212.2 L377.1 212.6 L378.5 212.9 L380.0 213.0 L381.7 213.2 L383.4 213.2 L385.3 213.1 L387.2 212.9 L389.2 212.6 L391.1 212.2 L393.1 211.8 L395.0 211.2 L491.4 181.9 L493.2 181.3 L495.0 180.6 L496.7 179.9 L498.3 179.1 L499.7 178.3 L500.9 177.4 L502.0 176.6 L502.8 175.7 L503.5 174.8 L503.9 174.0 L504.2 173.2 L504.2 172.4" fill="none" stroke="#000" stroke-width="2.2" stroke-linejoin="round"/><path d="M372.7 224.5 L372.9 225.2 L373.3 225.9 L374.0 226.5 L374.8 227.1 L375.9 227.5 L377.1 227.9 L378.5 228.2 L380.0 228.4 L381.7 228.5 L383.4 228.5 L385.3 228.4 L387.2 228.2 L389.2 227.9 L391.1 227.6 L393.1 227.1 L395.0 226.6 L491.4 197.3 L493.2 196.6 L495.0 196.0 L496.7 195.2 L498.3 194.4 L499.7 193.6 L500.9 192.8 L502.0 191.9 L502.8 191.0 L503.5 190.2 L503.9 189.3 L504.2 188.5 L504.2 187.7" fill="none" stroke="#000" stroke-width="2.2" stroke-linejoin="round"/><line x1="372.7" y1="193.8" x2="372.7" y2="224.5" stroke="#000" stroke-width="2.2" stroke-linecap="round"/><line x1="504.2" y1="157.0" x2="504.2" y2="187.7" stroke="#000" stroke-width="2.2" stroke-linecap="round"/><path d="M491.4 166.6 L493.2 165.9 L495.0 165.3 L496.7 164.5 L498.3 163.7 L499.7 162.9 L500.9 162.1 L502.0 161.2 L502.8 160.3 L503.5 159.5 L503.9 158.6 L504.2 157.8 L504.2 157.0 L504.0 156.3 L503.6 155.6 L502.9 155.0 L502.1 154.4 L501.0 154.0 L499.8 153.6 L498.4 153.3 L496.9 153.1 L495.2 153.0 L493.5 153.0 L491.6 153.1 L489.7 153.3 L487.7 153.6 L485.8 153.9 L483.8 154.4 L481.9 154.9 L385.5 184.2 L383.7 184.9 L381.9 185.5 L380.2 186.3 L378.6 187.1 L377.2 187.9 L376.0 188.7 L374.9 189.6 L374.1 190.5 L373.4 191.3 L373.0 192.2 L372.7 193.0 L372.7 193.8 L372.9 194.5 L373.3 195.2 L374.0 195.8 L374.8 196.4 L375.9 196.8 L377.1 197.2 L378.5 197.5 L380.0 197.7 L381.7 197.8 L383.4 197.8 L385.3 197.7 L387.2 197.5 L389.2 197.2 L391.1 196.9 L393.1 196.4 L395.0 195.9Z" fill="#fff" stroke="#000" stroke-width="2.2" stroke-linejoin="round"/>
<path d="M197.8 248.4 L198.0 249.1 L198.4 249.8 L199.0 250.4 L199.9 251.0 L200.9 251.4 L202.1 251.8 L203.5 252.1 L205.1 252.3 L206.7 252.4 L208.5 252.4 L210.3 252.3 L212.3 252.1 L214.2 251.8 L216.2 251.5 L218.2 251.0 L220.1 250.5 L316.4 221.2 L318.3 220.5 L320.1 219.9 L321.8 219.1 L323.3 218.3 L324.7 217.5 L325.9 216.7 L327.0 215.8 L327.9 214.9 L328.5 214.1 L329.0 213.2 L329.2 212.4 L329.2 211.6 L329.2 242.3 L329.2 243.1 L329.0 243.9 L328.5 244.8 L327.9 245.6 L327.0 246.5 L325.9 247.4 L324.7 248.2 L323.3 249.0 L321.8 249.8 L320.1 250.6 L318.3 251.2 L316.4 251.9 L220.1 281.2 L218.2 281.7 L216.2 282.2 L214.2 282.5 L212.3 282.8 L210.3 283.0 L208.5 283.1 L206.7 283.1 L205.1 283.0 L203.5 282.8 L202.1 282.5 L200.9 282.1 L199.9 281.7 L199.0 281.1 L198.4 280.5 L198.0 279.8 L197.8 279.1Z" fill="#f39200" stroke="none"/><path d="M197.8 263.7 L198.0 264.5 L198.4 265.2 L199.0 265.8 L199.9 266.3 L200.9 266.8 L202.1 267.2 L203.5 267.5 L205.1 267.6 L206.7 267.8 L208.5 267.8 L210.3 267.7 L212.3 267.5 L214.2 267.2 L216.2 266.8 L218.2 266.4 L220.1 265.8 L316.4 236.5 L318.3 235.9 L320.1 235.2 L321.8 234.5 L323.3 233.7 L324.7 232.9 L325.9 232.0 L327.0 231.2 L327.9 230.3 L328.5 229.4 L329.0 228.6 L329.2 227.8 L329.2 227.0" fill="none" stroke="#000" stroke-width="2.2" stroke-linejoin="round"/><path d="M197.8 279.1 L198.0 279.8 L198.4 280.5 L199.0 281.1 L199.9 281.7 L200.9 282.1 L202.1 282.5 L203.5 282.8 L205.1 283.0 L206.7 283.1 L208.5 283.1 L210.3 283.0 L212.3 282.8 L214.2 282.5 L216.2 282.2 L218.2 281.7 L220.1 281.2 L316.4 251.9 L318.3 251.2 L320.1 250.6 L321.8 249.8 L323.3 249.0 L324.7 248.2 L325.9 247.4 L327.0 246.5 L327.9 245.6 L328.5 244.8 L329.0 243.9 L329.2 243.1 L329.2 242.3" fill="none" stroke="#000" stroke-width="2.2" stroke-linejoin="round"/><line x1="197.8" y1="248.4" x2="197.8" y2="279.1" stroke="#000" stroke-width="2.2" stroke-linecap="round"/><line x1="329.2" y1="211.6" x2="329.2" y2="242.3" stroke="#000" stroke-width="2.2" stroke-linecap="round"/><path d="M316.4 221.2 L318.3 220.5 L320.1 219.9 L321.8 219.1 L323.3 218.3 L324.7 217.5 L325.9 216.7 L327.0 215.8 L327.9 214.9 L328.5 214.1 L329.0 213.2 L329.2 212.4 L329.2 211.6 L329.0 210.9 L328.6 210.2 L328.0 209.6 L327.1 209.0 L326.1 208.6 L324.9 208.2 L323.5 207.9 L321.9 207.7 L320.3 207.6 L318.5 207.6 L316.7 207.7 L314.7 207.9 L312.8 208.2 L310.8 208.5 L308.8 209.0 L306.9 209.5 L210.6 238.8 L208.7 239.5 L206.9 240.1 L205.2 240.9 L203.7 241.7 L202.3 242.5 L201.1 243.3 L200.0 244.2 L199.1 245.1 L198.5 245.9 L198.0 246.8 L197.8 247.6 L197.8 248.4 L198.0 249.1 L198.4 249.8 L199.0 250.4 L199.9 251.0 L200.9 251.4 L202.1 251.8 L203.5 252.1 L205.1 252.3 L206.7 252.4 L208.5 252.4 L210.3 252.3 L212.3 252.1 L214.2 251.8 L216.2 251.5 L218.2 251.0 L220.1 250.5Z" fill="#fff" stroke="#000" stroke-width="2.2" stroke-linejoin="round"/>
<path d="M466.5 79.3 L467.0 80.2 L491.4 110.0 L492.3 110.8 L493.8 111.4 L495.8 111.8 L498.1 112.0 L500.9 112.0 L503.9 111.7 L507.2 111.3 L510.6 110.7 L514.1 109.9 L517.6 108.9 L520.9 107.8 L524.0 106.6 L526.9 105.3 L529.5 104.0 L531.6 102.6 L533.3 101.3 L534.4 100.0 L535.1 98.8 L535.2 97.7 L535.2 128.4 L535.1 129.5 L534.4 130.7 L533.3 132.0 L531.6 133.3 L529.5 134.7 L526.9 136.0 L524.0 137.3 L520.9 138.5 L517.6 139.6 L514.1 140.6 L510.6 141.4 L507.2 142.0 L503.9 142.4 L500.9 142.7 L498.1 142.7 L495.8 142.5 L493.8 142.1 L492.3 141.5 L491.4 140.7 L467.0 110.9 L466.5 110.0Z" fill="#009a44" stroke="none"/><path d="M466.5 94.6 L467.0 95.5 L491.4 125.3 L492.3 126.1 L493.8 126.7 L495.8 127.1 L498.1 127.3 L500.9 127.3 L503.9 127.1 L507.2 126.7 L510.6 126.0 L514.1 125.2 L517.6 124.3 L520.9 123.2 L524.0 122.0 L526.9 120.7 L529.5 119.3 L531.6 118.0 L533.3 116.7 L534.4 115.4 L535.1 114.2 L535.2 113.1" fill="none" stroke="#000" stroke-width="2.2" stroke-linejoin="round"/><path d="M466.5 110.0 L467.0 110.9 L491.4 140.7 L492.3 141.5 L493.8 142.1 L495.8 142.5 L498.1 142.7 L500.9 142.7 L503.9 142.4 L507.2 142.0 L510.6 141.4 L514.1 140.6 L517.6 139.6 L520.9 138.5 L524.0 137.3 L526.9 136.0 L529.5 134.7 L531.6 133.3 L533.3 132.0 L534.4 130.7 L535.1 129.5 L535.2 128.4" fill="none" stroke="#000" stroke-width="2.2" stroke-linejoin="round"/><line x1="466.5" y1="79.3" x2="466.5" y2="110.0" stroke="#000" stroke-width="2.2" stroke-linecap="round"/><line x1="535.2" y1="97.7" x2="535.2" y2="128.4" stroke="#000" stroke-width="2.2" stroke-linecap="round"/><path d="M491.4 110.0 L492.3 110.8 L493.8 111.4 L495.8 111.8 L498.1 112.0 L500.9 112.0 L503.9 111.7 L507.2 111.3 L510.6 110.7 L514.1 109.9 L517.6 108.9 L520.9 107.8 L524.0 106.6 L526.9 105.3 L529.5 104.0 L531.6 102.6 L533.3 101.3 L534.4 100.0 L535.1 98.8 L535.2 97.7 L534.8 96.8 L510.4 67.0 L509.4 66.2 L507.9 65.6 L505.9 65.2 L503.6 65.0 L500.8 65.0 L497.8 65.3 L494.5 65.7 L491.1 66.3 L487.6 67.1 L484.1 68.1 L480.8 69.2 L477.7 70.4 L474.8 71.7 L472.2 73.0 L470.1 74.4 L468.4 75.7 L467.3 77.0 L466.6 78.2 L466.5 79.3 L467.0 80.2Z" fill="#fff" stroke="#000" stroke-width="2.2" stroke-linejoin="round"/>
<path d="M600.9 106.7 L601.2 107.7 L601.7 108.6 L626.1 138.4 L626.9 139.1 L628.0 139.8 L629.3 140.4 L630.9 140.9 L632.7 141.2 L634.6 141.5 L636.8 141.6 L639.0 141.5 L641.4 141.4 L643.9 141.1 L646.4 140.7 L648.9 140.1 L651.4 139.5 L653.9 138.8 L740.7 110.6 L743.1 109.7 L745.4 108.8 L747.5 107.8 L749.5 106.8 L751.3 105.7 L752.9 104.5 L754.3 103.4 L755.4 102.2 L756.2 101.1 L756.8 100.0 L757.1 98.9 L757.1 97.9 L757.1 128.6 L757.1 129.6 L756.8 130.7 L756.2 131.8 L755.4 132.9 L754.3 134.1 L752.9 135.2 L751.3 136.4 L749.5 137.5 L747.5 138.5 L745.4 139.5 L743.1 140.4 L740.7 141.2 L653.9 169.4 L651.4 170.2 L648.9 170.8 L646.4 171.4 L643.9 171.8 L641.4 172.1 L639.0 172.2 L636.8 172.3 L634.6 172.2 L632.7 171.9 L630.9 171.6 L629.3 171.1 L628.0 170.5 L626.9 169.8 L626.1 169.1 L601.7 139.2 L601.2 138.4 L600.9 137.4Z" fill="#009a44" stroke="none"/><path d="M600.9 122.1 L601.2 123.0 L601.7 123.9 L626.1 153.7 L626.9 154.5 L628.0 155.2 L629.3 155.8 L630.9 156.2 L632.7 156.6 L634.6 156.8 L636.8 156.9 L639.0 156.9 L641.4 156.7 L643.9 156.4 L646.4 156.0 L648.9 155.5 L651.4 154.8 L653.9 154.1 L740.7 125.9 L743.1 125.1 L745.4 124.1 L747.5 123.2 L749.5 122.1 L751.3 121.0 L752.9 119.9 L754.3 118.7 L755.4 117.6 L756.2 116.4 L756.8 115.3 L757.1 114.3 L757.1 113.2" fill="none" stroke="#000" stroke-width="2.2" stroke-linejoin="round"/><path d="M600.9 137.4 L601.2 138.4 L601.7 139.2 L626.1 169.1 L626.9 169.8 L628.0 170.5 L629.3 171.1 L630.9 171.6 L632.7 171.9 L634.6 172.2 L636.8 172.3 L639.0 172.2 L641.4 172.1 L643.9 171.8 L646.4 171.4 L648.9 170.8 L651.4 170.2 L653.9 169.4 L740.7 141.2 L743.1 140.4 L745.4 139.5 L747.5 138.5 L749.5 137.5 L751.3 136.4 L752.9 135.2 L754.3 134.1 L755.4 132.9 L756.2 131.8 L756.8 130.7 L757.1 129.6 L757.1 128.6" fill="none" stroke="#000" stroke-width="2.2" stroke-linejoin="round"/><line x1="600.9" y1="106.7" x2="600.9" y2="137.4" stroke="#000" stroke-width="2.2" stroke-linecap="round"/><line x1="757.1" y1="97.9" x2="757.1" y2="128.6" stroke="#000" stroke-width="2.2" stroke-linecap="round"/><path d="M704.1 65.9 L617.3 94.1 L614.9 94.9 L612.6 95.8 L610.5 96.8 L608.5 97.8 L606.7 98.9 L605.1 100.1 L603.7 101.2 L602.6 102.4 L601.8 103.5 L601.2 104.6 L600.9 105.7 L600.9 106.7 L601.2 107.7 L601.7 108.6 L626.1 138.4 L626.9 139.1 L628.0 139.8 L629.3 140.4 L630.9 140.9 L632.7 141.2 L634.6 141.5 L636.8 141.6 L639.0 141.5 L641.4 141.4 L643.9 141.1 L646.4 140.7 L648.9 140.1 L651.4 139.5 L653.9 138.8 L740.7 110.6 L743.1 109.7 L745.4 108.8 L747.5 107.8 L749.5 106.8 L751.3 105.7 L752.9 104.5 L754.3 103.4 L755.4 102.2 L756.2 101.1 L756.8 100.0 L757.1 98.9 L757.1 97.9 L756.8 96.9 L756.3 96.1 L731.9 66.2 L731.1 65.5 L730.0 64.8 L728.7 64.2 L727.1 63.7 L725.3 63.4 L723.4 63.1 L721.2 63.0 L719.0 63.1 L716.6 63.2 L714.1 63.5 L711.6 63.9 L709.1 64.5 L706.6 65.1Z" fill="#fff" stroke="#000" stroke-width="2.2" stroke-linejoin="round"/>
<path d="M380.6 106.7 L381.0 107.6 L428.1 165.2 L429.1 165.9 L430.6 166.5 L432.5 166.9 L434.9 167.1 L437.6 167.1 L440.7 166.9 L444.0 166.5 L447.4 165.8 L450.9 165.0 L454.3 164.1 L457.6 163.0 L460.8 161.8 L463.7 160.5 L466.2 159.1 L468.3 157.8 L470.0 156.5 L471.2 155.2 L471.8 154.0 L471.9 152.9 L471.9 183.6 L471.8 184.7 L471.2 185.9 L470.0 187.2 L468.3 188.5 L466.2 189.8 L463.7 191.2 L460.8 192.5 L457.6 193.7 L454.3 194.8 L450.9 195.7 L447.4 196.5 L444.0 197.2 L440.7 197.6 L437.6 197.8 L434.9 197.8 L432.5 197.6 L430.6 197.2 L429.1 196.6 L428.1 195.9 L381.0 138.3 L380.6 137.4Z" fill="#009a44" stroke="none"/><path d="M380.6 122.0 L381.0 123.0 L428.1 180.5 L429.1 181.3 L430.6 181.9 L432.5 182.3 L434.9 182.5 L437.6 182.5 L440.7 182.2 L444.0 181.8 L447.4 181.2 L450.9 180.4 L454.3 179.4 L457.6 178.3 L460.8 177.1 L463.7 175.8 L466.2 174.5 L468.3 173.1 L470.0 171.8 L471.2 170.5 L471.8 169.3 L471.9 168.3" fill="none" stroke="#000" stroke-width="2.2" stroke-linejoin="round"/><path d="M380.6 137.4 L381.0 138.3 L428.1 195.9 L429.1 196.6 L430.6 197.2 L432.5 197.6 L434.9 197.8 L437.6 197.8 L440.7 197.6 L444.0 197.2 L447.4 196.5 L450.9 195.7 L454.3 194.8 L457.6 193.7 L460.8 192.5 L463.7 191.2 L466.2 189.8 L468.3 188.5 L470.0 187.2 L471.2 185.9 L471.8 184.7 L471.9 183.6" fill="none" stroke="#000" stroke-width="2.2" stroke-linejoin="round"/><line x1="380.6" y1="106.7" x2="380.6" y2="137.4" stroke="#000" stroke-width="2.2" stroke-linecap="round"/><line x1="471.9" y1="152.9" x2="471.9" y2="183.6" stroke="#000" stroke-width="2.2" stroke-linecap="round"/><path d="M428.1 165.2 L429.1 165.9 L430.6 166.5 L432.5 166.9 L434.9 167.1 L437.6 167.1 L440.7 166.9 L444.0 166.5 L447.4 165.8 L450.9 165.0 L454.3 164.1 L457.6 163.0 L460.8 161.8 L463.7 160.5 L466.2 159.1 L468.3 157.8 L470.0 156.5 L471.2 155.2 L471.8 154.0 L471.9 152.9 L471.5 152.0 L424.4 94.4 L423.4 93.7 L421.9 93.1 L420.0 92.7 L417.6 92.5 L414.9 92.5 L411.8 92.7 L408.5 93.1 L405.1 93.8 L401.6 94.6 L398.2 95.5 L394.9 96.6 L391.7 97.8 L388.8 99.1 L386.3 100.5 L384.2 101.8 L382.5 103.1 L381.3 104.4 L380.7 105.6 L380.6 106.7 L381.0 107.6Z" fill="#fff" stroke="#000" stroke-width="2.2" stroke-linejoin="round"/>
<path d="M229.2 190.1 L229.6 191.0 L254.0 220.8 L255.0 221.6 L256.5 222.2 L258.4 222.6 L260.8 222.8 L263.5 222.8 L266.6 222.5 L269.9 222.1 L273.3 221.5 L276.8 220.7 L280.2 219.7 L283.6 218.6 L286.7 217.4 L289.6 216.1 L292.1 214.8 L294.2 213.4 L295.9 212.1 L297.1 210.8 L297.7 209.6 L297.8 208.5 L297.8 239.2 L297.7 240.3 L297.1 241.5 L295.9 242.8 L294.2 244.1 L292.1 245.5 L289.6 246.8 L286.7 248.1 L283.6 249.3 L280.2 250.4 L276.8 251.4 L273.3 252.2 L269.9 252.8 L266.6 253.2 L263.5 253.5 L260.8 253.5 L258.4 253.3 L256.5 252.9 L255.0 252.3 L254.0 251.5 L229.6 221.7 L229.2 220.8Z" fill="#009a44" stroke="none"/><path d="M229.2 205.4 L229.6 206.4 L254.0 236.2 L255.0 236.9 L256.5 237.5 L258.4 237.9 L260.8 238.1 L263.5 238.1 L266.6 237.9 L269.9 237.5 L273.3 236.8 L276.8 236.0 L280.2 235.1 L283.6 234.0 L286.7 232.8 L289.6 231.5 L292.1 230.1 L294.2 228.8 L295.9 227.5 L297.1 226.2 L297.7 225.0 L297.8 223.9" fill="none" stroke="#000" stroke-width="2.2" stroke-linejoin="round"/><path d="M229.2 220.8 L229.6 221.7 L254.0 251.5 L255.0 252.3 L256.5 252.9 L258.4 253.3 L260.8 253.5 L263.5 253.5 L266.6 253.2 L269.9 252.8 L273.3 252.2 L276.8 251.4 L280.2 250.4 L283.6 249.3 L286.7 248.1 L289.6 246.8 L292.1 245.5 L294.2 244.1 L295.9 242.8 L297.1 241.5 L297.7 240.3 L297.8 239.2" fill="none" stroke="#000" stroke-width="2.2" stroke-linejoin="round"/><line x1="229.2" y1="190.1" x2="229.2" y2="220.8" stroke="#000" stroke-width="2.2" stroke-linecap="round"/><line x1="297.8" y1="208.5" x2="297.8" y2="239.2" stroke="#000" stroke-width="2.2" stroke-linecap="round"/><path d="M254.0 220.8 L255.0 221.6 L256.5 222.2 L258.4 222.6 L260.8 222.8 L263.5 222.8 L266.6 222.5 L269.9 222.1 L273.3 221.5 L276.8 220.7 L280.2 219.7 L283.6 218.6 L286.7 217.4 L289.6 216.1 L292.1 214.8 L294.2 213.4 L295.9 212.1 L297.1 210.8 L297.7 209.6 L297.8 208.5 L297.4 207.6 L273.0 177.8 L272.0 177.0 L270.5 176.4 L268.6 176.0 L266.2 175.8 L263.5 175.8 L260.4 176.1 L257.1 176.5 L253.7 177.1 L250.2 177.9 L246.8 178.9 L243.4 180.0 L240.3 181.2 L237.4 182.5 L234.9 183.8 L232.8 185.2 L231.1 186.5 L229.9 187.8 L229.3 189.0 L229.2 190.1 L229.6 191.0Z" fill="#fff" stroke="#000" stroke-width="2.2" stroke-linejoin="round"/><path d="M836.4 50.4 L836.5 50.8 L836.6 51.2 L836.8 51.6 L837.0 51.9 L837.4 52.3 L837.8 52.6 L838.2 52.9 L838.7 53.2 L839.3 53.4 L839.9 53.6 L840.6 53.8 L841.4 54.0 L842.2 54.1 L843.0 54.2 L843.9 54.3 L844.8 54.4 L845.7 54.4 L846.7 54.4 L847.7 54.3 L848.8 54.2 L849.8 54.1 L850.9 54.0 L851.9 53.8 L853.0 53.6 L854.1 53.4 L855.1 53.1 L856.2 52.9 L857.2 52.6 L858.2 52.2 L859.2 51.9 L860.2 51.5 L861.2 51.1 L862.1 50.7 L862.9 50.3 L863.7 49.9 L864.5 49.4 L865.2 49.0 L865.9 48.5 L866.5 48.1 L867.1 47.6 L867.6 47.1 L868.0 46.6 L868.4 46.2 L868.7 45.7 L868.9 45.2 L869.0 44.8 L869.1 44.4 L869.2 43.9 L869.2 226.3 L869.1 226.8 L869.0 227.2 L868.9 227.6 L868.7 228.1 L868.4 228.6 L868.0 229.0 L867.6 229.5 L867.1 230.0 L866.5 230.5 L865.9 230.9 L865.2 231.4 L864.5 231.8 L863.7 232.3 L862.9 232.7 L862.1 233.1 L861.2 233.5 L860.2 233.9 L859.2 234.3 L858.2 234.6 L857.2 235.0 L856.2 235.3 L855.1 235.5 L854.1 235.8 L853.0 236.0 L851.9 236.2 L850.9 236.4 L849.8 236.5 L848.8 236.6 L847.7 236.7 L846.7 236.8 L845.7 236.8 L844.8 236.8 L843.9 236.7 L843.0 236.6 L842.2 236.5 L841.4 236.4 L840.6 236.2 L839.9 236.0 L839.3 235.8 L838.7 235.6 L838.2 235.3 L837.8 235.0 L837.4 234.7 L837.0 234.3 L836.8 234.0 L836.6 233.6 L836.5 233.2 L836.4 232.8Z" fill="#f39200"/><path d="M836.4 65.6 L836.5 66.0 L836.6 66.4 L836.8 66.8 L837.0 67.1 L837.4 67.5 L837.8 67.8 L838.2 68.1 L838.7 68.4 L839.3 68.6 L839.9 68.8 L840.6 69.0 L841.4 69.2 L842.2 69.3 L843.0 69.4 L843.9 69.5 L844.8 69.6 L845.7 69.6 L846.7 69.6 L847.7 69.5 L848.8 69.4 L849.8 69.3 L850.9 69.2 L851.9 69.0 L853.0 68.8 L854.1 68.6 L855.1 68.3 L856.2 68.1 L857.2 67.8 L858.2 67.4 L859.2 67.1 L860.2 66.7 L861.2 66.3 L862.1 65.9 L862.9 65.5 L863.7 65.1 L864.5 64.6 L865.2 64.2 L865.9 63.7 L866.5 63.3 L867.1 62.8 L867.6 62.3 L868.0 61.8 L868.4 61.4 L868.7 60.9 L868.9 60.4 L869.0 60.0 L869.1 59.6 L869.2 59.1" fill="none" stroke="#000" stroke-width="2.2"/><path d="M836.4 80.8 L836.5 81.2 L836.6 81.6 L836.8 82.0 L837.0 82.3 L837.4 82.7 L837.8 83.0 L838.2 83.3 L838.7 83.6 L839.3 83.8 L839.9 84.0 L840.6 84.2 L841.4 84.4 L842.2 84.5 L843.0 84.6 L843.9 84.7 L844.8 84.8 L845.7 84.8 L846.7 84.8 L847.7 84.7 L848.8 84.6 L849.8 84.5 L850.9 84.4 L851.9 84.2 L853.0 84.0 L854.1 83.8 L855.1 83.5 L856.2 83.3 L857.2 83.0 L858.2 82.6 L859.2 82.3 L860.2 81.9 L861.2 81.5 L862.1 81.1 L862.9 80.7 L863.7 80.3 L864.5 79.8 L865.2 79.4 L865.9 78.9 L866.5 78.5 L867.1 78.0 L867.6 77.5 L868.0 77.0 L868.4 76.6 L868.7 76.1 L868.9 75.6 L869.0 75.2 L869.1 74.8 L869.2 74.3" fill="none" stroke="#000" stroke-width="2.2"/><path d="M836.4 96.0 L836.5 96.4 L836.6 96.8 L836.8 97.2 L837.0 97.5 L837.4 97.9 L837.8 98.2 L838.2 98.5 L838.7 98.8 L839.3 99.0 L839.9 99.2 L840.6 99.4 L841.4 99.6 L842.2 99.7 L843.0 99.8 L843.9 99.9 L844.8 100.0 L845.7 100.0 L846.7 100.0 L847.7 99.9 L848.8 99.8 L849.8 99.7 L850.9 99.6 L851.9 99.4 L853.0 99.2 L854.1 99.0 L855.1 98.7 L856.2 98.5 L857.2 98.2 L858.2 97.8 L859.2 97.5 L860.2 97.1 L861.2 96.7 L862.1 96.3 L862.9 95.9 L863.7 95.5 L864.5 95.0 L865.2 94.6 L865.9 94.1 L866.5 93.7 L867.1 93.2 L867.6 92.7 L868.0 92.2 L868.4 91.8 L868.7 91.3 L868.9 90.8 L869.0 90.4 L869.1 90.0 L869.2 89.5" fill="none" stroke="#000" stroke-width="2.2"/><path d="M836.4 111.2 L836.5 111.6 L836.6 112.0 L836.8 112.4 L837.0 112.7 L837.4 113.1 L837.8 113.4 L838.2 113.7 L838.7 114.0 L839.3 114.2 L839.9 114.4 L840.6 114.6 L841.4 114.8 L842.2 114.9 L843.0 115.0 L843.9 115.1 L844.8 115.2 L845.7 115.2 L846.7 115.2 L847.7 115.1 L848.8 115.0 L849.8 114.9 L850.9 114.8 L851.9 114.6 L853.0 114.4 L854.1 114.2 L855.1 113.9 L856.2 113.7 L857.2 113.4 L858.2 113.0 L859.2 112.7 L860.2 112.3 L861.2 111.9 L862.1 111.5 L862.9 111.1 L863.7 110.7 L864.5 110.2 L865.2 109.8 L865.9 109.3 L866.5 108.9 L867.1 108.4 L867.6 107.9 L868.0 107.4 L868.4 107.0 L868.7 106.5 L868.9 106.0 L869.0 105.6 L869.1 105.2 L869.2 104.7" fill="none" stroke="#000" stroke-width="2.2"/><path d="M836.4 126.4 L836.5 126.8 L836.6 127.2 L836.8 127.6 L837.0 127.9 L837.4 128.3 L837.8 128.6 L838.2 128.9 L838.7 129.2 L839.3 129.4 L839.9 129.6 L840.6 129.8 L841.4 130.0 L842.2 130.1 L843.0 130.2 L843.9 130.3 L844.8 130.4 L845.7 130.4 L846.7 130.4 L847.7 130.3 L848.8 130.2 L849.8 130.1 L850.9 130.0 L851.9 129.8 L853.0 129.6 L854.1 129.4 L855.1 129.1 L856.2 128.9 L857.2 128.6 L858.2 128.2 L859.2 127.9 L860.2 127.5 L861.2 127.1 L862.1 126.7 L862.9 126.3 L863.7 125.9 L864.5 125.4 L865.2 125.0 L865.9 124.5 L866.5 124.1 L867.1 123.6 L867.6 123.1 L868.0 122.6 L868.4 122.2 L868.7 121.7 L868.9 121.2 L869.0 120.8 L869.1 120.4 L869.2 119.9" fill="none" stroke="#000" stroke-width="2.2"/><path d="M836.4 141.6 L836.5 142.0 L836.6 142.4 L836.8 142.8 L837.0 143.1 L837.4 143.5 L837.8 143.8 L838.2 144.1 L838.7 144.4 L839.3 144.6 L839.9 144.8 L840.6 145.0 L841.4 145.2 L842.2 145.3 L843.0 145.4 L843.9 145.5 L844.8 145.6 L845.7 145.6 L846.7 145.6 L847.7 145.5 L848.8 145.4 L849.8 145.3 L850.9 145.2 L851.9 145.0 L853.0 144.8 L854.1 144.6 L855.1 144.3 L856.2 144.1 L857.2 143.8 L858.2 143.4 L859.2 143.1 L860.2 142.7 L861.2 142.3 L862.1 141.9 L862.9 141.5 L863.7 141.1 L864.5 140.6 L865.2 140.2 L865.9 139.7 L866.5 139.3 L867.1 138.8 L867.6 138.3 L868.0 137.8 L868.4 137.4 L868.7 136.9 L868.9 136.4 L869.0 136.0 L869.1 135.6 L869.2 135.1" fill="none" stroke="#000" stroke-width="2.2"/><path d="M836.4 156.8 L836.5 157.2 L836.6 157.6 L836.8 158.0 L837.0 158.3 L837.4 158.7 L837.8 159.0 L838.2 159.3 L838.7 159.6 L839.3 159.8 L839.9 160.0 L840.6 160.2 L841.4 160.4 L842.2 160.5 L843.0 160.6 L843.9 160.7 L844.8 160.8 L845.7 160.8 L846.7 160.8 L847.7 160.7 L848.8 160.6 L849.8 160.5 L850.9 160.4 L851.9 160.2 L853.0 160.0 L854.1 159.8 L855.1 159.5 L856.2 159.3 L857.2 159.0 L858.2 158.6 L859.2 158.3 L860.2 157.9 L861.2 157.5 L862.1 157.1 L862.9 156.7 L863.7 156.3 L864.5 155.8 L865.2 155.4 L865.9 154.9 L866.5 154.5 L867.1 154.0 L867.6 153.5 L868.0 153.0 L868.4 152.6 L868.7 152.1 L868.9 151.6 L869.0 151.2 L869.1 150.8 L869.2 150.3" fill="none" stroke="#000" stroke-width="2.2"/><path d="M836.4 172.0 L836.5 172.4 L836.6 172.8 L836.8 173.2 L837.0 173.5 L837.4 173.9 L837.8 174.2 L838.2 174.5 L838.7 174.8 L839.3 175.0 L839.9 175.2 L840.6 175.4 L841.4 175.6 L842.2 175.7 L843.0 175.8 L843.9 175.9 L844.8 176.0 L845.7 176.0 L846.7 176.0 L847.7 175.9 L848.8 175.8 L849.8 175.7 L850.9 175.6 L851.9 175.4 L853.0 175.2 L854.1 175.0 L855.1 174.7 L856.2 174.5 L857.2 174.2 L858.2 173.8 L859.2 173.5 L860.2 173.1 L861.2 172.7 L862.1 172.3 L862.9 171.9 L863.7 171.5 L864.5 171.0 L865.2 170.6 L865.9 170.1 L866.5 169.7 L867.1 169.2 L867.6 168.7 L868.0 168.2 L868.4 167.8 L868.7 167.3 L868.9 166.8 L869.0 166.4 L869.1 166.0 L869.2 165.5" fill="none" stroke="#000" stroke-width="2.2"/><path d="M836.4 187.2 L836.5 187.6 L836.6 188.0 L836.8 188.4 L837.0 188.7 L837.4 189.1 L837.8 189.4 L838.2 189.7 L838.7 190.0 L839.3 190.2 L839.9 190.4 L840.6 190.6 L841.4 190.8 L842.2 190.9 L843.0 191.0 L843.9 191.1 L844.8 191.2 L845.7 191.2 L846.7 191.2 L847.7 191.1 L848.8 191.0 L849.8 190.9 L850.9 190.8 L851.9 190.6 L853.0 190.4 L854.1 190.2 L855.1 189.9 L856.2 189.7 L857.2 189.4 L858.2 189.0 L859.2 188.7 L860.2 188.3 L861.2 187.9 L862.1 187.5 L862.9 187.1 L863.7 186.7 L864.5 186.2 L865.2 185.8 L865.9 185.3 L866.5 184.9 L867.1 184.4 L867.6 183.9 L868.0 183.4 L868.4 183.0 L868.7 182.5 L868.9 182.0 L869.0 181.6 L869.1 181.2 L869.2 180.7" fill="none" stroke="#000" stroke-width="2.2"/><path d="M836.4 202.4 L836.5 202.8 L836.6 203.2 L836.8 203.6 L837.0 203.9 L837.4 204.3 L837.8 204.6 L838.2 204.9 L838.7 205.2 L839.3 205.4 L839.9 205.6 L840.6 205.8 L841.4 206.0 L842.2 206.1 L843.0 206.2 L843.9 206.3 L844.8 206.4 L845.7 206.4 L846.7 206.4 L847.7 206.3 L848.8 206.2 L849.8 206.1 L850.9 206.0 L851.9 205.8 L853.0 205.6 L854.1 205.4 L855.1 205.1 L856.2 204.9 L857.2 204.6 L858.2 204.2 L859.2 203.9 L860.2 203.5 L861.2 203.1 L862.1 202.7 L862.9 202.3 L863.7 201.9 L864.5 201.4 L865.2 201.0 L865.9 200.5 L866.5 200.1 L867.1 199.6 L867.6 199.1 L868.0 198.6 L868.4 198.2 L868.7 197.7 L868.9 197.2 L869.0 196.8 L869.1 196.4 L869.2 195.9" fill="none" stroke="#000" stroke-width="2.2"/><path d="M836.4 217.6 L836.5 218.0 L836.6 218.4 L836.8 218.8 L837.0 219.1 L837.4 219.5 L837.8 219.8 L838.2 220.1 L838.7 220.4 L839.3 220.6 L839.9 220.8 L840.6 221.0 L841.4 221.2 L842.2 221.3 L843.0 221.4 L843.9 221.5 L844.8 221.6 L845.7 221.6 L846.7 221.6 L847.7 221.5 L848.8 221.4 L849.8 221.3 L850.9 221.2 L851.9 221.0 L853.0 220.8 L854.1 220.6 L855.1 220.3 L856.2 220.1 L857.2 219.8 L858.2 219.4 L859.2 219.1 L860.2 218.7 L861.2 218.3 L862.1 217.9 L862.9 217.5 L863.7 217.1 L864.5 216.6 L865.2 216.2 L865.9 215.7 L866.5 215.3 L867.1 214.8 L867.6 214.3 L868.0 213.8 L868.4 213.4 L868.7 212.9 L868.9 212.4 L869.0 212.0 L869.1 211.6 L869.2 211.1" fill="none" stroke="#000" stroke-width="2.2"/><path d="M836.4 232.8 L836.5 233.2 L836.6 233.6 L836.8 234.0 L837.0 234.3 L837.4 234.7 L837.8 235.0 L838.2 235.3 L838.7 235.6 L839.3 235.8 L839.9 236.0 L840.6 236.2 L841.4 236.4 L842.2 236.5 L843.0 236.6 L843.9 236.7 L844.8 236.8 L845.7 236.8 L846.7 236.8 L847.7 236.7 L848.8 236.6 L849.8 236.5 L850.9 236.4 L851.9 236.2 L853.0 236.0 L854.1 235.8 L855.1 235.5 L856.2 235.3 L857.2 235.0 L858.2 234.6 L859.2 234.3 L860.2 233.9 L861.2 233.5 L862.1 233.1 L862.9 232.7 L863.7 232.3 L864.5 231.8 L865.2 231.4 L865.9 230.9 L866.5 230.5 L867.1 230.0 L867.6 229.5 L868.0 229.0 L868.4 228.6 L868.7 228.1 L868.9 227.6 L869.0 227.2 L869.1 226.8 L869.2 226.3" fill="none" stroke="#000" stroke-width="2.2"/><line x1="836.4" y1="50.4" x2="836.4" y2="232.8" stroke="#000" stroke-width="2.2"/><line x1="869.2" y1="43.9" x2="869.2" y2="226.3" stroke="#000" stroke-width="2.2"/><path d="M868.6 42.4 L868.8 42.7 L869.0 43.1 L869.1 43.5 L869.2 43.9 L869.1 44.4 L869.0 44.8 L868.9 45.2 L868.7 45.7 L868.4 46.2 L868.0 46.6 L867.6 47.1 L867.1 47.6 L866.5 48.1 L865.9 48.5 L865.2 49.0 L864.5 49.4 L863.7 49.9 L862.9 50.3 L862.1 50.7 L861.2 51.1 L860.2 51.5 L859.2 51.9 L858.2 52.2 L857.2 52.6 L856.2 52.9 L855.1 53.1 L854.1 53.4 L853.0 53.6 L851.9 53.8 L850.9 54.0 L849.8 54.1 L848.8 54.2 L847.7 54.3 L846.7 54.4 L845.7 54.4 L844.8 54.4 L843.9 54.3 L843.0 54.2 L842.2 54.1 L841.4 54.0 L840.6 53.8 L839.9 53.6 L839.3 53.4 L838.7 53.2 L838.2 52.9 L837.8 52.6 L837.4 52.3 L837.0 51.9 L836.8 51.6 L836.6 51.2 L836.5 50.8 L836.4 50.4 L836.5 49.9 L836.6 49.5 L836.7 49.1 L836.9 48.6 L837.2 48.1 L837.6 47.7 L838.0 47.2 L838.5 46.7 L839.1 46.2 L839.7 45.8 L840.4 45.3 L841.1 44.9 L841.9 44.4 L842.7 44.0 L843.5 43.6 L844.4 43.2 L845.4 42.8 L846.4 42.4 L847.4 42.1 L848.4 41.7 L849.4 41.4 L850.5 41.2 L851.5 40.9 L852.6 40.7 L853.7 40.5 L854.7 40.3 L855.8 40.2 L856.8 40.1 L857.9 40.0 L858.9 39.9 L859.9 39.9 L860.8 39.9 L861.7 40.0 L862.6 40.1 L863.4 40.2 L864.2 40.3 L865.0 40.5 L865.7 40.7 L866.3 40.9 L866.9 41.1 L867.4 41.4 L867.8 41.7 L868.2 42.0Z" fill="#fff" stroke="#000" stroke-width="2.2"/><path d="M891.6 50.4 L891.7 50.8 L891.8 51.2 L892.0 51.6 L892.2 51.9 L892.6 52.3 L893.0 52.6 L893.4 52.9 L893.9 53.2 L894.5 53.4 L895.1 53.6 L895.8 53.8 L896.6 54.0 L897.4 54.1 L898.2 54.2 L899.1 54.3 L900.0 54.4 L900.9 54.4 L901.9 54.4 L902.9 54.3 L904.0 54.2 L905.0 54.1 L906.1 54.0 L907.1 53.8 L908.2 53.6 L909.3 53.4 L910.3 53.1 L911.4 52.9 L912.4 52.6 L913.4 52.2 L914.4 51.9 L915.4 51.5 L916.4 51.1 L917.3 50.7 L918.1 50.3 L918.9 49.9 L919.7 49.4 L920.4 49.0 L921.1 48.5 L921.7 48.1 L922.3 47.6 L922.8 47.1 L923.2 46.6 L923.6 46.2 L923.9 45.7 L924.1 45.2 L924.2 44.8 L924.3 44.4 L924.4 43.9 L924.4 226.3 L924.3 226.8 L924.2 227.2 L924.1 227.6 L923.9 228.1 L923.6 228.6 L923.2 229.0 L922.8 229.5 L922.3 230.0 L921.7 230.5 L921.1 230.9 L920.4 231.4 L919.7 231.8 L918.9 232.3 L918.1 232.7 L917.3 233.1 L916.4 233.5 L915.4 233.9 L914.4 234.3 L913.4 234.6 L912.4 235.0 L911.4 235.3 L910.3 235.5 L909.3 235.8 L908.2 236.0 L907.1 236.2 L906.1 236.4 L905.0 236.5 L904.0 236.6 L902.9 236.7 L901.9 236.8 L900.9 236.8 L900.0 236.8 L899.1 236.7 L898.2 236.6 L897.4 236.5 L896.6 236.4 L895.8 236.2 L895.1 236.0 L894.5 235.8 L893.9 235.6 L893.4 235.3 L893.0 235.0 L892.6 234.7 L892.2 234.3 L892.0 234.0 L891.8 233.6 L891.7 233.2 L891.6 232.8Z" fill="#009a44"/><path d="M891.6 65.6 L891.7 66.0 L891.8 66.4 L892.0 66.8 L892.2 67.1 L892.6 67.5 L893.0 67.8 L893.4 68.1 L893.9 68.4 L894.5 68.6 L895.1 68.8 L895.8 69.0 L896.6 69.2 L897.4 69.3 L898.2 69.4 L899.1 69.5 L900.0 69.6 L900.9 69.6 L901.9 69.6 L902.9 69.5 L904.0 69.4 L905.0 69.3 L906.1 69.2 L907.1 69.0 L908.2 68.8 L909.3 68.6 L910.3 68.3 L911.4 68.1 L912.4 67.8 L913.4 67.4 L914.4 67.1 L915.4 66.7 L916.4 66.3 L917.3 65.9 L918.1 65.5 L918.9 65.1 L919.7 64.6 L920.4 64.2 L921.1 63.7 L921.7 63.3 L922.3 62.8 L922.8 62.3 L923.2 61.8 L923.6 61.4 L923.9 60.9 L924.1 60.4 L924.2 60.0 L924.3 59.6 L924.4 59.1" fill="none" stroke="#000" stroke-width="2.2"/><path d="M891.6 80.8 L891.7 81.2 L891.8 81.6 L892.0 82.0 L892.2 82.3 L892.6 82.7 L893.0 83.0 L893.4 83.3 L893.9 83.6 L894.5 83.8 L895.1 84.0 L895.8 84.2 L896.6 84.4 L897.4 84.5 L898.2 84.6 L899.1 84.7 L900.0 84.8 L900.9 84.8 L901.9 84.8 L902.9 84.7 L904.0 84.6 L905.0 84.5 L906.1 84.4 L907.1 84.2 L908.2 84.0 L909.3 83.8 L910.3 83.5 L911.4 83.3 L912.4 83.0 L913.4 82.6 L914.4 82.3 L915.4 81.9 L916.4 81.5 L917.3 81.1 L918.1 80.7 L918.9 80.3 L919.7 79.8 L920.4 79.4 L921.1 78.9 L921.7 78.5 L922.3 78.0 L922.8 77.5 L923.2 77.0 L923.6 76.6 L923.9 76.1 L924.1 75.6 L924.2 75.2 L924.3 74.8 L924.4 74.3" fill="none" stroke="#000" stroke-width="2.2"/><path d="M891.6 96.0 L891.7 96.4 L891.8 96.8 L892.0 97.2 L892.2 97.5 L892.6 97.9 L893.0 98.2 L893.4 98.5 L893.9 98.8 L894.5 99.0 L895.1 99.2 L895.8 99.4 L896.6 99.6 L897.4 99.7 L898.2 99.8 L899.1 99.9 L900.0 100.0 L900.9 100.0 L901.9 100.0 L902.9 99.9 L904.0 99.8 L905.0 99.7 L906.1 99.6 L907.1 99.4 L908.2 99.2 L909.3 99.0 L910.3 98.7 L911.4 98.5 L912.4 98.2 L913.4 97.8 L914.4 97.5 L915.4 97.1 L916.4 96.7 L917.3 96.3 L918.1 95.9 L918.9 95.5 L919.7 95.0 L920.4 94.6 L921.1 94.1 L921.7 93.7 L922.3 93.2 L922.8 92.7 L923.2 92.2 L923.6 91.8 L923.9 91.3 L924.1 90.8 L924.2 90.4 L924.3 90.0 L924.4 89.5" fill="none" stroke="#000" stroke-width="2.2"/><path d="M891.6 111.2 L891.7 111.6 L891.8 112.0 L892.0 112.4 L892.2 112.7 L892.6 113.1 L893.0 113.4 L893.4 113.7 L893.9 114.0 L894.5 114.2 L895.1 114.4 L895.8 114.6 L896.6 114.8 L897.4 114.9 L898.2 115.0 L899.1 115.1 L900.0 115.2 L900.9 115.2 L901.9 115.2 L902.9 115.1 L904.0 115.0 L905.0 114.9 L906.1 114.8 L907.1 114.6 L908.2 114.4 L909.3 114.2 L910.3 113.9 L911.4 113.7 L912.4 113.4 L913.4 113.0 L914.4 112.7 L915.4 112.3 L916.4 111.9 L917.3 111.5 L918.1 111.1 L918.9 110.7 L919.7 110.2 L920.4 109.8 L921.1 109.3 L921.7 108.9 L922.3 108.4 L922.8 107.9 L923.2 107.4 L923.6 107.0 L923.9 106.5 L924.1 106.0 L924.2 105.6 L924.3 105.2 L924.4 104.7" fill="none" stroke="#000" stroke-width="2.2"/><path d="M891.6 126.4 L891.7 126.8 L891.8 127.2 L892.0 127.6 L892.2 127.9 L892.6 128.3 L893.0 128.6 L893.4 128.9 L893.9 129.2 L894.5 129.4 L895.1 129.6 L895.8 129.8 L896.6 130.0 L897.4 130.1 L898.2 130.2 L899.1 130.3 L900.0 130.4 L900.9 130.4 L901.9 130.4 L902.9 130.3 L904.0 130.2 L905.0 130.1 L906.1 130.0 L907.1 129.8 L908.2 129.6 L909.3 129.4 L910.3 129.1 L911.4 128.9 L912.4 128.6 L913.4 128.2 L914.4 127.9 L915.4 127.5 L916.4 127.1 L917.3 126.7 L918.1 126.3 L918.9 125.9 L919.7 125.4 L920.4 125.0 L921.1 124.5 L921.7 124.1 L922.3 123.6 L922.8 123.1 L923.2 122.6 L923.6 122.2 L923.9 121.7 L924.1 121.2 L924.2 120.8 L924.3 120.4 L924.4 119.9" fill="none" stroke="#000" stroke-width="2.2"/><path d="M891.6 141.6 L891.7 142.0 L891.8 142.4 L892.0 142.8 L892.2 143.1 L892.6 143.5 L893.0 143.8 L893.4 144.1 L893.9 144.4 L894.5 144.6 L895.1 144.8 L895.8 145.0 L896.6 145.2 L897.4 145.3 L898.2 145.4 L899.1 145.5 L900.0 145.6 L900.9 145.6 L901.9 145.6 L902.9 145.5 L904.0 145.4 L905.0 145.3 L906.1 145.2 L907.1 145.0 L908.2 144.8 L909.3 144.6 L910.3 144.3 L911.4 144.1 L912.4 143.8 L913.4 143.4 L914.4 143.1 L915.4 142.7 L916.4 142.3 L917.3 141.9 L918.1 141.5 L918.9 141.1 L919.7 140.6 L920.4 140.2 L921.1 139.7 L921.7 139.3 L922.3 138.8 L922.8 138.3 L923.2 137.8 L923.6 137.4 L923.9 136.9 L924.1 136.4 L924.2 136.0 L924.3 135.6 L924.4 135.1" fill="none" stroke="#000" stroke-width="2.2"/><path d="M891.6 156.8 L891.7 157.2 L891.8 157.6 L892.0 158.0 L892.2 158.3 L892.6 158.7 L893.0 159.0 L893.4 159.3 L893.9 159.6 L894.5 159.8 L895.1 160.0 L895.8 160.2 L896.6 160.4 L897.4 160.5 L898.2 160.6 L899.1 160.7 L900.0 160.8 L900.9 160.8 L901.9 160.8 L902.9 160.7 L904.0 160.6 L905.0 160.5 L906.1 160.4 L907.1 160.2 L908.2 160.0 L909.3 159.8 L910.3 159.5 L911.4 159.3 L912.4 159.0 L913.4 158.6 L914.4 158.3 L915.4 157.9 L916.4 157.5 L917.3 157.1 L918.1 156.7 L918.9 156.3 L919.7 155.8 L920.4 155.4 L921.1 154.9 L921.7 154.5 L922.3 154.0 L922.8 153.5 L923.2 153.0 L923.6 152.6 L923.9 152.1 L924.1 151.6 L924.2 151.2 L924.3 150.8 L924.4 150.3" fill="none" stroke="#000" stroke-width="2.2"/><path d="M891.6 172.0 L891.7 172.4 L891.8 172.8 L892.0 173.2 L892.2 173.5 L892.6 173.9 L893.0 174.2 L893.4 174.5 L893.9 174.8 L894.5 175.0 L895.1 175.2 L895.8 175.4 L896.6 175.6 L897.4 175.7 L898.2 175.8 L899.1 175.9 L900.0 176.0 L900.9 176.0 L901.9 176.0 L902.9 175.9 L904.0 175.8 L905.0 175.7 L906.1 175.6 L907.1 175.4 L908.2 175.2 L909.3 175.0 L910.3 174.7 L911.4 174.5 L912.4 174.2 L913.4 173.8 L914.4 173.5 L915.4 173.1 L916.4 172.7 L917.3 172.3 L918.1 171.9 L918.9 171.5 L919.7 171.0 L920.4 170.6 L921.1 170.1 L921.7 169.7 L922.3 169.2 L922.8 168.7 L923.2 168.2 L923.6 167.8 L923.9 167.3 L924.1 166.8 L924.2 166.4 L924.3 166.0 L924.4 165.5" fill="none" stroke="#000" stroke-width="2.2"/><path d="M891.6 187.2 L891.7 187.6 L891.8 188.0 L892.0 188.4 L892.2 188.7 L892.6 189.1 L893.0 189.4 L893.4 189.7 L893.9 190.0 L894.5 190.2 L895.1 190.4 L895.8 190.6 L896.6 190.8 L897.4 190.9 L898.2 191.0 L899.1 191.1 L900.0 191.2 L900.9 191.2 L901.9 191.2 L902.9 191.1 L904.0 191.0 L905.0 190.9 L906.1 190.8 L907.1 190.6 L908.2 190.4 L909.3 190.2 L910.3 189.9 L911.4 189.7 L912.4 189.4 L913.4 189.0 L914.4 188.7 L915.4 188.3 L916.4 187.9 L917.3 187.5 L918.1 187.1 L918.9 186.7 L919.7 186.2 L920.4 185.8 L921.1 185.3 L921.7 184.9 L922.3 184.4 L922.8 183.9 L923.2 183.4 L923.6 183.0 L923.9 182.5 L924.1 182.0 L924.2 181.6 L924.3 181.2 L924.4 180.7" fill="none" stroke="#000" stroke-width="2.2"/><path d="M891.6 202.4 L891.7 202.8 L891.8 203.2 L892.0 203.6 L892.2 203.9 L892.6 204.3 L893.0 204.6 L893.4 204.9 L893.9 205.2 L894.5 205.4 L895.1 205.6 L895.8 205.8 L896.6 206.0 L897.4 206.1 L898.2 206.2 L899.1 206.3 L900.0 206.4 L900.9 206.4 L901.9 206.4 L902.9 206.3 L904.0 206.2 L905.0 206.1 L906.1 206.0 L907.1 205.8 L908.2 205.6 L909.3 205.4 L910.3 205.1 L911.4 204.9 L912.4 204.6 L913.4 204.2 L914.4 203.9 L915.4 203.5 L916.4 203.1 L917.3 202.7 L918.1 202.3 L918.9 201.9 L919.7 201.4 L920.4 201.0 L921.1 200.5 L921.7 200.1 L922.3 199.6 L922.8 199.1 L923.2 198.6 L923.6 198.2 L923.9 197.7 L924.1 197.2 L924.2 196.8 L924.3 196.4 L924.4 195.9" fill="none" stroke="#000" stroke-width="2.2"/><path d="M891.6 217.6 L891.7 218.0 L891.8 218.4 L892.0 218.8 L892.2 219.1 L892.6 219.5 L893.0 219.8 L893.4 220.1 L893.9 220.4 L894.5 220.6 L895.1 220.8 L895.8 221.0 L896.6 221.2 L897.4 221.3 L898.2 221.4 L899.1 221.5 L900.0 221.6 L900.9 221.6 L901.9 221.6 L902.9 221.5 L904.0 221.4 L905.0 221.3 L906.1 221.2 L907.1 221.0 L908.2 220.8 L909.3 220.6 L910.3 220.3 L911.4 220.1 L912.4 219.8 L913.4 219.4 L914.4 219.1 L915.4 218.7 L916.4 218.3 L917.3 217.9 L918.1 217.5 L918.9 217.1 L919.7 216.6 L920.4 216.2 L921.1 215.7 L921.7 215.3 L922.3 214.8 L922.8 214.3 L923.2 213.8 L923.6 213.4 L923.9 212.9 L924.1 212.4 L924.2 212.0 L924.3 211.6 L924.4 211.1" fill="none" stroke="#000" stroke-width="2.2"/><path d="M891.6 232.8 L891.7 233.2 L891.8 233.6 L892.0 234.0 L892.2 234.3 L892.6 234.7 L893.0 235.0 L893.4 235.3 L893.9 235.6 L894.5 235.8 L895.1 236.0 L895.8 236.2 L896.6 236.4 L897.4 236.5 L898.2 236.6 L899.1 236.7 L900.0 236.8 L900.9 236.8 L901.9 236.8 L902.9 236.7 L904.0 236.6 L905.0 236.5 L906.1 236.4 L907.1 236.2 L908.2 236.0 L909.3 235.8 L910.3 235.5 L911.4 235.3 L912.4 235.0 L913.4 234.6 L914.4 234.3 L915.4 233.9 L916.4 233.5 L917.3 233.1 L918.1 232.7 L918.9 232.3 L919.7 231.8 L920.4 231.4 L921.1 230.9 L921.7 230.5 L922.3 230.0 L922.8 229.5 L923.2 229.0 L923.6 228.6 L923.9 228.1 L924.1 227.6 L924.2 227.2 L924.3 226.8 L924.4 226.3" fill="none" stroke="#000" stroke-width="2.2"/><line x1="891.6" y1="50.4" x2="891.6" y2="232.8" stroke="#000" stroke-width="2.2"/><line x1="924.4" y1="43.9" x2="924.4" y2="226.3" stroke="#000" stroke-width="2.2"/><path d="M923.8 42.4 L924.0 42.7 L924.2 43.1 L924.3 43.5 L924.4 43.9 L924.3 44.4 L924.2 44.8 L924.1 45.2 L923.9 45.7 L923.6 46.2 L923.2 46.6 L922.8 47.1 L922.3 47.6 L921.7 48.1 L921.1 48.5 L920.4 49.0 L919.7 49.4 L918.9 49.9 L918.1 50.3 L917.3 50.7 L916.4 51.1 L915.4 51.5 L914.4 51.9 L913.4 52.2 L912.4 52.6 L911.4 52.9 L910.3 53.1 L909.3 53.4 L908.2 53.6 L907.1 53.8 L906.1 54.0 L905.0 54.1 L904.0 54.2 L902.9 54.3 L901.9 54.4 L900.9 54.4 L900.0 54.4 L899.1 54.3 L898.2 54.2 L897.4 54.1 L896.6 54.0 L895.8 53.8 L895.1 53.6 L894.5 53.4 L893.9 53.2 L893.4 52.9 L893.0 52.6 L892.6 52.3 L892.2 51.9 L892.0 51.6 L891.8 51.2 L891.7 50.8 L891.6 50.4 L891.7 49.9 L891.8 49.5 L891.9 49.1 L892.1 48.6 L892.4 48.1 L892.8 47.7 L893.2 47.2 L893.7 46.7 L894.3 46.2 L894.9 45.8 L895.6 45.3 L896.3 44.9 L897.1 44.4 L897.9 44.0 L898.7 43.6 L899.6 43.2 L900.6 42.8 L901.6 42.4 L902.6 42.1 L903.6 41.7 L904.6 41.4 L905.7 41.2 L906.7 40.9 L907.8 40.7 L908.9 40.5 L909.9 40.3 L911.0 40.2 L912.0 40.1 L913.1 40.0 L914.1 39.9 L915.1 39.9 L916.0 39.9 L916.9 40.0 L917.8 40.1 L918.6 40.2 L919.4 40.3 L920.2 40.5 L920.9 40.7 L921.5 40.9 L922.1 41.1 L922.6 41.4 L923.0 41.7 L923.4 42.0Z" fill="#fff" stroke="#000" stroke-width="2.2"/><text x="1.5" y="27" font-size="37" font-family="'Liberation Sans', sans-serif">(a)</text><text transform="translate(139.8,315.3) rotate(-90)" font-size="27" textLength="53" lengthAdjust="spacingAndGlyphs" font-family="'Liberation Sans', sans-serif">time</text><text transform="translate(180,438) rotate(-90)" font-size="27" textLength="110" lengthAdjust="spacingAndGlyphs" font-family="'Liberation Sans', sans-serif">shell size</text><path d="M193.9 371.3 L180.8 385.5 L193.9 397.9" fill="none" stroke="#000" stroke-width="2.7"/><text x="194" y="191.6" font-size="28" font-family="'Liberation Sans', sans-serif">I</text><text x="345.6" y="108.8" font-size="28" font-family="'Liberation Sans', sans-serif">II</text><text x="594.2" y="81.5" font-size="28" font-family="'Liberation Sans', sans-serif">III</text><text x="814" y="41" font-size="29" font-family="'Liberation Sans', sans-serif">IV</text><text x="882.5" y="41" font-size="29" font-family="'Liberation Sans', sans-serif">V</text><rect x="257.4" y="138.5" width="5.7" height="5.7" fill="#000"/><rect x="257.4" y="147.5" width="5.7" height="5.7" fill="#000"/><rect x="257.4" y="156.5" width="5.7" height="5.7" fill="#000"/><rect x="436.4" y="55.2" width="5.7" height="5.7" fill="#000"/><rect x="436.4" y="64.2" width="5.7" height="5.7" fill="#000"/><rect x="436.4" y="73.2" width="5.7" height="5.7" fill="#000"/><rect x="655.8" y="42.4" width="5.7" height="5.7" fill="#000"/><rect x="655.8" y="51.4" width="5.7" height="5.7" fill="#000"/><rect x="655.8" y="60.4" width="5.7" height="5.7" fill="#000"/><rect x="849.4" y="1.5" width="5.7" height="5.7" fill="#000"/><rect x="849.4" y="10.5" width="5.7" height="5.7" fill="#000"/><rect x="849.4" y="19.5" width="5.7" height="5.7" fill="#000"/><rect x="904.4" y="1.5" width="5.7" height="5.7" fill="#000"/><rect x="904.4" y="10.5" width="5.7" height="5.7" fill="#000"/><rect x="904.4" y="19.5" width="5.7" height="5.7" fill="#000"/><text x="360.5" y="411.3" font-size="21" textLength="289" lengthAdjust="spacingAndGlyphs" font-family="'Liberation Sans', sans-serif">Bandage-Like Super-Stabilizer</text><text x="539.2" y="439.3" font-size="21" textLength="150.3" lengthAdjust="spacingAndGlyphs" font-family="'Liberation Sans', sans-serif">Super-Stabilizer</text><text x="814.5" y="302.4" font-size="21" textLength="132.8" lengthAdjust="spacingAndGlyphs" font-family="'Liberation Sans', sans-serif">X(Z) Stabilizer</text><path d="M867.4 266.7 L867.7 267.2 L867.9 267.7 L867.9 268.2 L867.9 268.7 L867.7 269.3 L867.4 269.8 L867.0 270.4 L866.4 271.0 L865.8 271.6 L865.0 272.2 L864.2 272.8 L863.2 273.4 L862.2 273.9 L861.1 274.5 L859.9 275.0 L858.7 275.5 L857.4 276.0 L856.1 276.4 L854.7 276.8 L853.3 277.2 L851.9 277.5 L850.6 277.7 L849.2 278.0 L847.8 278.1 L846.5 278.3 L845.2 278.3 L844.0 278.3 L842.8 278.3 L841.7 278.2 L840.7 278.1 L839.8 277.9 L838.9 277.7 L838.2 277.4 L837.5 277.0 L837.0 276.7 L836.6 276.3 L836.3 275.8 L836.1 275.3 L836.1 274.8 L836.1 274.3 L836.3 273.7 L836.6 273.2 L837.0 272.6 L837.6 272.0 L838.2 271.4 L839.0 270.8 L839.8 270.2 L840.8 269.6 L841.8 269.1 L842.9 268.5 L844.1 268.0 L845.3 267.5 L846.6 267.0 L847.9 266.6 L849.3 266.2 L850.7 265.8 L852.1 265.5 L853.4 265.3 L854.8 265.0 L856.2 264.9 L857.5 264.7 L858.8 264.7 L860.0 264.7 L861.2 264.7 L862.3 264.8 L863.3 264.9 L864.2 265.1 L865.1 265.3 L865.8 265.6 L866.5 266.0 L867.0 266.3Z" fill="none" stroke="#f39200" stroke-width="2"/><path d="M922.4 266.7 L922.7 267.2 L922.9 267.7 L922.9 268.2 L922.9 268.7 L922.7 269.3 L922.4 269.8 L922.0 270.4 L921.4 271.0 L920.8 271.6 L920.0 272.2 L919.2 272.8 L918.2 273.4 L917.2 273.9 L916.1 274.5 L914.9 275.0 L913.7 275.5 L912.4 276.0 L911.1 276.4 L909.7 276.8 L908.3 277.2 L906.9 277.5 L905.6 277.7 L904.2 278.0 L902.8 278.1 L901.5 278.3 L900.2 278.3 L899.0 278.3 L897.8 278.3 L896.7 278.2 L895.7 278.1 L894.8 277.9 L893.9 277.7 L893.2 277.4 L892.5 277.0 L892.0 276.7 L891.6 276.3 L891.3 275.8 L891.1 275.3 L891.1 274.8 L891.1 274.3 L891.3 273.7 L891.6 273.2 L892.0 272.6 L892.6 272.0 L893.2 271.4 L894.0 270.8 L894.8 270.2 L895.8 269.6 L896.8 269.1 L897.9 268.5 L899.1 268.0 L900.3 267.5 L901.6 267.0 L902.9 266.6 L904.3 266.2 L905.7 265.8 L907.1 265.5 L908.4 265.3 L909.8 265.0 L911.2 264.9 L912.5 264.7 L913.8 264.7 L915.0 264.7 L916.2 264.7 L917.3 264.8 L918.3 264.9 L919.2 265.1 L920.1 265.3 L920.8 265.6 L921.5 266.0 L922.0 266.3Z" fill="none" stroke="#009a44" stroke-width="2"/><line x1="152.8" y1="453.3" x2="152.8" y2="144.2" stroke="#000" stroke-width="3.2"/><path d="M152.8 122.9 L167.5 149.5 L152.8 144.2 L138.10000000000002 149.5Z" fill="#000"/><line x1="510.7" y1="393.6" x2="510.7" y2="362.3" stroke="#000" stroke-width="2.6"/><path d="M510.7 352.8 L517.5 365.8 L510.7 362.3 L503.9 365.8Z" fill="#000"/><line x1="676" y1="425" x2="676" y2="380.5" stroke="#000" stroke-width="2.6"/><path d="M676 371 L682.8 384 L676 380.5 L669.2 384Z" fill="#000"/><line x1="533.7" y1="430.8" x2="330" y2="430.8" stroke="#000" stroke-width="2.6"/><path d="M319 430.8 L332 424 L328.5 430.8 L332 437.6Z" fill="#000"/>
<line x1="152.5" y1="509.30" x2="914.4" y2="509.30" stroke="#b0b0b0" stroke-width="2.4"/>
<line x1="152.5" y1="588.92" x2="914.4" y2="588.92" stroke="#b0b0b0" stroke-width="2.4"/>
<line x1="152.5" y1="668.54" x2="914.4" y2="668.54" stroke="#b0b0b0" stroke-width="2.4"/>
<line x1="152.5" y1="748.16" x2="914.4" y2="748.16" stroke="#b0b0b0" stroke-width="2.4"/>
<line x1="152.5" y1="827.78" x2="914.4" y2="827.78" stroke="#b0b0b0" stroke-width="2.4"/>
<line x1="152.5" y1="907.40" x2="914.4" y2="907.40" stroke="#b0b0b0" stroke-width="2.4"/>
<line x1="330.1" y1="499.4" x2="330.1" y2="926.3" stroke="#b0b0b0" stroke-width="2.4"/>
<line x1="569.5" y1="499.4" x2="569.5" y2="926.3" stroke="#b0b0b0" stroke-width="2.4"/>
<line x1="808.9" y1="499.4" x2="808.9" y2="926.3" stroke="#b0b0b0" stroke-width="2.4"/>
<line x1="146" y1="925.06" x2="152.5" y2="925.06" stroke="#000" stroke-width="1.9"/>
<line x1="146" y1="919.73" x2="152.5" y2="919.73" stroke="#000" stroke-width="1.9"/>
<line x1="146" y1="915.12" x2="152.5" y2="915.12" stroke="#000" stroke-width="1.9"/>
<line x1="146" y1="911.04" x2="152.5" y2="911.04" stroke="#000" stroke-width="1.9"/>
<line x1="146" y1="883.43" x2="152.5" y2="883.43" stroke="#000" stroke-width="1.9"/>
<line x1="146" y1="869.41" x2="152.5" y2="869.41" stroke="#000" stroke-width="1.9"/>
<line x1="146" y1="859.46" x2="152.5" y2="859.46" stroke="#000" stroke-width="1.9"/>
<line x1="146" y1="851.75" x2="152.5" y2="851.75" stroke="#000" stroke-width="1.9"/>
<line x1="146" y1="845.44" x2="152.5" y2="845.44" stroke="#000" stroke-width="1.9"/>
<line x1="146" y1="840.11" x2="152.5" y2="840.11" stroke="#000" stroke-width="1.9"/>
<line x1="146" y1="835.50" x2="152.5" y2="835.50" stroke="#000" stroke-width="1.9"/>
<line x1="146" y1="831.42" x2="152.5" y2="831.42" stroke="#000" stroke-width="1.9"/>
<line x1="146" y1="803.81" x2="152.5" y2="803.81" stroke="#000" stroke-width="1.9"/>
<line x1="146" y1="789.79" x2="152.5" y2="789.79" stroke="#000" stroke-width="1.9"/>
<line x1="146" y1="779.84" x2="152.5" y2="779.84" stroke="#000" stroke-width="1.9"/>
<line x1="146" y1="772.13" x2="152.5" y2="772.13" stroke="#000" stroke-width="1.9"/>
<line x1="146" y1="765.82" x2="152.5" y2="765.82" stroke="#000" stroke-width="1.9"/>
<line x1="146" y1="760.49" x2="152.5" y2="760.49" stroke="#000" stroke-width="1.9"/>
<line x1="146" y1="755.88" x2="152.5" y2="755.88" stroke="#000" stroke-width="1.9"/>
<line x1="146" y1="751.80" x2="152.5" y2="751.80" stroke="#000" stroke-width="1.9"/>
<line x1="146" y1="724.19" x2="152.5" y2="724.19" stroke="#000" stroke-width="1.9"/>
<line x1="146" y1="710.17" x2="152.5" y2="710.17" stroke="#000" stroke-width="1.9"/>
<line x1="146" y1="700.22" x2="152.5" y2="700.22" stroke="#000" stroke-width="1.9"/>
<line x1="146" y1="692.51" x2="152.5" y2="692.51" stroke="#000" stroke-width="1.9"/>
<line x1="146" y1="686.20" x2="152.5" y2="686.20" stroke="#000" stroke-width="1.9"/>
<line x1="146" y1="680.87" x2="152.5" y2="680.87" stroke="#000" stroke-width="1.9"/>
<line x1="146" y1="676.26" x2="152.5" y2="676.26" stroke="#000" stroke-width="1.9"/>
<line x1="146" y1="672.18" x2="152.5" y2="672.18" stroke="#000" stroke-width="1.9"/>
<line x1="146" y1="644.57" x2="152.5" y2="644.57" stroke="#000" stroke-width="1.9"/>
<line x1="146" y1="630.55" x2="152.5" y2="630.55" stroke="#000" stroke-width="1.9"/>
<line x1="146" y1="620.60" x2="152.5" y2="620.60" stroke="#000" stroke-width="1.9"/>
<line x1="146" y1="612.89" x2="152.5" y2="612.89" stroke="#000" stroke-width="1.9"/>
<line x1="146" y1="606.58" x2="152.5" y2="606.58" stroke="#000" stroke-width="1.9"/>
<line x1="146" y1="601.25" x2="152.5" y2="601.25" stroke="#000" stroke-width="1.9"/>
<line x1="146" y1="596.64" x2="152.5" y2="596.64" stroke="#000" stroke-width="1.9"/>
<line x1="146" y1="592.56" x2="152.5" y2="592.56" stroke="#000" stroke-width="1.9"/>
<line x1="146" y1="564.95" x2="152.5" y2="564.95" stroke="#000" stroke-width="1.9"/>
<line x1="146" y1="550.93" x2="152.5" y2="550.93" stroke="#000" stroke-width="1.9"/>
<line x1="146" y1="540.98" x2="152.5" y2="540.98" stroke="#000" stroke-width="1.9"/>
<line x1="146" y1="533.27" x2="152.5" y2="533.27" stroke="#000" stroke-width="1.9"/>
<line x1="146" y1="526.96" x2="152.5" y2="526.96" stroke="#000" stroke-width="1.9"/>
<line x1="146" y1="521.63" x2="152.5" y2="521.63" stroke="#000" stroke-width="1.9"/>
<line x1="146" y1="517.02" x2="152.5" y2="517.02" stroke="#000" stroke-width="1.9"/>
<line x1="146" y1="512.94" x2="152.5" y2="512.94" stroke="#000" stroke-width="1.9"/>
<line x1="140.5" y1="509.30" x2="152.5" y2="509.30" stroke="#000" stroke-width="2.4"/>
<text x="47.4" y="522.90" font-size="37" textLength="42.4" lengthAdjust="spacingAndGlyphs" font-family="'Liberation Sans', sans-serif">10</text>
<rect x="92.3" y="499.70" width="15.5" height="2.5" fill="#000"/>
<text x="111.8" y="509.60" font-size="25.5" textLength="12.3" lengthAdjust="spacingAndGlyphs" font-family="'Liberation Sans', sans-serif">1</text>
<line x1="140.5" y1="588.92" x2="152.5" y2="588.92" stroke="#000" stroke-width="2.4"/>
<text x="47.4" y="602.52" font-size="37" textLength="42.4" lengthAdjust="spacingAndGlyphs" font-family="'Liberation Sans', sans-serif">10</text>
<rect x="92.3" y="579.32" width="15.5" height="2.5" fill="#000"/>
<text x="111.8" y="589.22" font-size="25.5" textLength="12.3" lengthAdjust="spacingAndGlyphs" font-family="'Liberation Sans', sans-serif">2</text>
<line x1="140.5" y1="668.54" x2="152.5" y2="668.54" stroke="#000" stroke-width="2.4"/>
<text x="47.4" y="682.14" font-size="37" textLength="42.4" lengthAdjust="spacingAndGlyphs" font-family="'Liberation Sans', sans-serif">10</text>
<rect x="92.3" y="658.94" width="15.5" height="2.5" fill="#000"/>
<text x="111.8" y="668.84" font-size="25.5" textLength="12.3" lengthAdjust="spacingAndGlyphs" font-family="'Liberation Sans', sans-serif">3</text>
<line x1="140.5" y1="748.16" x2="152.5" y2="748.16" stroke="#000" stroke-width="2.4"/>
<text x="47.4" y="761.76" font-size="37" textLength="42.4" lengthAdjust="spacingAndGlyphs" font-family="'Liberation Sans', sans-serif">10</text>
<rect x="92.3" y="738.56" width="15.5" height="2.5" fill="#000"/>
<text x="111.8" y="748.46" font-size="25.5" textLength="12.3" lengthAdjust="spacingAndGlyphs" font-family="'Liberation Sans', sans-serif">4</text>
<line x1="140.5" y1="827.78" x2="152.5" y2="827.78" stroke="#000" stroke-width="2.4"/>
<text x="47.4" y="841.38" font-size="37" textLength="42.4" lengthAdjust="spacingAndGlyphs" font-family="'Liberation Sans', sans-serif">10</text>
<rect x="92.3" y="818.18" width="15.5" height="2.5" fill="#000"/>
<text x="111.8" y="828.08" font-size="25.5" textLength="12.3" lengthAdjust="spacingAndGlyphs" font-family="'Liberation Sans', sans-serif">5</text>
<line x1="140.5" y1="907.40" x2="152.5" y2="907.40" stroke="#000" stroke-width="2.4"/>
<text x="47.4" y="921.00" font-size="37" textLength="42.4" lengthAdjust="spacingAndGlyphs" font-family="'Liberation Sans', sans-serif">10</text>
<rect x="92.3" y="897.80" width="15.5" height="2.5" fill="#000"/>
<text x="111.8" y="907.70" font-size="25.5" textLength="12.3" lengthAdjust="spacingAndGlyphs" font-family="'Liberation Sans', sans-serif">6</text>
<line x1="330.1" y1="926.3" x2="330.1" y2="938.5" stroke="#000" stroke-width="2.4"/>
<text x="308.8" y="977.4" font-size="37" textLength="42.4" lengthAdjust="spacingAndGlyphs" font-family="'Liberation Sans', sans-serif">15</text>
<line x1="569.5" y1="926.3" x2="569.5" y2="938.5" stroke="#000" stroke-width="2.4"/>
<text x="548.2" y="977.4" font-size="37" textLength="42.4" lengthAdjust="spacingAndGlyphs" font-family="'Liberation Sans', sans-serif">21</text>
<line x1="808.9" y1="926.3" x2="808.9" y2="938.5" stroke="#000" stroke-width="2.4"/>
<text x="787.6" y="977.4" font-size="37" textLength="42.4" lengthAdjust="spacingAndGlyphs" font-family="'Liberation Sans', sans-serif">27</text>
<text x="433.6" y="1022.6" font-size="36" textLength="160" lengthAdjust="spacingAndGlyphs" font-family="'Liberation Sans', sans-serif">Code Size</text>
<text x="606" y="1022.6" font-size="36" font-style="italic" font-family="'Liberation Sans', sans-serif">L</text>
<text transform="translate(25.3,742) rotate(-90)" font-size="36" textLength="60.2" lengthAdjust="spacingAndGlyphs" font-family="'Liberation Sans', sans-serif">LER</text>
<text x="0.8" y="494.6" font-size="36" font-family="'Liberation Sans', sans-serif">(b)</text>
<line x1="272.4" y1="539.4" x2="272.4" y2="562.0" stroke="#000" stroke-width="1.5"/>
<line x1="272.4" y1="593.6" x2="272.4" y2="639.8" stroke="#000" stroke-width="1.5"/>
<line x1="269.5" y1="539.4" x2="275.29999999999995" y2="539.4" stroke="#000" stroke-width="1.5"/>
<line x1="269.5" y1="639.8" x2="275.29999999999995" y2="639.8" stroke="#000" stroke-width="1.5"/>
<rect x="267.4" y="562.0" width="10.0" height="31.6" fill="#ff9896" stroke="#000" stroke-width="1.5"/>
<line x1="267.4" y1="578.8" x2="277.4" y2="578.8" stroke="#000" stroke-width="1.5"/>
<circle cx="272.4" cy="519" r="2.1" fill="#ff9896" stroke="#000" stroke-width="1.3"/>
<circle cx="272.4" cy="524.4" r="2.1" fill="#ff9896" stroke="#000" stroke-width="1.3"/>
<circle cx="272.4" cy="537.3" r="2.1" fill="#ff9896" stroke="#000" stroke-width="1.3"/>
<circle cx="272.4" cy="538.3" r="2.1" fill="#ff9896" stroke="#000" stroke-width="1.3"/>
<line x1="512.2" y1="544.0" x2="512.2" y2="568.1" stroke="#000" stroke-width="1.5"/>
<line x1="512.2" y1="605.6" x2="512.2" y2="668.4" stroke="#000" stroke-width="1.5"/>
<line x1="509.30000000000007" y1="544.0" x2="515.1" y2="544.0" stroke="#000" stroke-width="1.5"/>
<line x1="509.30000000000007" y1="668.4" x2="515.1" y2="668.4" stroke="#000" stroke-width="1.5"/>
<rect x="507.20000000000005" y="568.1" width="10.0" height="37.5" fill="#ff9896" stroke="#000" stroke-width="1.5"/>
<line x1="507.20000000000005" y1="586.3" x2="517.2" y2="586.3" stroke="#000" stroke-width="1.5"/>
<circle cx="512.2" cy="523.1" r="2.1" fill="#ff9896" stroke="#000" stroke-width="1.3"/>
<circle cx="512.2" cy="538.4" r="2.1" fill="#ff9896" stroke="#000" stroke-width="1.3"/>
<circle cx="512.2" cy="540" r="2.1" fill="#ff9896" stroke="#000" stroke-width="1.3"/>
<line x1="751.4" y1="573.9" x2="751.4" y2="592.3" stroke="#000" stroke-width="1.5"/>
<line x1="751.4" y1="631.6" x2="751.4" y2="686.1" stroke="#000" stroke-width="1.5"/>
<line x1="748.5" y1="573.9" x2="754.3" y2="573.9" stroke="#000" stroke-width="1.5"/>
<line x1="748.5" y1="686.1" x2="754.3" y2="686.1" stroke="#000" stroke-width="1.5"/>
<rect x="746.4" y="592.3" width="10.0" height="39.3" fill="#ff9896" stroke="#000" stroke-width="1.5"/>
<line x1="746.4" y1="613.6" x2="756.4" y2="613.6" stroke="#000" stroke-width="1.5"/>
<circle cx="751.4" cy="523.9" r="2.1" fill="#ff9896" stroke="#000" stroke-width="1.3"/>
<circle cx="751.4" cy="554.2" r="2.1" fill="#ff9896" stroke="#000" stroke-width="1.3"/>
<circle cx="751.4" cy="557.5" r="2.1" fill="#ff9896" stroke="#000" stroke-width="1.3"/>
<circle cx="751.4" cy="566.5" r="2.1" fill="#ff9896" stroke="#000" stroke-width="1.3"/>
<line x1="286.7" y1="576.6" x2="286.7" y2="593.2" stroke="#000" stroke-width="1.5"/>
<line x1="286.7" y1="622.2" x2="286.7" y2="673.4" stroke="#000" stroke-width="1.5"/>
<line x1="283.8" y1="576.6" x2="289.59999999999997" y2="576.6" stroke="#000" stroke-width="1.5"/>
<line x1="283.8" y1="673.4" x2="289.59999999999997" y2="673.4" stroke="#000" stroke-width="1.5"/>
<rect x="281.7" y="593.2" width="10.0" height="29.0" fill="#ffbb78" stroke="#000" stroke-width="1.5"/>
<line x1="281.7" y1="609.7" x2="291.7" y2="609.7" stroke="#000" stroke-width="1.5"/>
<circle cx="286.7" cy="530.8" r="2.1" fill="#ffbb78" stroke="#000" stroke-width="1.3"/>
<circle cx="286.7" cy="559.8" r="2.1" fill="#ffbb78" stroke="#000" stroke-width="1.3"/>
<circle cx="286.7" cy="562" r="2.1" fill="#ffbb78" stroke="#000" stroke-width="1.3"/>
<circle cx="286.7" cy="564.1" r="2.1" fill="#ffbb78" stroke="#000" stroke-width="1.3"/>
<circle cx="286.7" cy="566.3" r="2.1" fill="#ffbb78" stroke="#000" stroke-width="1.3"/>
<circle cx="286.7" cy="569.5" r="2.1" fill="#ffbb78" stroke="#000" stroke-width="1.3"/>
<circle cx="286.7" cy="571.7" r="2.1" fill="#ffbb78" stroke="#000" stroke-width="1.3"/>
<line x1="526.6" y1="591.9" x2="526.6" y2="612.8" stroke="#000" stroke-width="1.5"/>
<line x1="526.6" y1="645.6" x2="526.6" y2="696.3" stroke="#000" stroke-width="1.5"/>
<line x1="523.7" y1="591.9" x2="529.5" y2="591.9" stroke="#000" stroke-width="1.5"/>
<line x1="523.7" y1="696.3" x2="529.5" y2="696.3" stroke="#000" stroke-width="1.5"/>
<rect x="521.6" y="612.8" width="10.0" height="32.8" fill="#ffbb78" stroke="#000" stroke-width="1.5"/>
<line x1="521.6" y1="625.3" x2="531.6" y2="625.3" stroke="#000" stroke-width="1.5"/>
<circle cx="526.6" cy="569" r="2.1" fill="#ffbb78" stroke="#000" stroke-width="1.3"/>
<circle cx="526.6" cy="572" r="2.1" fill="#ffbb78" stroke="#000" stroke-width="1.3"/>
<circle cx="526.6" cy="575.3" r="2.1" fill="#ffbb78" stroke="#000" stroke-width="1.3"/>
<circle cx="526.6" cy="579" r="2.1" fill="#ffbb78" stroke="#000" stroke-width="1.3"/>
<circle cx="526.6" cy="582.5" r="2.1" fill="#ffbb78" stroke="#000" stroke-width="1.3"/>
<circle cx="526.6" cy="586.3" r="2.1" fill="#ffbb78" stroke="#000" stroke-width="1.3"/>
<line x1="765.7" y1="620.6" x2="765.7" y2="639.4" stroke="#000" stroke-width="1.5"/>
<line x1="765.7" y1="677.5" x2="765.7" y2="722.2" stroke="#000" stroke-width="1.5"/>
<line x1="762.8000000000001" y1="620.6" x2="768.6" y2="620.6" stroke="#000" stroke-width="1.5"/>
<line x1="762.8000000000001" y1="722.2" x2="768.6" y2="722.2" stroke="#000" stroke-width="1.5"/>
<rect x="760.7" y="639.4" width="10.0" height="38.1" fill="#ffbb78" stroke="#000" stroke-width="1.5"/>
<line x1="760.7" y1="660.7" x2="770.7" y2="660.7" stroke="#000" stroke-width="1.5"/>
<circle cx="765.7" cy="593.1" r="2.1" fill="#ffbb78" stroke="#000" stroke-width="1.3"/>
<circle cx="765.7" cy="597.2" r="2.1" fill="#ffbb78" stroke="#000" stroke-width="1.3"/>
<circle cx="765.7" cy="601.3" r="2.1" fill="#ffbb78" stroke="#000" stroke-width="1.3"/>
<circle cx="765.7" cy="605.4" r="2.1" fill="#ffbb78" stroke="#000" stroke-width="1.3"/>
<circle cx="765.7" cy="609.5" r="2.1" fill="#ffbb78" stroke="#000" stroke-width="1.3"/>
<circle cx="765.7" cy="613" r="2.1" fill="#ffbb78" stroke="#000" stroke-width="1.3"/>
<circle cx="765.7" cy="615.7" r="2.1" fill="#ffbb78" stroke="#000" stroke-width="1.3"/>
<line x1="301.4" y1="590.0" x2="301.4" y2="613.6" stroke="#000" stroke-width="1.5"/>
<line x1="301.4" y1="646.9" x2="301.4" y2="697.5" stroke="#000" stroke-width="1.5"/>
<line x1="298.5" y1="590.0" x2="304.29999999999995" y2="590.0" stroke="#000" stroke-width="1.5"/>
<line x1="298.5" y1="697.5" x2="304.29999999999995" y2="697.5" stroke="#000" stroke-width="1.5"/>
<rect x="296.4" y="613.6" width="10.0" height="33.3" fill="#aec7e8" stroke="#000" stroke-width="1.5"/>
<line x1="296.4" y1="630.4" x2="306.4" y2="630.4" stroke="#000" stroke-width="1.5"/>
<circle cx="301.4" cy="567.4" r="2.1" fill="#aec7e8" stroke="#000" stroke-width="1.3"/>
<circle cx="301.4" cy="575.5" r="2.1" fill="#aec7e8" stroke="#000" stroke-width="1.3"/>
<circle cx="301.4" cy="579.2" r="2.1" fill="#aec7e8" stroke="#000" stroke-width="1.3"/>
<circle cx="301.4" cy="583.5" r="2.1" fill="#aec7e8" stroke="#000" stroke-width="1.3"/>
<circle cx="301.4" cy="586.7" r="2.1" fill="#aec7e8" stroke="#000" stroke-width="1.3"/>
<circle cx="301.4" cy="589.5" r="2.1" fill="#aec7e8" stroke="#000" stroke-width="1.3"/>
<line x1="540.8" y1="629.0" x2="540.8" y2="650.9" stroke="#000" stroke-width="1.5"/>
<line x1="540.8" y1="693.4" x2="540.8" y2="736.3" stroke="#000" stroke-width="1.5"/>
<line x1="537.9" y1="629.0" x2="543.6999999999999" y2="629.0" stroke="#000" stroke-width="1.5"/>
<line x1="537.9" y1="736.3" x2="543.6999999999999" y2="736.3" stroke="#000" stroke-width="1.5"/>
<rect x="535.8" y="650.9" width="10.0" height="42.5" fill="#aec7e8" stroke="#000" stroke-width="1.5"/>
<line x1="535.8" y1="671.3" x2="545.8" y2="671.3" stroke="#000" stroke-width="1.5"/>
<circle cx="540.8" cy="603.4" r="2.1" fill="#aec7e8" stroke="#000" stroke-width="1.3"/>
<circle cx="540.8" cy="608.1" r="2.1" fill="#aec7e8" stroke="#000" stroke-width="1.3"/>
<circle cx="540.8" cy="614.4" r="2.1" fill="#aec7e8" stroke="#000" stroke-width="1.3"/>
<circle cx="540.8" cy="619" r="2.1" fill="#aec7e8" stroke="#000" stroke-width="1.3"/>
<circle cx="540.8" cy="622.2" r="2.1" fill="#aec7e8" stroke="#000" stroke-width="1.3"/>
<circle cx="540.8" cy="624.7" r="2.1" fill="#aec7e8" stroke="#000" stroke-width="1.3"/>
<line x1="780.3" y1="677.1" x2="780.3" y2="696.0" stroke="#000" stroke-width="1.5"/>
<line x1="780.3" y1="726.3" x2="780.3" y2="766.1" stroke="#000" stroke-width="1.5"/>
<line x1="777.4" y1="677.1" x2="783.1999999999999" y2="677.1" stroke="#000" stroke-width="1.5"/>
<line x1="777.4" y1="766.1" x2="783.1999999999999" y2="766.1" stroke="#000" stroke-width="1.5"/>
<rect x="775.3" y="696.0" width="10.0" height="30.3" fill="#aec7e8" stroke="#000" stroke-width="1.5"/>
<line x1="775.3" y1="709.9" x2="785.3" y2="709.9" stroke="#000" stroke-width="1.5"/>
<circle cx="780.3" cy="634.9" r="2.1" fill="#aec7e8" stroke="#000" stroke-width="1.3"/>
<circle cx="780.3" cy="655.4" r="2.1" fill="#aec7e8" stroke="#000" stroke-width="1.3"/>
<circle cx="780.3" cy="664" r="2.1" fill="#aec7e8" stroke="#000" stroke-width="1.3"/>
<circle cx="780.3" cy="666.1" r="2.1" fill="#aec7e8" stroke="#000" stroke-width="1.3"/>
<circle cx="780.3" cy="669" r="2.1" fill="#aec7e8" stroke="#000" stroke-width="1.3"/>
<line x1="315.6" y1="644.8" x2="315.6" y2="661.3" stroke="#000" stroke-width="1.5"/>
<line x1="315.6" y1="687.4" x2="315.6" y2="719.0" stroke="#000" stroke-width="1.5"/>
<line x1="312.70000000000005" y1="644.8" x2="318.5" y2="644.8" stroke="#000" stroke-width="1.5"/>
<line x1="312.70000000000005" y1="719.0" x2="318.5" y2="719.0" stroke="#000" stroke-width="1.5"/>
<rect x="310.6" y="661.3" width="10.0" height="26.1" fill="#98df8a" stroke="#000" stroke-width="1.5"/>
<line x1="310.6" y1="672.1" x2="320.6" y2="672.1" stroke="#000" stroke-width="1.5"/>
<circle cx="315.6" cy="610.4" r="2.1" fill="#98df8a" stroke="#000" stroke-width="1.3"/>
<circle cx="315.6" cy="617.9" r="2.1" fill="#98df8a" stroke="#000" stroke-width="1.3"/>
<circle cx="315.6" cy="620" r="2.1" fill="#98df8a" stroke="#000" stroke-width="1.3"/>
<circle cx="315.6" cy="622.8" r="2.1" fill="#98df8a" stroke="#000" stroke-width="1.3"/>
<circle cx="315.6" cy="625.9" r="2.1" fill="#98df8a" stroke="#000" stroke-width="1.3"/>
<circle cx="315.6" cy="629.1" r="2.1" fill="#98df8a" stroke="#000" stroke-width="1.3"/>
<circle cx="315.6" cy="632.3" r="2.1" fill="#98df8a" stroke="#000" stroke-width="1.3"/>
<circle cx="315.6" cy="635.1" r="2.1" fill="#98df8a" stroke="#000" stroke-width="1.3"/>
<circle cx="315.6" cy="639.4" r="2.1" fill="#98df8a" stroke="#000" stroke-width="1.3"/>
<line x1="555.2" y1="697.8" x2="555.2" y2="718.1" stroke="#000" stroke-width="1.5"/>
<line x1="555.2" y1="747.8" x2="555.2" y2="791.6" stroke="#000" stroke-width="1.5"/>
<line x1="552.3000000000001" y1="697.8" x2="558.1" y2="697.8" stroke="#000" stroke-width="1.5"/>
<line x1="552.3000000000001" y1="791.6" x2="558.1" y2="791.6" stroke="#000" stroke-width="1.5"/>
<rect x="550.2" y="718.1" width="10.0" height="29.7" fill="#98df8a" stroke="#000" stroke-width="1.5"/>
<line x1="550.2" y1="733.1" x2="560.2" y2="733.1" stroke="#000" stroke-width="1.5"/>
<circle cx="555.2" cy="670.6" r="2.1" fill="#98df8a" stroke="#000" stroke-width="1.3"/>
<circle cx="555.2" cy="679" r="2.1" fill="#98df8a" stroke="#000" stroke-width="1.3"/>
<circle cx="555.2" cy="683.8" r="2.1" fill="#98df8a" stroke="#000" stroke-width="1.3"/>
<circle cx="555.2" cy="688.8" r="2.1" fill="#98df8a" stroke="#000" stroke-width="1.3"/>
<circle cx="555.2" cy="692.5" r="2.1" fill="#98df8a" stroke="#000" stroke-width="1.3"/>
<circle cx="555.2" cy="694.7" r="2.1" fill="#98df8a" stroke="#000" stroke-width="1.3"/>
<line x1="794.6" y1="750.1" x2="794.6" y2="773.0" stroke="#000" stroke-width="1.5"/>
<line x1="794.6" y1="809.5" x2="794.6" y2="882.0" stroke="#000" stroke-width="1.5"/>
<line x1="791.7" y1="750.1" x2="797.5" y2="750.1" stroke="#000" stroke-width="1.5"/>
<line x1="791.7" y1="882.0" x2="797.5" y2="882.0" stroke="#000" stroke-width="1.5"/>
<rect x="789.6" y="773.0" width="10.0" height="36.5" fill="#98df8a" stroke="#000" stroke-width="1.5"/>
<line x1="789.6" y1="792.7" x2="799.6" y2="792.7" stroke="#000" stroke-width="1.5"/>
<circle cx="794.6" cy="724.3" r="2.1" fill="#98df8a" stroke="#000" stroke-width="1.3"/>
<circle cx="794.6" cy="729.6" r="2.1" fill="#98df8a" stroke="#000" stroke-width="1.3"/>
<circle cx="794.6" cy="733.7" r="2.1" fill="#98df8a" stroke="#000" stroke-width="1.3"/>
<circle cx="794.6" cy="740.7" r="2.1" fill="#98df8a" stroke="#000" stroke-width="1.3"/>
<circle cx="794.6" cy="744.8" r="2.1" fill="#98df8a" stroke="#000" stroke-width="1.3"/>
<polyline points="330.1,552.3 569.5,566.6 808.9,582.9" fill="none" stroke="#d62728" stroke-width="3.6" stroke-dasharray="12.8 5.6"/>
<path d="M330.1 540.3 L342.1 552.3 L330.1 564.3 L318.1 552.3Z" fill="#d62728"/>
<path d="M569.5 554.6 L581.5 566.6 L569.5 578.6 L557.5 566.6Z" fill="#d62728"/>
<path d="M808.9 570.9 L820.9 582.9 L808.9 594.9 L796.9 582.9Z" fill="#d62728"/>
<polyline points="330.1,617.7 569.5,661.9 808.9,712.0" fill="none" stroke="#1f77b4" stroke-width="3.6" stroke-dasharray="12.8 5.6"/>
<rect x="321.40000000000003" y="609.0" width="17.4" height="17.4" fill="#1f77b4"/>
<rect x="560.8" y="653.1999999999999" width="17.4" height="17.4" fill="#1f77b4"/>
<rect x="800.1999999999999" y="703.3" width="17.4" height="17.4" fill="#1f77b4"/>
<polyline points="330.1,713.2 569.5,801.3 808.9,907.0" fill="none" stroke="#2ca02c" stroke-width="3.6" stroke-dasharray="12.8 5.6"/>
<circle cx="330.1" cy="713.2" r="8.6" fill="#2ca02c"/>
<circle cx="569.5" cy="801.3" r="8.6" fill="#2ca02c"/>
<circle cx="808.9" cy="907.0" r="8.6" fill="#2ca02c"/>
<rect x="165.9" y="742.3" width="243.1" height="169.7" rx="5" fill="#fff" fill-opacity="0.8" stroke="#cccccc" stroke-width="2.2"/>
<rect x="177.4" y="755.2" width="55.6" height="19.2" fill="#ff9896" stroke="#000" stroke-width="1.5"/>
<text x="256.3" y="774.3" font-size="27.7" textLength="121" lengthAdjust="spacingAndGlyphs" font-family="'Liberation Sans', sans-serif">DR=0.02</text>
<rect x="177.4" y="795.6" width="55.6" height="19.2" fill="#ffbb78" stroke="#000" stroke-width="1.5"/>
<text x="256.3" y="814.7" font-size="27.7" textLength="139" lengthAdjust="spacingAndGlyphs" font-family="'Liberation Sans', sans-serif">DR=0.015</text>
<rect x="177.4" y="836.0" width="55.6" height="19.2" fill="#aec7e8" stroke="#000" stroke-width="1.5"/>
<text x="256.3" y="855.1" font-size="27.7" textLength="121" lengthAdjust="spacingAndGlyphs" font-family="'Liberation Sans', sans-serif">DR=0.01</text>
<rect x="177.4" y="876.4" width="55.6" height="19.2" fill="#98df8a" stroke="#000" stroke-width="1.5"/>
<text x="256.3" y="895.5" font-size="27.7" textLength="139" lengthAdjust="spacingAndGlyphs" font-family="'Liberation Sans', sans-serif">DR=0.005</text>
<rect x="152.5" y="499.4" width="761.9" height="426.9" fill="none" stroke="#000" stroke-width="2.5"/>
</svg>
</body></html>
